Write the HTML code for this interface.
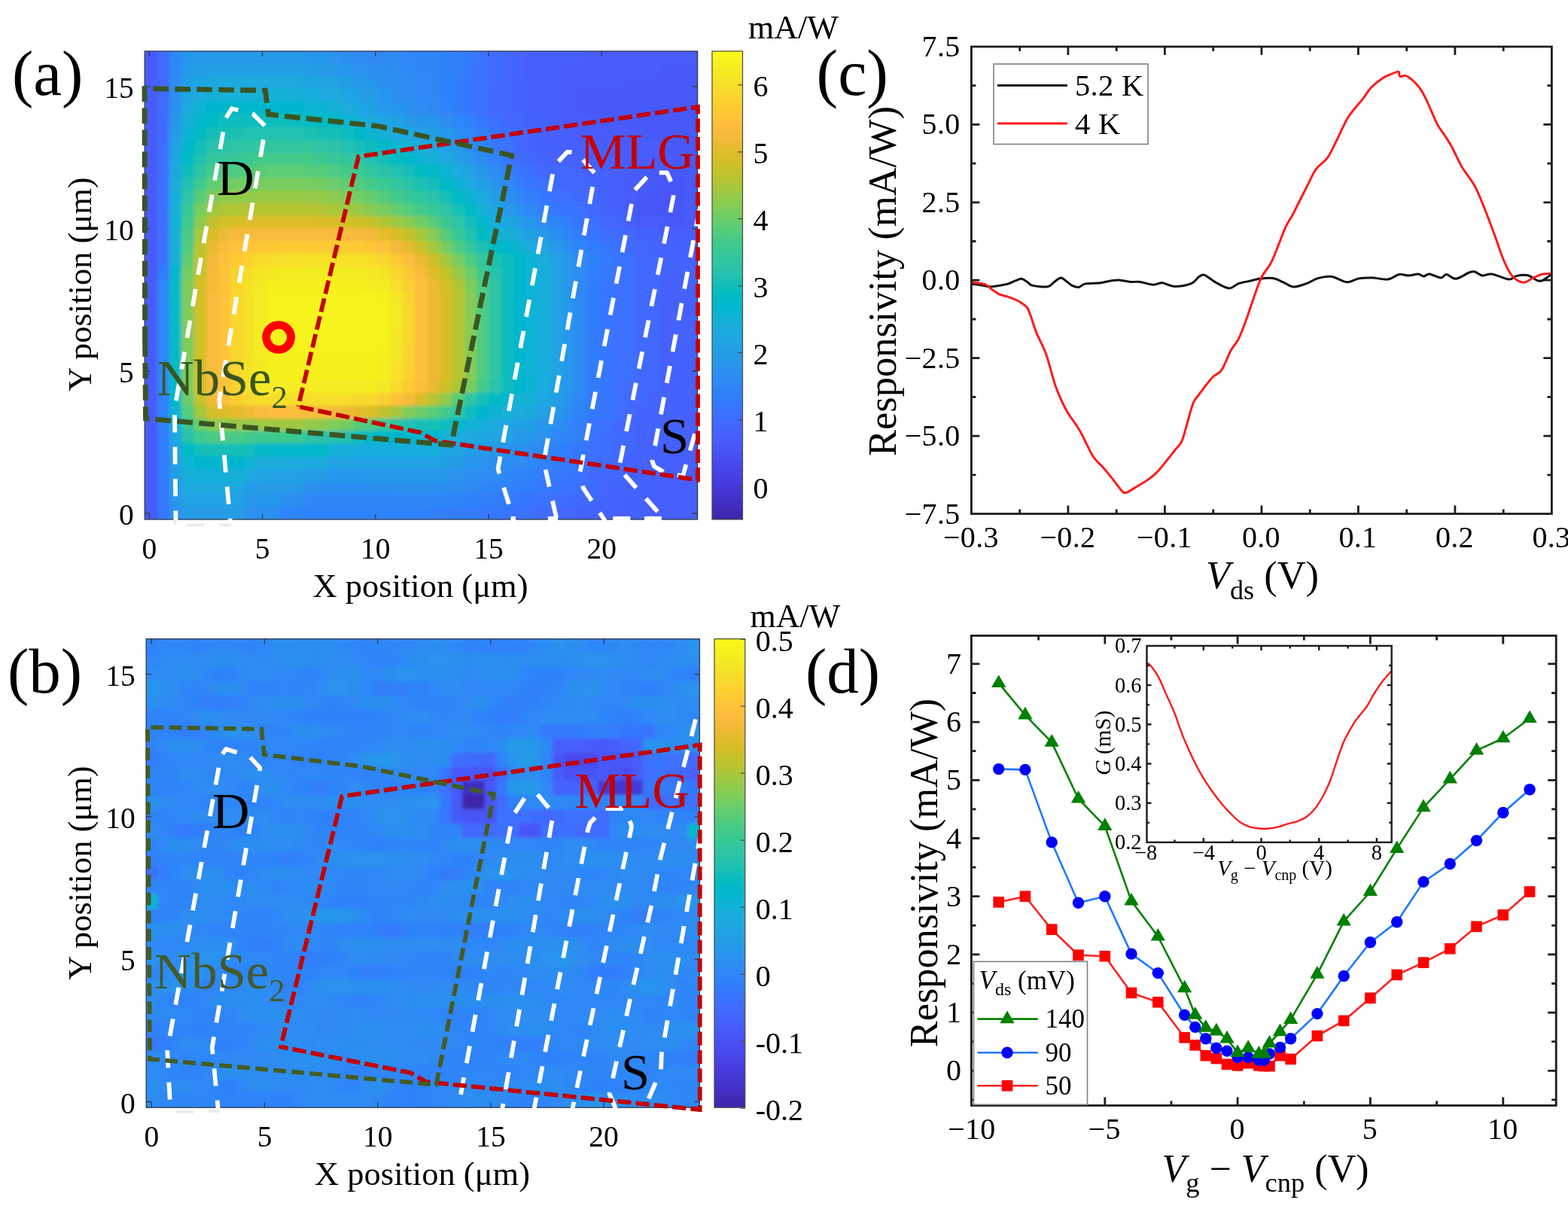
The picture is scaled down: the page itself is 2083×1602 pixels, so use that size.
<!DOCTYPE html>
<html lang="en"><head><meta charset="utf-8"><title>Responsivity maps and curves</title>
<style>html,body{margin:0;padding:0;background:#fff}body{width:2083px;height:1602px;overflow:hidden}svg{display:block}text{font-family:'Liberation Serif',serif}.i{font-style:italic}.t{letter-spacing:.3px}</style></head><body>
<svg width="2083" height="1602" viewBox="0 0 2083 1602">
<rect width="2083" height="1602" fill="#fff"/>
<g id="panel-a">
<clipPath id="hca"><rect x="192.2" y="68" width="734.4" height="622"/></clipPath>
<filter id="hba" x="-5%" y="-5%" width="110%" height="110%"><feGaussianBlur stdDeviation="2.2"/></filter>
<g clip-path="url(#hca)"><g filter="url(#hba)" shape-rendering="crispEdges">
<rect x="175.9" y="51.2" width="33" height="17.2" fill="#475cfa"/>
<rect x="208.5" y="51.2" width="16.7" height="17.2" fill="#406cfe"/>
<rect x="224.8" y="51.2" width="16.7" height="17.2" fill="#2e87f7"/>
<rect x="241.2" y="51.2" width="16.7" height="17.2" fill="#2895ec"/>
<rect x="257.5" y="51.2" width="147.3" height="17.2" fill="#2699e9"/>
<rect x="404.4" y="51.2" width="16.7" height="17.2" fill="#2797eb"/>
<rect x="420.7" y="51.2" width="16.7" height="17.2" fill="#2895ec"/>
<rect x="437" y="51.2" width="16.7" height="17.2" fill="#2a93ee"/>
<rect x="453.3" y="51.2" width="16.7" height="17.2" fill="#2c8ef1"/>
<rect x="469.6" y="51.2" width="16.7" height="17.2" fill="#2d8cf3"/>
<rect x="486" y="51.2" width="49.4" height="17.2" fill="#2d89f5"/>
<rect x="534.9" y="51.2" width="49.4" height="17.2" fill="#2e87f7"/>
<rect x="583.9" y="51.2" width="16.7" height="17.2" fill="#2f82fa"/>
<rect x="600.2" y="51.2" width="16.7" height="17.2" fill="#307ffb"/>
<rect x="616.5" y="51.2" width="16.7" height="17.2" fill="#347afd"/>
<rect x="632.8" y="51.2" width="16.7" height="17.2" fill="#3c72ff"/>
<rect x="649.2" y="51.2" width="16.7" height="17.2" fill="#406cfe"/>
<rect x="665.5" y="51.2" width="16.7" height="17.2" fill="#4367fd"/>
<rect x="681.8" y="51.2" width="16.7" height="17.2" fill="#4464fd"/>
<rect x="698.1" y="51.2" width="82" height="17.2" fill="#465ffb"/>
<rect x="779.7" y="51.2" width="163.6" height="17.2" fill="#475cfa"/>
<rect x="175.9" y="68" width="33" height="17.2" fill="#475cfa"/>
<rect x="208.5" y="68" width="16.7" height="17.2" fill="#406cfe"/>
<rect x="224.8" y="68" width="16.7" height="17.2" fill="#2e87f7"/>
<rect x="241.2" y="68" width="16.7" height="17.2" fill="#2895ec"/>
<rect x="257.5" y="68" width="147.3" height="17.2" fill="#2699e9"/>
<rect x="404.4" y="68" width="16.7" height="17.2" fill="#2797eb"/>
<rect x="420.7" y="68" width="16.7" height="17.2" fill="#2895ec"/>
<rect x="437" y="68" width="16.7" height="17.2" fill="#2a93ee"/>
<rect x="453.3" y="68" width="16.7" height="17.2" fill="#2c8ef1"/>
<rect x="469.6" y="68" width="16.7" height="17.2" fill="#2d8cf3"/>
<rect x="486" y="68" width="49.4" height="17.2" fill="#2d89f5"/>
<rect x="534.9" y="68" width="49.4" height="17.2" fill="#2e87f7"/>
<rect x="583.9" y="68" width="16.7" height="17.2" fill="#2f82fa"/>
<rect x="600.2" y="68" width="16.7" height="17.2" fill="#307ffb"/>
<rect x="616.5" y="68" width="16.7" height="17.2" fill="#347afd"/>
<rect x="632.8" y="68" width="16.7" height="17.2" fill="#3c72ff"/>
<rect x="649.2" y="68" width="16.7" height="17.2" fill="#406cfe"/>
<rect x="665.5" y="68" width="16.7" height="17.2" fill="#4367fd"/>
<rect x="681.8" y="68" width="16.7" height="17.2" fill="#4464fd"/>
<rect x="698.1" y="68" width="82" height="17.2" fill="#465ffb"/>
<rect x="779.7" y="68" width="163.6" height="17.2" fill="#475cfa"/>
<rect x="175.9" y="84.8" width="33" height="17.2" fill="#475cfa"/>
<rect x="208.5" y="84.8" width="16.7" height="17.2" fill="#406cfe"/>
<rect x="224.8" y="84.8" width="16.7" height="17.2" fill="#2d89f5"/>
<rect x="241.2" y="84.8" width="16.7" height="17.2" fill="#2699e9"/>
<rect x="257.5" y="84.8" width="16.7" height="17.2" fill="#23a0e5"/>
<rect x="273.8" y="84.8" width="131" height="17.2" fill="#22a2e4"/>
<rect x="404.4" y="84.8" width="16.7" height="17.2" fill="#249ee6"/>
<rect x="420.7" y="84.8" width="16.7" height="17.2" fill="#259ce7"/>
<rect x="437" y="84.8" width="16.7" height="17.2" fill="#2699e9"/>
<rect x="453.3" y="84.8" width="16.7" height="17.2" fill="#2797eb"/>
<rect x="469.6" y="84.8" width="16.7" height="17.2" fill="#2a93ee"/>
<rect x="486" y="84.8" width="16.7" height="17.2" fill="#2b90ef"/>
<rect x="502.3" y="84.8" width="16.7" height="17.2" fill="#2c8ef1"/>
<rect x="518.6" y="84.8" width="16.7" height="17.2" fill="#2d8cf3"/>
<rect x="534.9" y="84.8" width="16.7" height="17.2" fill="#2d89f5"/>
<rect x="551.2" y="84.8" width="33" height="17.2" fill="#2e87f7"/>
<rect x="583.9" y="84.8" width="16.7" height="17.2" fill="#2f82fa"/>
<rect x="600.2" y="84.8" width="16.7" height="17.2" fill="#307ffb"/>
<rect x="616.5" y="84.8" width="16.7" height="17.2" fill="#3677fe"/>
<rect x="632.8" y="84.8" width="16.7" height="17.2" fill="#3c72ff"/>
<rect x="649.2" y="84.8" width="16.7" height="17.2" fill="#406cfe"/>
<rect x="665.5" y="84.8" width="16.7" height="17.2" fill="#4367fd"/>
<rect x="681.8" y="84.8" width="16.7" height="17.2" fill="#4464fd"/>
<rect x="698.1" y="84.8" width="49.4" height="17.2" fill="#465ffb"/>
<rect x="747.1" y="84.8" width="131" height="17.2" fill="#475cfa"/>
<rect x="877.6" y="84.8" width="65.7" height="17.2" fill="#475af9"/>
<rect x="175.9" y="101.6" width="33" height="17.2" fill="#475cfa"/>
<rect x="208.5" y="101.6" width="16.7" height="17.2" fill="#406cfe"/>
<rect x="224.8" y="101.6" width="16.7" height="17.2" fill="#2d8cf3"/>
<rect x="241.2" y="101.6" width="16.7" height="17.2" fill="#23a0e5"/>
<rect x="257.5" y="101.6" width="16.7" height="17.2" fill="#1fa6e2"/>
<rect x="273.8" y="101.6" width="16.7" height="17.2" fill="#1da8e0"/>
<rect x="290.1" y="101.6" width="98.3" height="17.2" fill="#1caadf"/>
<rect x="388" y="101.6" width="16.7" height="17.2" fill="#1da8e0"/>
<rect x="404.4" y="101.6" width="16.7" height="17.2" fill="#1fa6e2"/>
<rect x="420.7" y="101.6" width="16.7" height="17.2" fill="#20a4e3"/>
<rect x="437" y="101.6" width="16.7" height="17.2" fill="#22a2e4"/>
<rect x="453.3" y="101.6" width="16.7" height="17.2" fill="#249ee6"/>
<rect x="469.6" y="101.6" width="16.7" height="17.2" fill="#2699e9"/>
<rect x="486" y="101.6" width="16.7" height="17.2" fill="#2895ec"/>
<rect x="502.3" y="101.6" width="16.7" height="17.2" fill="#2b90ef"/>
<rect x="518.6" y="101.6" width="16.7" height="17.2" fill="#2c8ef1"/>
<rect x="534.9" y="101.6" width="16.7" height="17.2" fill="#2d8cf3"/>
<rect x="551.2" y="101.6" width="16.7" height="17.2" fill="#2d89f5"/>
<rect x="567.6" y="101.6" width="16.7" height="17.2" fill="#2e87f7"/>
<rect x="583.9" y="101.6" width="16.7" height="17.2" fill="#2f82fa"/>
<rect x="600.2" y="101.6" width="16.7" height="17.2" fill="#317dfc"/>
<rect x="616.5" y="101.6" width="16.7" height="17.2" fill="#3677fe"/>
<rect x="632.8" y="101.6" width="16.7" height="17.2" fill="#3c72ff"/>
<rect x="649.2" y="101.6" width="16.7" height="17.2" fill="#406cfe"/>
<rect x="665.5" y="101.6" width="16.7" height="17.2" fill="#4367fd"/>
<rect x="681.8" y="101.6" width="16.7" height="17.2" fill="#4464fd"/>
<rect x="698.1" y="101.6" width="16.7" height="17.2" fill="#4562fc"/>
<rect x="714.4" y="101.6" width="33" height="17.2" fill="#465ffb"/>
<rect x="747.1" y="101.6" width="82" height="17.2" fill="#475cfa"/>
<rect x="828.7" y="101.6" width="114.6" height="17.2" fill="#475af9"/>
<rect x="175.9" y="118.4" width="33" height="17.2" fill="#475cfa"/>
<rect x="208.5" y="118.4" width="16.7" height="17.2" fill="#406cfe"/>
<rect x="224.8" y="118.4" width="16.7" height="17.2" fill="#2c8ef1"/>
<rect x="241.2" y="118.4" width="16.7" height="17.2" fill="#1fa6e2"/>
<rect x="257.5" y="118.4" width="16.7" height="17.2" fill="#1aacdd"/>
<rect x="273.8" y="118.4" width="16.7" height="17.2" fill="#15afd8"/>
<rect x="290.1" y="118.4" width="98.3" height="17.2" fill="#12b1d6"/>
<rect x="388" y="118.4" width="16.7" height="17.2" fill="#15afd8"/>
<rect x="404.4" y="118.4" width="16.7" height="17.2" fill="#18aedb"/>
<rect x="420.7" y="118.4" width="16.7" height="17.2" fill="#1aacdd"/>
<rect x="437" y="118.4" width="16.7" height="17.2" fill="#1caadf"/>
<rect x="453.3" y="118.4" width="16.7" height="17.2" fill="#1fa6e2"/>
<rect x="469.6" y="118.4" width="16.7" height="17.2" fill="#23a0e5"/>
<rect x="486" y="118.4" width="16.7" height="17.2" fill="#259ce7"/>
<rect x="502.3" y="118.4" width="16.7" height="17.2" fill="#2895ec"/>
<rect x="518.6" y="118.4" width="16.7" height="17.2" fill="#2b90ef"/>
<rect x="534.9" y="118.4" width="16.7" height="17.2" fill="#2d8cf3"/>
<rect x="551.2" y="118.4" width="16.7" height="17.2" fill="#2d89f5"/>
<rect x="567.6" y="118.4" width="16.7" height="17.2" fill="#2e87f7"/>
<rect x="583.9" y="118.4" width="16.7" height="17.2" fill="#2f82fa"/>
<rect x="600.2" y="118.4" width="16.7" height="17.2" fill="#317dfc"/>
<rect x="616.5" y="118.4" width="16.7" height="17.2" fill="#3677fe"/>
<rect x="632.8" y="118.4" width="16.7" height="17.2" fill="#3c72ff"/>
<rect x="649.2" y="118.4" width="16.7" height="17.2" fill="#4269fe"/>
<rect x="665.5" y="118.4" width="16.7" height="17.2" fill="#4367fd"/>
<rect x="681.8" y="118.4" width="16.7" height="17.2" fill="#4464fd"/>
<rect x="698.1" y="118.4" width="16.7" height="17.2" fill="#4562fc"/>
<rect x="714.4" y="118.4" width="33" height="17.2" fill="#465ffb"/>
<rect x="747.1" y="118.4" width="16.7" height="17.2" fill="#475cfa"/>
<rect x="763.4" y="118.4" width="179.9" height="17.2" fill="#475af9"/>
<rect x="175.9" y="135.2" width="33" height="17.2" fill="#475cfa"/>
<rect x="208.5" y="135.2" width="16.7" height="17.2" fill="#406cfe"/>
<rect x="224.8" y="135.2" width="16.7" height="17.2" fill="#2b90ef"/>
<rect x="241.2" y="135.2" width="16.7" height="17.2" fill="#1aacdd"/>
<rect x="257.5" y="135.2" width="16.7" height="17.2" fill="#0db3d3"/>
<rect x="273.8" y="135.2" width="16.7" height="17.2" fill="#05b6ce"/>
<rect x="290.1" y="135.2" width="82" height="17.2" fill="#02b7cb"/>
<rect x="371.7" y="135.2" width="33" height="17.2" fill="#05b6ce"/>
<rect x="404.4" y="135.2" width="16.7" height="17.2" fill="#09b4d1"/>
<rect x="420.7" y="135.2" width="16.7" height="17.2" fill="#0db3d3"/>
<rect x="437" y="135.2" width="16.7" height="17.2" fill="#12b1d6"/>
<rect x="453.3" y="135.2" width="16.7" height="17.2" fill="#1aacdd"/>
<rect x="469.6" y="135.2" width="16.7" height="17.2" fill="#1fa6e2"/>
<rect x="486" y="135.2" width="16.7" height="17.2" fill="#23a0e5"/>
<rect x="502.3" y="135.2" width="16.7" height="17.2" fill="#2699e9"/>
<rect x="518.6" y="135.2" width="16.7" height="17.2" fill="#2895ec"/>
<rect x="534.9" y="135.2" width="16.7" height="17.2" fill="#2b90ef"/>
<rect x="551.2" y="135.2" width="16.7" height="17.2" fill="#2d8cf3"/>
<rect x="567.6" y="135.2" width="16.7" height="17.2" fill="#2d89f5"/>
<rect x="583.9" y="135.2" width="16.7" height="17.2" fill="#2e84f8"/>
<rect x="600.2" y="135.2" width="16.7" height="17.2" fill="#317dfc"/>
<rect x="616.5" y="135.2" width="16.7" height="17.2" fill="#3677fe"/>
<rect x="632.8" y="135.2" width="16.7" height="17.2" fill="#3c72ff"/>
<rect x="649.2" y="135.2" width="16.7" height="17.2" fill="#4269fe"/>
<rect x="665.5" y="135.2" width="16.7" height="17.2" fill="#4367fd"/>
<rect x="681.8" y="135.2" width="16.7" height="17.2" fill="#4464fd"/>
<rect x="698.1" y="135.2" width="16.7" height="17.2" fill="#4562fc"/>
<rect x="714.4" y="135.2" width="33" height="17.2" fill="#465ffb"/>
<rect x="747.1" y="135.2" width="16.7" height="17.2" fill="#475cfa"/>
<rect x="763.4" y="135.2" width="147.3" height="17.2" fill="#475af9"/>
<rect x="910.3" y="135.2" width="33" height="17.2" fill="#4757f7"/>
<rect x="175.9" y="152.1" width="33" height="17.2" fill="#475cfa"/>
<rect x="208.5" y="152.1" width="16.7" height="17.2" fill="#406cfe"/>
<rect x="224.8" y="152.1" width="16.7" height="17.2" fill="#2797eb"/>
<rect x="241.2" y="152.1" width="16.7" height="17.2" fill="#15afd8"/>
<rect x="257.5" y="152.1" width="16.7" height="17.2" fill="#02b7cb"/>
<rect x="273.8" y="152.1" width="16.7" height="17.2" fill="#01bac5"/>
<rect x="290.1" y="152.1" width="49.4" height="17.2" fill="#07bcbf"/>
<rect x="339.1" y="152.1" width="33" height="17.2" fill="#0cbdbc"/>
<rect x="371.7" y="152.1" width="33" height="17.2" fill="#07bcbf"/>
<rect x="404.4" y="152.1" width="16.7" height="17.2" fill="#03bbc2"/>
<rect x="420.7" y="152.1" width="16.7" height="17.2" fill="#01bac5"/>
<rect x="437" y="152.1" width="16.7" height="17.2" fill="#01b8c8"/>
<rect x="453.3" y="152.1" width="16.7" height="17.2" fill="#09b4d1"/>
<rect x="469.6" y="152.1" width="16.7" height="17.2" fill="#15afd8"/>
<rect x="486" y="152.1" width="16.7" height="17.2" fill="#1caadf"/>
<rect x="502.3" y="152.1" width="16.7" height="17.2" fill="#1fa6e2"/>
<rect x="518.6" y="152.1" width="16.7" height="17.2" fill="#23a0e5"/>
<rect x="534.9" y="152.1" width="16.7" height="17.2" fill="#2699e9"/>
<rect x="551.2" y="152.1" width="16.7" height="17.2" fill="#2895ec"/>
<rect x="567.6" y="152.1" width="16.7" height="17.2" fill="#2a93ee"/>
<rect x="583.9" y="152.1" width="16.7" height="17.2" fill="#2d8cf3"/>
<rect x="600.2" y="152.1" width="16.7" height="17.2" fill="#2e87f7"/>
<rect x="616.5" y="152.1" width="16.7" height="17.2" fill="#307ffb"/>
<rect x="632.8" y="152.1" width="16.7" height="17.2" fill="#3677fe"/>
<rect x="649.2" y="152.1" width="16.7" height="17.2" fill="#3e6fff"/>
<rect x="665.5" y="152.1" width="16.7" height="17.2" fill="#4269fe"/>
<rect x="681.8" y="152.1" width="16.7" height="17.2" fill="#4367fd"/>
<rect x="698.1" y="152.1" width="33" height="17.2" fill="#4562fc"/>
<rect x="730.8" y="152.1" width="16.7" height="17.2" fill="#465ffb"/>
<rect x="747.1" y="152.1" width="49.4" height="17.2" fill="#475cfa"/>
<rect x="796" y="152.1" width="147.3" height="17.2" fill="#475af9"/>
<rect x="175.9" y="168.9" width="33" height="17.2" fill="#475cfa"/>
<rect x="208.5" y="168.9" width="16.7" height="17.2" fill="#406cfe"/>
<rect x="224.8" y="168.9" width="16.7" height="17.2" fill="#259ce7"/>
<rect x="241.2" y="168.9" width="16.7" height="17.2" fill="#0db3d3"/>
<rect x="257.5" y="168.9" width="16.7" height="17.2" fill="#03bbc2"/>
<rect x="273.8" y="168.9" width="16.7" height="17.2" fill="#12beb9"/>
<rect x="290.1" y="168.9" width="16.7" height="17.2" fill="#18bfb6"/>
<rect x="306.4" y="168.9" width="16.7" height="17.2" fill="#1dc0b3"/>
<rect x="322.8" y="168.9" width="82" height="17.2" fill="#22c1b0"/>
<rect x="404.4" y="168.9" width="16.7" height="17.2" fill="#1dc0b3"/>
<rect x="420.7" y="168.9" width="16.7" height="17.2" fill="#18bfb6"/>
<rect x="437" y="168.9" width="16.7" height="17.2" fill="#12beb9"/>
<rect x="453.3" y="168.9" width="16.7" height="17.2" fill="#07bcbf"/>
<rect x="469.6" y="168.9" width="16.7" height="17.2" fill="#01b8c8"/>
<rect x="486" y="168.9" width="16.7" height="17.2" fill="#09b4d1"/>
<rect x="502.3" y="168.9" width="16.7" height="17.2" fill="#15afd8"/>
<rect x="518.6" y="168.9" width="16.7" height="17.2" fill="#1caadf"/>
<rect x="534.9" y="168.9" width="16.7" height="17.2" fill="#1fa6e2"/>
<rect x="551.2" y="168.9" width="16.7" height="17.2" fill="#22a2e4"/>
<rect x="567.6" y="168.9" width="16.7" height="17.2" fill="#249ee6"/>
<rect x="583.9" y="168.9" width="16.7" height="17.2" fill="#2797eb"/>
<rect x="600.2" y="168.9" width="16.7" height="17.2" fill="#2b90ef"/>
<rect x="616.5" y="168.9" width="16.7" height="17.2" fill="#2e87f7"/>
<rect x="632.8" y="168.9" width="16.7" height="17.2" fill="#307ffb"/>
<rect x="649.2" y="168.9" width="16.7" height="17.2" fill="#3974fe"/>
<rect x="665.5" y="168.9" width="16.7" height="17.2" fill="#3e6fff"/>
<rect x="681.8" y="168.9" width="16.7" height="17.2" fill="#4269fe"/>
<rect x="698.1" y="168.9" width="16.7" height="17.2" fill="#4464fd"/>
<rect x="714.4" y="168.9" width="16.7" height="17.2" fill="#4562fc"/>
<rect x="730.8" y="168.9" width="33" height="17.2" fill="#465ffb"/>
<rect x="763.4" y="168.9" width="82" height="17.2" fill="#475cfa"/>
<rect x="845" y="168.9" width="98.3" height="17.2" fill="#475af9"/>
<rect x="175.9" y="185.7" width="33" height="17.2" fill="#475cfa"/>
<rect x="208.5" y="185.7" width="16.7" height="17.2" fill="#3e6fff"/>
<rect x="224.8" y="185.7" width="16.7" height="17.2" fill="#22a2e4"/>
<rect x="241.2" y="185.7" width="16.7" height="17.2" fill="#02b7cb"/>
<rect x="257.5" y="185.7" width="16.7" height="17.2" fill="#12beb9"/>
<rect x="273.8" y="185.7" width="16.7" height="17.2" fill="#26c2ac"/>
<rect x="290.1" y="185.7" width="16.7" height="17.2" fill="#2ac3a9"/>
<rect x="306.4" y="185.7" width="16.7" height="17.2" fill="#2dc4a6"/>
<rect x="322.8" y="185.7" width="16.7" height="17.2" fill="#2fc5a2"/>
<rect x="339.1" y="185.7" width="82" height="17.2" fill="#32c69f"/>
<rect x="420.7" y="185.7" width="16.7" height="17.2" fill="#2dc4a6"/>
<rect x="437" y="185.7" width="16.7" height="17.2" fill="#2ac3a9"/>
<rect x="453.3" y="185.7" width="16.7" height="17.2" fill="#22c1b0"/>
<rect x="469.6" y="185.7" width="16.7" height="17.2" fill="#12beb9"/>
<rect x="486" y="185.7" width="16.7" height="17.2" fill="#07bcbf"/>
<rect x="502.3" y="185.7" width="16.7" height="17.2" fill="#01b8c8"/>
<rect x="518.6" y="185.7" width="16.7" height="17.2" fill="#09b4d1"/>
<rect x="534.9" y="185.7" width="16.7" height="17.2" fill="#12b1d6"/>
<rect x="551.2" y="185.7" width="16.7" height="17.2" fill="#1aacdd"/>
<rect x="567.6" y="185.7" width="16.7" height="17.2" fill="#1da8e0"/>
<rect x="583.9" y="185.7" width="16.7" height="17.2" fill="#22a2e4"/>
<rect x="600.2" y="185.7" width="16.7" height="17.2" fill="#2699e9"/>
<rect x="616.5" y="185.7" width="16.7" height="17.2" fill="#2b90ef"/>
<rect x="632.8" y="185.7" width="16.7" height="17.2" fill="#2e84f8"/>
<rect x="649.2" y="185.7" width="16.7" height="17.2" fill="#347afd"/>
<rect x="665.5" y="185.7" width="16.7" height="17.2" fill="#3c72ff"/>
<rect x="681.8" y="185.7" width="16.7" height="17.2" fill="#4269fe"/>
<rect x="698.1" y="185.7" width="16.7" height="17.2" fill="#4464fd"/>
<rect x="714.4" y="185.7" width="33" height="17.2" fill="#4562fc"/>
<rect x="747.1" y="185.7" width="65.7" height="17.2" fill="#465ffb"/>
<rect x="812.4" y="185.7" width="65.7" height="17.2" fill="#475cfa"/>
<rect x="877.6" y="185.7" width="65.7" height="17.2" fill="#475af9"/>
<rect x="175.9" y="202.5" width="33" height="17.2" fill="#475cfa"/>
<rect x="208.5" y="202.5" width="16.7" height="17.2" fill="#3e6fff"/>
<rect x="224.8" y="202.5" width="16.7" height="17.2" fill="#1fa6e2"/>
<rect x="241.2" y="202.5" width="16.7" height="17.2" fill="#01bac5"/>
<rect x="257.5" y="202.5" width="16.7" height="17.2" fill="#22c1b0"/>
<rect x="273.8" y="202.5" width="16.7" height="17.2" fill="#32c69f"/>
<rect x="290.1" y="202.5" width="16.7" height="17.2" fill="#35c79b"/>
<rect x="306.4" y="202.5" width="16.7" height="17.2" fill="#37c897"/>
<rect x="322.8" y="202.5" width="16.7" height="17.2" fill="#3bc993"/>
<rect x="339.1" y="202.5" width="82" height="17.2" fill="#43ca8b"/>
<rect x="420.7" y="202.5" width="16.7" height="17.2" fill="#3bc993"/>
<rect x="437" y="202.5" width="16.7" height="17.2" fill="#37c897"/>
<rect x="453.3" y="202.5" width="16.7" height="17.2" fill="#32c69f"/>
<rect x="469.6" y="202.5" width="16.7" height="17.2" fill="#2dc4a6"/>
<rect x="486" y="202.5" width="16.7" height="17.2" fill="#22c1b0"/>
<rect x="502.3" y="202.5" width="16.7" height="17.2" fill="#12beb9"/>
<rect x="518.6" y="202.5" width="16.7" height="17.2" fill="#03bbc2"/>
<rect x="534.9" y="202.5" width="16.7" height="17.2" fill="#01b8c8"/>
<rect x="551.2" y="202.5" width="16.7" height="17.2" fill="#09b4d1"/>
<rect x="567.6" y="202.5" width="16.7" height="17.2" fill="#12b1d6"/>
<rect x="583.9" y="202.5" width="16.7" height="17.2" fill="#1caadf"/>
<rect x="600.2" y="202.5" width="16.7" height="17.2" fill="#22a2e4"/>
<rect x="616.5" y="202.5" width="16.7" height="17.2" fill="#2797eb"/>
<rect x="632.8" y="202.5" width="16.7" height="17.2" fill="#2d8cf3"/>
<rect x="649.2" y="202.5" width="16.7" height="17.2" fill="#2f82fa"/>
<rect x="665.5" y="202.5" width="16.7" height="17.2" fill="#3677fe"/>
<rect x="681.8" y="202.5" width="16.7" height="17.2" fill="#406cfe"/>
<rect x="698.1" y="202.5" width="16.7" height="17.2" fill="#4367fd"/>
<rect x="714.4" y="202.5" width="33" height="17.2" fill="#4464fd"/>
<rect x="747.1" y="202.5" width="33" height="17.2" fill="#4562fc"/>
<rect x="779.7" y="202.5" width="49.4" height="17.2" fill="#465ffb"/>
<rect x="828.7" y="202.5" width="65.7" height="17.2" fill="#475cfa"/>
<rect x="894" y="202.5" width="49.4" height="17.2" fill="#475af9"/>
<rect x="175.9" y="219.3" width="33" height="17.2" fill="#475cfa"/>
<rect x="208.5" y="219.3" width="16.7" height="17.2" fill="#3e6fff"/>
<rect x="224.8" y="219.3" width="16.7" height="17.2" fill="#1caadf"/>
<rect x="241.2" y="219.3" width="16.7" height="17.2" fill="#0cbdbc"/>
<rect x="257.5" y="219.3" width="16.7" height="17.2" fill="#2fc5a2"/>
<rect x="273.8" y="219.3" width="16.7" height="17.2" fill="#43ca8b"/>
<rect x="290.1" y="219.3" width="16.7" height="17.2" fill="#48cb86"/>
<rect x="306.4" y="219.3" width="16.7" height="17.2" fill="#4dcc82"/>
<rect x="322.8" y="219.3" width="16.7" height="17.2" fill="#53cc7d"/>
<rect x="339.1" y="219.3" width="16.7" height="17.2" fill="#59cc78"/>
<rect x="355.4" y="219.3" width="49.4" height="17.2" fill="#5fcd73"/>
<rect x="404.4" y="219.3" width="16.7" height="17.2" fill="#59cc78"/>
<rect x="420.7" y="219.3" width="16.7" height="17.2" fill="#53cc7d"/>
<rect x="437" y="219.3" width="16.7" height="17.2" fill="#4dcc82"/>
<rect x="453.3" y="219.3" width="16.7" height="17.2" fill="#43ca8b"/>
<rect x="469.6" y="219.3" width="16.7" height="17.2" fill="#3bc993"/>
<rect x="486" y="219.3" width="16.7" height="17.2" fill="#32c69f"/>
<rect x="502.3" y="219.3" width="16.7" height="17.2" fill="#2ac3a9"/>
<rect x="518.6" y="219.3" width="16.7" height="17.2" fill="#22c1b0"/>
<rect x="534.9" y="219.3" width="16.7" height="17.2" fill="#12beb9"/>
<rect x="551.2" y="219.3" width="16.7" height="17.2" fill="#03bbc2"/>
<rect x="567.6" y="219.3" width="16.7" height="17.2" fill="#01b8c8"/>
<rect x="583.9" y="219.3" width="16.7" height="17.2" fill="#0db3d3"/>
<rect x="600.2" y="219.3" width="16.7" height="17.2" fill="#1aacdd"/>
<rect x="616.5" y="219.3" width="16.7" height="17.2" fill="#22a2e4"/>
<rect x="632.8" y="219.3" width="16.7" height="17.2" fill="#2797eb"/>
<rect x="649.2" y="219.3" width="16.7" height="17.2" fill="#2d8cf3"/>
<rect x="665.5" y="219.3" width="16.7" height="17.2" fill="#307ffb"/>
<rect x="681.8" y="219.3" width="16.7" height="17.2" fill="#3677fe"/>
<rect x="698.1" y="219.3" width="16.7" height="17.2" fill="#3e6fff"/>
<rect x="714.4" y="219.3" width="16.7" height="17.2" fill="#4269fe"/>
<rect x="730.8" y="219.3" width="33" height="17.2" fill="#4367fd"/>
<rect x="763.4" y="219.3" width="16.7" height="17.2" fill="#4464fd"/>
<rect x="779.7" y="219.3" width="33" height="17.2" fill="#4562fc"/>
<rect x="812.4" y="219.3" width="16.7" height="17.2" fill="#465ffb"/>
<rect x="828.7" y="219.3" width="33" height="17.2" fill="#475cfa"/>
<rect x="861.3" y="219.3" width="82" height="17.2" fill="#475af9"/>
<rect x="175.9" y="236.1" width="33" height="17.2" fill="#475cfa"/>
<rect x="208.5" y="236.1" width="16.7" height="17.2" fill="#3c72ff"/>
<rect x="224.8" y="236.1" width="16.7" height="17.2" fill="#1aacdd"/>
<rect x="241.2" y="236.1" width="16.7" height="17.2" fill="#22c1b0"/>
<rect x="257.5" y="236.1" width="16.7" height="17.2" fill="#3eca8f"/>
<rect x="273.8" y="236.1" width="16.7" height="17.2" fill="#5fcd73"/>
<rect x="290.1" y="236.1" width="16.7" height="17.2" fill="#6bcd69"/>
<rect x="306.4" y="236.1" width="33" height="17.2" fill="#71cd64"/>
<rect x="339.1" y="236.1" width="82" height="17.2" fill="#78cc5f"/>
<rect x="420.7" y="236.1" width="16.7" height="17.2" fill="#71cd64"/>
<rect x="437" y="236.1" width="16.7" height="17.2" fill="#6bcd69"/>
<rect x="453.3" y="236.1" width="16.7" height="17.2" fill="#5fcd73"/>
<rect x="469.6" y="236.1" width="16.7" height="17.2" fill="#53cc7d"/>
<rect x="486" y="236.1" width="16.7" height="17.2" fill="#43ca8b"/>
<rect x="502.3" y="236.1" width="16.7" height="17.2" fill="#3bc993"/>
<rect x="518.6" y="236.1" width="16.7" height="17.2" fill="#32c69f"/>
<rect x="534.9" y="236.1" width="16.7" height="17.2" fill="#2ac3a9"/>
<rect x="551.2" y="236.1" width="16.7" height="17.2" fill="#1dc0b3"/>
<rect x="567.6" y="236.1" width="16.7" height="17.2" fill="#12beb9"/>
<rect x="583.9" y="236.1" width="16.7" height="17.2" fill="#01bac5"/>
<rect x="600.2" y="236.1" width="16.7" height="17.2" fill="#0db3d3"/>
<rect x="616.5" y="236.1" width="16.7" height="17.2" fill="#1caadf"/>
<rect x="632.8" y="236.1" width="16.7" height="17.2" fill="#23a0e5"/>
<rect x="649.2" y="236.1" width="16.7" height="17.2" fill="#2895ec"/>
<rect x="665.5" y="236.1" width="16.7" height="17.2" fill="#2d89f5"/>
<rect x="681.8" y="236.1" width="16.7" height="17.2" fill="#307ffb"/>
<rect x="698.1" y="236.1" width="16.7" height="17.2" fill="#3677fe"/>
<rect x="714.4" y="236.1" width="16.7" height="17.2" fill="#3c72ff"/>
<rect x="730.8" y="236.1" width="16.7" height="17.2" fill="#406cfe"/>
<rect x="747.1" y="236.1" width="16.7" height="17.2" fill="#4269fe"/>
<rect x="763.4" y="236.1" width="16.7" height="17.2" fill="#4367fd"/>
<rect x="779.7" y="236.1" width="16.7" height="17.2" fill="#4464fd"/>
<rect x="796" y="236.1" width="16.7" height="17.2" fill="#4562fc"/>
<rect x="812.4" y="236.1" width="16.7" height="17.2" fill="#465ffb"/>
<rect x="828.7" y="236.1" width="16.7" height="17.2" fill="#475cfa"/>
<rect x="845" y="236.1" width="33" height="17.2" fill="#475af9"/>
<rect x="877.6" y="236.1" width="33" height="17.2" fill="#4757f7"/>
<rect x="910.3" y="236.1" width="33" height="17.2" fill="#475af9"/>
<rect x="175.9" y="252.9" width="33" height="17.2" fill="#475cfa"/>
<rect x="208.5" y="252.9" width="16.7" height="17.2" fill="#3c72ff"/>
<rect x="224.8" y="252.9" width="16.7" height="17.2" fill="#18aedb"/>
<rect x="241.2" y="252.9" width="16.7" height="17.2" fill="#2dc4a6"/>
<rect x="257.5" y="252.9" width="16.7" height="17.2" fill="#59cc78"/>
<rect x="273.8" y="252.9" width="16.7" height="17.2" fill="#7ecc5a"/>
<rect x="290.1" y="252.9" width="16.7" height="17.2" fill="#8ccb50"/>
<rect x="306.4" y="252.9" width="33" height="17.2" fill="#92ca4b"/>
<rect x="339.1" y="252.9" width="82" height="17.2" fill="#98c946"/>
<rect x="420.7" y="252.9" width="16.7" height="17.2" fill="#92ca4b"/>
<rect x="437" y="252.9" width="16.7" height="17.2" fill="#8ccb50"/>
<rect x="453.3" y="252.9" width="16.7" height="17.2" fill="#7ecc5a"/>
<rect x="469.6" y="252.9" width="16.7" height="17.2" fill="#71cd64"/>
<rect x="486" y="252.9" width="16.7" height="17.2" fill="#64cd6e"/>
<rect x="502.3" y="252.9" width="16.7" height="17.2" fill="#53cc7d"/>
<rect x="518.6" y="252.9" width="16.7" height="17.2" fill="#43ca8b"/>
<rect x="534.9" y="252.9" width="16.7" height="17.2" fill="#37c897"/>
<rect x="551.2" y="252.9" width="16.7" height="17.2" fill="#2fc5a2"/>
<rect x="567.6" y="252.9" width="16.7" height="17.2" fill="#2ac3a9"/>
<rect x="583.9" y="252.9" width="16.7" height="17.2" fill="#18bfb6"/>
<rect x="600.2" y="252.9" width="16.7" height="17.2" fill="#01bac5"/>
<rect x="616.5" y="252.9" width="16.7" height="17.2" fill="#0db3d3"/>
<rect x="632.8" y="252.9" width="16.7" height="17.2" fill="#1caadf"/>
<rect x="649.2" y="252.9" width="16.7" height="17.2" fill="#249ee6"/>
<rect x="665.5" y="252.9" width="16.7" height="17.2" fill="#2b90ef"/>
<rect x="681.8" y="252.9" width="16.7" height="17.2" fill="#2e87f7"/>
<rect x="698.1" y="252.9" width="16.7" height="17.2" fill="#307ffb"/>
<rect x="714.4" y="252.9" width="16.7" height="17.2" fill="#3677fe"/>
<rect x="730.8" y="252.9" width="16.7" height="17.2" fill="#3c72ff"/>
<rect x="747.1" y="252.9" width="16.7" height="17.2" fill="#3e6fff"/>
<rect x="763.4" y="252.9" width="16.7" height="17.2" fill="#4269fe"/>
<rect x="779.7" y="252.9" width="16.7" height="17.2" fill="#4367fd"/>
<rect x="796" y="252.9" width="16.7" height="17.2" fill="#4464fd"/>
<rect x="812.4" y="252.9" width="16.7" height="17.2" fill="#465ffb"/>
<rect x="828.7" y="252.9" width="16.7" height="17.2" fill="#475cfa"/>
<rect x="845" y="252.9" width="16.7" height="17.2" fill="#475af9"/>
<rect x="861.3" y="252.9" width="49.4" height="17.2" fill="#4757f7"/>
<rect x="910.3" y="252.9" width="33" height="17.2" fill="#475af9"/>
<rect x="175.9" y="269.7" width="33" height="17.2" fill="#475cfa"/>
<rect x="208.5" y="269.7" width="16.7" height="17.2" fill="#3c72ff"/>
<rect x="224.8" y="269.7" width="16.7" height="17.2" fill="#12b1d6"/>
<rect x="241.2" y="269.7" width="16.7" height="17.2" fill="#37c897"/>
<rect x="257.5" y="269.7" width="16.7" height="17.2" fill="#78cc5f"/>
<rect x="273.8" y="269.7" width="16.7" height="17.2" fill="#9fc942"/>
<rect x="290.1" y="269.7" width="33" height="17.2" fill="#b1c635"/>
<rect x="322.8" y="269.7" width="98.3" height="17.2" fill="#b7c532"/>
<rect x="420.7" y="269.7" width="16.7" height="17.2" fill="#b1c635"/>
<rect x="437" y="269.7" width="16.7" height="17.2" fill="#abc739"/>
<rect x="453.3" y="269.7" width="16.7" height="17.2" fill="#9fc942"/>
<rect x="469.6" y="269.7" width="16.7" height="17.2" fill="#98c946"/>
<rect x="486" y="269.7" width="16.7" height="17.2" fill="#85cb55"/>
<rect x="502.3" y="269.7" width="16.7" height="17.2" fill="#78cc5f"/>
<rect x="518.6" y="269.7" width="16.7" height="17.2" fill="#64cd6e"/>
<rect x="534.9" y="269.7" width="16.7" height="17.2" fill="#53cc7d"/>
<rect x="551.2" y="269.7" width="16.7" height="17.2" fill="#43ca8b"/>
<rect x="567.6" y="269.7" width="16.7" height="17.2" fill="#37c897"/>
<rect x="583.9" y="269.7" width="16.7" height="17.2" fill="#2dc4a6"/>
<rect x="600.2" y="269.7" width="16.7" height="17.2" fill="#18bfb6"/>
<rect x="616.5" y="269.7" width="16.7" height="17.2" fill="#01bac5"/>
<rect x="632.8" y="269.7" width="16.7" height="17.2" fill="#12b1d6"/>
<rect x="649.2" y="269.7" width="16.7" height="17.2" fill="#1fa6e2"/>
<rect x="665.5" y="269.7" width="16.7" height="17.2" fill="#2699e9"/>
<rect x="681.8" y="269.7" width="16.7" height="17.2" fill="#2b90ef"/>
<rect x="698.1" y="269.7" width="16.7" height="17.2" fill="#2e87f7"/>
<rect x="714.4" y="269.7" width="16.7" height="17.2" fill="#307ffb"/>
<rect x="730.8" y="269.7" width="16.7" height="17.2" fill="#3677fe"/>
<rect x="747.1" y="269.7" width="16.7" height="17.2" fill="#3974fe"/>
<rect x="763.4" y="269.7" width="16.7" height="17.2" fill="#3e6fff"/>
<rect x="779.7" y="269.7" width="16.7" height="17.2" fill="#4269fe"/>
<rect x="796" y="269.7" width="16.7" height="17.2" fill="#4464fd"/>
<rect x="812.4" y="269.7" width="16.7" height="17.2" fill="#4562fc"/>
<rect x="828.7" y="269.7" width="16.7" height="17.2" fill="#475cfa"/>
<rect x="845" y="269.7" width="65.7" height="17.2" fill="#4757f7"/>
<rect x="910.3" y="269.7" width="33" height="17.2" fill="#475cfa"/>
<rect x="175.9" y="286.5" width="33" height="17.2" fill="#475cfa"/>
<rect x="208.5" y="286.5" width="16.7" height="17.2" fill="#3c72ff"/>
<rect x="224.8" y="286.5" width="16.7" height="17.2" fill="#12b1d6"/>
<rect x="241.2" y="286.5" width="16.7" height="17.2" fill="#3eca8f"/>
<rect x="257.5" y="286.5" width="16.7" height="17.2" fill="#8ccb50"/>
<rect x="273.8" y="286.5" width="16.7" height="17.2" fill="#bdc32e"/>
<rect x="290.1" y="286.5" width="16.7" height="17.2" fill="#d3bf27"/>
<rect x="306.4" y="286.5" width="16.7" height="17.2" fill="#d8be28"/>
<rect x="322.8" y="286.5" width="98.3" height="17.2" fill="#ddbd29"/>
<rect x="420.7" y="286.5" width="33" height="17.2" fill="#d8be28"/>
<rect x="453.3" y="286.5" width="16.7" height="17.2" fill="#d3bf27"/>
<rect x="469.6" y="286.5" width="16.7" height="17.2" fill="#cec028"/>
<rect x="486" y="286.5" width="16.7" height="17.2" fill="#c3c22b"/>
<rect x="502.3" y="286.5" width="16.7" height="17.2" fill="#b1c635"/>
<rect x="518.6" y="286.5" width="16.7" height="17.2" fill="#9fc942"/>
<rect x="534.9" y="286.5" width="16.7" height="17.2" fill="#8ccb50"/>
<rect x="551.2" y="286.5" width="16.7" height="17.2" fill="#71cd64"/>
<rect x="567.6" y="286.5" width="16.7" height="17.2" fill="#59cc78"/>
<rect x="583.9" y="286.5" width="16.7" height="17.2" fill="#3bc993"/>
<rect x="600.2" y="286.5" width="16.7" height="17.2" fill="#2dc4a6"/>
<rect x="616.5" y="286.5" width="16.7" height="17.2" fill="#12beb9"/>
<rect x="632.8" y="286.5" width="16.7" height="17.2" fill="#02b7cb"/>
<rect x="649.2" y="286.5" width="16.7" height="17.2" fill="#18aedb"/>
<rect x="665.5" y="286.5" width="16.7" height="17.2" fill="#1fa6e2"/>
<rect x="681.8" y="286.5" width="16.7" height="17.2" fill="#249ee6"/>
<rect x="698.1" y="286.5" width="16.7" height="17.2" fill="#2895ec"/>
<rect x="714.4" y="286.5" width="16.7" height="17.2" fill="#2d8cf3"/>
<rect x="730.8" y="286.5" width="16.7" height="17.2" fill="#2e84f8"/>
<rect x="747.1" y="286.5" width="16.7" height="17.2" fill="#317dfc"/>
<rect x="763.4" y="286.5" width="16.7" height="17.2" fill="#3974fe"/>
<rect x="779.7" y="286.5" width="16.7" height="17.2" fill="#3e6fff"/>
<rect x="796" y="286.5" width="16.7" height="17.2" fill="#4269fe"/>
<rect x="812.4" y="286.5" width="16.7" height="17.2" fill="#4367fd"/>
<rect x="828.7" y="286.5" width="16.7" height="17.2" fill="#4562fc"/>
<rect x="845" y="286.5" width="33" height="17.2" fill="#475cfa"/>
<rect x="877.6" y="286.5" width="33" height="17.2" fill="#475af9"/>
<rect x="910.3" y="286.5" width="33" height="17.2" fill="#475cfa"/>
<rect x="175.9" y="303.4" width="33" height="17.2" fill="#475cfa"/>
<rect x="208.5" y="303.4" width="16.7" height="17.2" fill="#3c72ff"/>
<rect x="224.8" y="303.4" width="16.7" height="17.2" fill="#12b1d6"/>
<rect x="241.2" y="303.4" width="16.7" height="17.2" fill="#48cb86"/>
<rect x="257.5" y="303.4" width="16.7" height="17.2" fill="#a5c83d"/>
<rect x="273.8" y="303.4" width="16.7" height="17.2" fill="#d8be28"/>
<rect x="290.1" y="303.4" width="16.7" height="17.2" fill="#eeba34"/>
<rect x="306.4" y="303.4" width="16.7" height="17.2" fill="#f6ba3b"/>
<rect x="322.8" y="303.4" width="147.3" height="17.2" fill="#f9bb3d"/>
<rect x="469.6" y="303.4" width="16.7" height="17.2" fill="#f6ba3b"/>
<rect x="486" y="303.4" width="16.7" height="17.2" fill="#f2ba38"/>
<rect x="502.3" y="303.4" width="16.7" height="17.2" fill="#e6bb2d"/>
<rect x="518.6" y="303.4" width="16.7" height="17.2" fill="#d8be28"/>
<rect x="534.9" y="303.4" width="16.7" height="17.2" fill="#c3c22b"/>
<rect x="551.2" y="303.4" width="16.7" height="17.2" fill="#a5c83d"/>
<rect x="567.6" y="303.4" width="16.7" height="17.2" fill="#85cb55"/>
<rect x="583.9" y="303.4" width="16.7" height="17.2" fill="#59cc78"/>
<rect x="600.2" y="303.4" width="16.7" height="17.2" fill="#37c897"/>
<rect x="616.5" y="303.4" width="16.7" height="17.2" fill="#22c1b0"/>
<rect x="632.8" y="303.4" width="16.7" height="17.2" fill="#03bbc2"/>
<rect x="649.2" y="303.4" width="16.7" height="17.2" fill="#09b4d1"/>
<rect x="665.5" y="303.4" width="16.7" height="17.2" fill="#15afd8"/>
<rect x="681.8" y="303.4" width="16.7" height="17.2" fill="#1caadf"/>
<rect x="698.1" y="303.4" width="16.7" height="17.2" fill="#23a0e5"/>
<rect x="714.4" y="303.4" width="16.7" height="17.2" fill="#2797eb"/>
<rect x="730.8" y="303.4" width="16.7" height="17.2" fill="#2c8ef1"/>
<rect x="747.1" y="303.4" width="16.7" height="17.2" fill="#2e84f8"/>
<rect x="763.4" y="303.4" width="16.7" height="17.2" fill="#317dfc"/>
<rect x="779.7" y="303.4" width="16.7" height="17.2" fill="#3974fe"/>
<rect x="796" y="303.4" width="16.7" height="17.2" fill="#3e6fff"/>
<rect x="812.4" y="303.4" width="16.7" height="17.2" fill="#406cfe"/>
<rect x="828.7" y="303.4" width="16.7" height="17.2" fill="#4367fd"/>
<rect x="845" y="303.4" width="33" height="17.2" fill="#4562fc"/>
<rect x="877.6" y="303.4" width="65.7" height="17.2" fill="#465ffb"/>
<rect x="175.9" y="320.2" width="33" height="17.2" fill="#475cfa"/>
<rect x="208.5" y="320.2" width="16.7" height="17.2" fill="#3c72ff"/>
<rect x="224.8" y="320.2" width="16.7" height="17.2" fill="#12b1d6"/>
<rect x="241.2" y="320.2" width="16.7" height="17.2" fill="#53cc7d"/>
<rect x="257.5" y="320.2" width="16.7" height="17.2" fill="#b7c532"/>
<rect x="273.8" y="320.2" width="16.7" height="17.2" fill="#eaba31"/>
<rect x="290.1" y="320.2" width="16.7" height="17.2" fill="#fcbc3d"/>
<rect x="306.4" y="320.2" width="16.7" height="17.2" fill="#fec338"/>
<rect x="322.8" y="320.2" width="16.7" height="17.2" fill="#fec636"/>
<rect x="339.1" y="320.2" width="33" height="17.2" fill="#fec934"/>
<rect x="371.7" y="320.2" width="114.6" height="17.2" fill="#fdcb32"/>
<rect x="486" y="320.2" width="16.7" height="17.2" fill="#fec636"/>
<rect x="502.3" y="320.2" width="16.7" height="17.2" fill="#fec13a"/>
<rect x="518.6" y="320.2" width="16.7" height="17.2" fill="#f6ba3b"/>
<rect x="534.9" y="320.2" width="16.7" height="17.2" fill="#e6bb2d"/>
<rect x="551.2" y="320.2" width="16.7" height="17.2" fill="#c8c129"/>
<rect x="567.6" y="320.2" width="16.7" height="17.2" fill="#a5c83d"/>
<rect x="583.9" y="320.2" width="16.7" height="17.2" fill="#78cc5f"/>
<rect x="600.2" y="320.2" width="16.7" height="17.2" fill="#4dcc82"/>
<rect x="616.5" y="320.2" width="16.7" height="17.2" fill="#32c69f"/>
<rect x="632.8" y="320.2" width="16.7" height="17.2" fill="#1dc0b3"/>
<rect x="649.2" y="320.2" width="16.7" height="17.2" fill="#03bbc2"/>
<rect x="665.5" y="320.2" width="16.7" height="17.2" fill="#02b7cb"/>
<rect x="681.8" y="320.2" width="16.7" height="17.2" fill="#0db3d3"/>
<rect x="698.1" y="320.2" width="16.7" height="17.2" fill="#1aacdd"/>
<rect x="714.4" y="320.2" width="16.7" height="17.2" fill="#20a4e3"/>
<rect x="730.8" y="320.2" width="16.7" height="17.2" fill="#2699e9"/>
<rect x="747.1" y="320.2" width="16.7" height="17.2" fill="#2c8ef1"/>
<rect x="763.4" y="320.2" width="16.7" height="17.2" fill="#2e84f8"/>
<rect x="779.7" y="320.2" width="16.7" height="17.2" fill="#317dfc"/>
<rect x="796" y="320.2" width="16.7" height="17.2" fill="#3677fe"/>
<rect x="812.4" y="320.2" width="16.7" height="17.2" fill="#3c72ff"/>
<rect x="828.7" y="320.2" width="16.7" height="17.2" fill="#406cfe"/>
<rect x="845" y="320.2" width="16.7" height="17.2" fill="#4367fd"/>
<rect x="861.3" y="320.2" width="33" height="17.2" fill="#4464fd"/>
<rect x="894" y="320.2" width="49.4" height="17.2" fill="#4562fc"/>
<rect x="175.9" y="337" width="33" height="17.2" fill="#475cfa"/>
<rect x="208.5" y="337" width="16.7" height="17.2" fill="#3c72ff"/>
<rect x="224.8" y="337" width="16.7" height="17.2" fill="#12b1d6"/>
<rect x="241.2" y="337" width="16.7" height="17.2" fill="#5fcd73"/>
<rect x="257.5" y="337" width="16.7" height="17.2" fill="#c3c22b"/>
<rect x="273.8" y="337" width="16.7" height="17.2" fill="#f2ba38"/>
<rect x="290.1" y="337" width="16.7" height="17.2" fill="#fec13a"/>
<rect x="306.4" y="337" width="16.7" height="17.2" fill="#fdcb32"/>
<rect x="322.8" y="337" width="16.7" height="17.2" fill="#fad42e"/>
<rect x="339.1" y="337" width="16.7" height="17.2" fill="#f7dd2a"/>
<rect x="355.4" y="337" width="33" height="17.2" fill="#f6df29"/>
<rect x="388" y="337" width="98.3" height="17.2" fill="#f5e227"/>
<rect x="486" y="337" width="16.7" height="17.2" fill="#f7dd2a"/>
<rect x="502.3" y="337" width="16.7" height="17.2" fill="#f9d72d"/>
<rect x="518.6" y="337" width="16.7" height="17.2" fill="#fdcb32"/>
<rect x="534.9" y="337" width="16.7" height="17.2" fill="#febe3c"/>
<rect x="551.2" y="337" width="16.7" height="17.2" fill="#eaba31"/>
<rect x="567.6" y="337" width="16.7" height="17.2" fill="#cec028"/>
<rect x="583.9" y="337" width="16.7" height="17.2" fill="#a5c83d"/>
<rect x="600.2" y="337" width="16.7" height="17.2" fill="#78cc5f"/>
<rect x="616.5" y="337" width="16.7" height="17.2" fill="#4dcc82"/>
<rect x="632.8" y="337" width="16.7" height="17.2" fill="#32c69f"/>
<rect x="649.2" y="337" width="16.7" height="17.2" fill="#1dc0b3"/>
<rect x="665.5" y="337" width="16.7" height="17.2" fill="#07bcbf"/>
<rect x="681.8" y="337" width="16.7" height="17.2" fill="#02b7cb"/>
<rect x="698.1" y="337" width="16.7" height="17.2" fill="#0db3d3"/>
<rect x="714.4" y="337" width="16.7" height="17.2" fill="#1aacdd"/>
<rect x="730.8" y="337" width="16.7" height="17.2" fill="#22a2e4"/>
<rect x="747.1" y="337" width="16.7" height="17.2" fill="#2797eb"/>
<rect x="763.4" y="337" width="16.7" height="17.2" fill="#2d8cf3"/>
<rect x="779.7" y="337" width="16.7" height="17.2" fill="#2f82fa"/>
<rect x="796" y="337" width="16.7" height="17.2" fill="#347afd"/>
<rect x="812.4" y="337" width="16.7" height="17.2" fill="#3974fe"/>
<rect x="828.7" y="337" width="16.7" height="17.2" fill="#3e6fff"/>
<rect x="845" y="337" width="16.7" height="17.2" fill="#4269fe"/>
<rect x="861.3" y="337" width="16.7" height="17.2" fill="#4367fd"/>
<rect x="877.6" y="337" width="33" height="17.2" fill="#4464fd"/>
<rect x="910.3" y="337" width="33" height="17.2" fill="#4562fc"/>
<rect x="175.9" y="353.8" width="33" height="17.2" fill="#475cfa"/>
<rect x="208.5" y="353.8" width="16.7" height="17.2" fill="#317dfc"/>
<rect x="224.8" y="353.8" width="16.7" height="17.2" fill="#05b6ce"/>
<rect x="241.2" y="353.8" width="16.7" height="17.2" fill="#71cd64"/>
<rect x="257.5" y="353.8" width="16.7" height="17.2" fill="#c8c129"/>
<rect x="273.8" y="353.8" width="16.7" height="17.2" fill="#f6ba3b"/>
<rect x="290.1" y="353.8" width="16.7" height="17.2" fill="#fec338"/>
<rect x="306.4" y="353.8" width="16.7" height="17.2" fill="#fcd12f"/>
<rect x="322.8" y="353.8" width="16.7" height="17.2" fill="#f7dd2a"/>
<rect x="339.1" y="353.8" width="16.7" height="17.2" fill="#f5e526"/>
<rect x="355.4" y="353.8" width="16.7" height="17.2" fill="#f5e825"/>
<rect x="371.7" y="353.8" width="114.6" height="17.2" fill="#f5eb23"/>
<rect x="486" y="353.8" width="16.7" height="17.2" fill="#f5e825"/>
<rect x="502.3" y="353.8" width="16.7" height="17.2" fill="#f5e227"/>
<rect x="518.6" y="353.8" width="16.7" height="17.2" fill="#f9d72d"/>
<rect x="534.9" y="353.8" width="16.7" height="17.2" fill="#fec934"/>
<rect x="551.2" y="353.8" width="16.7" height="17.2" fill="#f9bb3d"/>
<rect x="567.6" y="353.8" width="16.7" height="17.2" fill="#e1bc2b"/>
<rect x="583.9" y="353.8" width="16.7" height="17.2" fill="#c3c22b"/>
<rect x="600.2" y="353.8" width="16.7" height="17.2" fill="#98c946"/>
<rect x="616.5" y="353.8" width="16.7" height="17.2" fill="#6bcd69"/>
<rect x="632.8" y="353.8" width="16.7" height="17.2" fill="#3eca8f"/>
<rect x="649.2" y="353.8" width="16.7" height="17.2" fill="#26c2ac"/>
<rect x="665.5" y="353.8" width="16.7" height="17.2" fill="#07bcbf"/>
<rect x="681.8" y="353.8" width="16.7" height="17.2" fill="#02b7cb"/>
<rect x="698.1" y="353.8" width="16.7" height="17.2" fill="#0db3d3"/>
<rect x="714.4" y="353.8" width="16.7" height="17.2" fill="#18aedb"/>
<rect x="730.8" y="353.8" width="16.7" height="17.2" fill="#20a4e3"/>
<rect x="747.1" y="353.8" width="16.7" height="17.2" fill="#2797eb"/>
<rect x="763.4" y="353.8" width="16.7" height="17.2" fill="#2d8cf3"/>
<rect x="779.7" y="353.8" width="16.7" height="17.2" fill="#307ffb"/>
<rect x="796" y="353.8" width="16.7" height="17.2" fill="#347afd"/>
<rect x="812.4" y="353.8" width="16.7" height="17.2" fill="#3974fe"/>
<rect x="828.7" y="353.8" width="16.7" height="17.2" fill="#3e6fff"/>
<rect x="845" y="353.8" width="16.7" height="17.2" fill="#4269fe"/>
<rect x="861.3" y="353.8" width="16.7" height="17.2" fill="#4367fd"/>
<rect x="877.6" y="353.8" width="16.7" height="17.2" fill="#4464fd"/>
<rect x="894" y="353.8" width="49.4" height="17.2" fill="#4562fc"/>
<rect x="175.9" y="370.6" width="33" height="17.2" fill="#475cfa"/>
<rect x="208.5" y="370.6" width="16.7" height="17.2" fill="#2e87f7"/>
<rect x="224.8" y="370.6" width="16.7" height="17.2" fill="#01bac5"/>
<rect x="241.2" y="370.6" width="16.7" height="17.2" fill="#7ecc5a"/>
<rect x="257.5" y="370.6" width="16.7" height="17.2" fill="#d3bf27"/>
<rect x="273.8" y="370.6" width="16.7" height="17.2" fill="#f6ba3b"/>
<rect x="290.1" y="370.6" width="16.7" height="17.2" fill="#fec338"/>
<rect x="306.4" y="370.6" width="16.7" height="17.2" fill="#fad42e"/>
<rect x="322.8" y="370.6" width="16.7" height="17.2" fill="#f5e227"/>
<rect x="339.1" y="370.6" width="16.7" height="17.2" fill="#f5eb23"/>
<rect x="355.4" y="370.6" width="131" height="17.2" fill="#f6f01f"/>
<rect x="486" y="370.6" width="16.7" height="17.2" fill="#f5ed21"/>
<rect x="502.3" y="370.6" width="16.7" height="17.2" fill="#f5eb23"/>
<rect x="518.6" y="370.6" width="16.7" height="17.2" fill="#f6df29"/>
<rect x="534.9" y="370.6" width="16.7" height="17.2" fill="#fdce31"/>
<rect x="551.2" y="370.6" width="16.7" height="17.2" fill="#fec13a"/>
<rect x="567.6" y="370.6" width="16.7" height="17.2" fill="#eeba34"/>
<rect x="583.9" y="370.6" width="16.7" height="17.2" fill="#d3bf27"/>
<rect x="600.2" y="370.6" width="16.7" height="17.2" fill="#b1c635"/>
<rect x="616.5" y="370.6" width="16.7" height="17.2" fill="#7ecc5a"/>
<rect x="632.8" y="370.6" width="16.7" height="17.2" fill="#4dcc82"/>
<rect x="649.2" y="370.6" width="16.7" height="17.2" fill="#2dc4a6"/>
<rect x="665.5" y="370.6" width="16.7" height="17.2" fill="#07bcbf"/>
<rect x="681.8" y="370.6" width="16.7" height="17.2" fill="#05b6ce"/>
<rect x="698.1" y="370.6" width="16.7" height="17.2" fill="#0db3d3"/>
<rect x="714.4" y="370.6" width="16.7" height="17.2" fill="#18aedb"/>
<rect x="730.8" y="370.6" width="16.7" height="17.2" fill="#20a4e3"/>
<rect x="747.1" y="370.6" width="16.7" height="17.2" fill="#2797eb"/>
<rect x="763.4" y="370.6" width="16.7" height="17.2" fill="#2d89f5"/>
<rect x="779.7" y="370.6" width="16.7" height="17.2" fill="#317dfc"/>
<rect x="796" y="370.6" width="16.7" height="17.2" fill="#3677fe"/>
<rect x="812.4" y="370.6" width="16.7" height="17.2" fill="#3c72ff"/>
<rect x="828.7" y="370.6" width="16.7" height="17.2" fill="#3e6fff"/>
<rect x="845" y="370.6" width="16.7" height="17.2" fill="#4269fe"/>
<rect x="861.3" y="370.6" width="16.7" height="17.2" fill="#4367fd"/>
<rect x="877.6" y="370.6" width="65.7" height="17.2" fill="#4562fc"/>
<rect x="175.9" y="387.4" width="33" height="17.2" fill="#475cfa"/>
<rect x="208.5" y="387.4" width="16.7" height="17.2" fill="#2e87f7"/>
<rect x="224.8" y="387.4" width="16.7" height="17.2" fill="#01bac5"/>
<rect x="241.2" y="387.4" width="16.7" height="17.2" fill="#7ecc5a"/>
<rect x="257.5" y="387.4" width="16.7" height="17.2" fill="#d3bf27"/>
<rect x="273.8" y="387.4" width="16.7" height="17.2" fill="#f9bb3d"/>
<rect x="290.1" y="387.4" width="16.7" height="17.2" fill="#fec338"/>
<rect x="306.4" y="387.4" width="16.7" height="17.2" fill="#f9d72d"/>
<rect x="322.8" y="387.4" width="16.7" height="17.2" fill="#f5e227"/>
<rect x="339.1" y="387.4" width="16.7" height="17.2" fill="#f5ed21"/>
<rect x="355.4" y="387.4" width="147.3" height="17.2" fill="#f7f31d"/>
<rect x="502.3" y="387.4" width="16.7" height="17.2" fill="#f6f01f"/>
<rect x="518.6" y="387.4" width="16.7" height="17.2" fill="#f5e825"/>
<rect x="534.9" y="387.4" width="16.7" height="17.2" fill="#fad42e"/>
<rect x="551.2" y="387.4" width="16.7" height="17.2" fill="#fec13a"/>
<rect x="567.6" y="387.4" width="16.7" height="17.2" fill="#eeba34"/>
<rect x="583.9" y="387.4" width="16.7" height="17.2" fill="#d8be28"/>
<rect x="600.2" y="387.4" width="16.7" height="17.2" fill="#b7c532"/>
<rect x="616.5" y="387.4" width="16.7" height="17.2" fill="#85cb55"/>
<rect x="632.8" y="387.4" width="16.7" height="17.2" fill="#4dcc82"/>
<rect x="649.2" y="387.4" width="16.7" height="17.2" fill="#2dc4a6"/>
<rect x="665.5" y="387.4" width="16.7" height="17.2" fill="#07bcbf"/>
<rect x="681.8" y="387.4" width="16.7" height="17.2" fill="#05b6ce"/>
<rect x="698.1" y="387.4" width="16.7" height="17.2" fill="#0db3d3"/>
<rect x="714.4" y="387.4" width="16.7" height="17.2" fill="#18aedb"/>
<rect x="730.8" y="387.4" width="16.7" height="17.2" fill="#20a4e3"/>
<rect x="747.1" y="387.4" width="16.7" height="17.2" fill="#2797eb"/>
<rect x="763.4" y="387.4" width="16.7" height="17.2" fill="#2d89f5"/>
<rect x="779.7" y="387.4" width="16.7" height="17.2" fill="#317dfc"/>
<rect x="796" y="387.4" width="16.7" height="17.2" fill="#3677fe"/>
<rect x="812.4" y="387.4" width="16.7" height="17.2" fill="#3c72ff"/>
<rect x="828.7" y="387.4" width="16.7" height="17.2" fill="#3e6fff"/>
<rect x="845" y="387.4" width="16.7" height="17.2" fill="#4269fe"/>
<rect x="861.3" y="387.4" width="16.7" height="17.2" fill="#4367fd"/>
<rect x="877.6" y="387.4" width="65.7" height="17.2" fill="#4562fc"/>
<rect x="175.9" y="404.2" width="33" height="17.2" fill="#475cfa"/>
<rect x="208.5" y="404.2" width="16.7" height="17.2" fill="#2e87f7"/>
<rect x="224.8" y="404.2" width="16.7" height="17.2" fill="#01bac5"/>
<rect x="241.2" y="404.2" width="16.7" height="17.2" fill="#7ecc5a"/>
<rect x="257.5" y="404.2" width="16.7" height="17.2" fill="#d3bf27"/>
<rect x="273.8" y="404.2" width="16.7" height="17.2" fill="#f9bb3d"/>
<rect x="290.1" y="404.2" width="16.7" height="17.2" fill="#fec338"/>
<rect x="306.4" y="404.2" width="16.7" height="17.2" fill="#f9d72d"/>
<rect x="322.8" y="404.2" width="16.7" height="17.2" fill="#f5e227"/>
<rect x="339.1" y="404.2" width="16.7" height="17.2" fill="#f5ed21"/>
<rect x="355.4" y="404.2" width="163.6" height="17.2" fill="#f7f31d"/>
<rect x="518.6" y="404.2" width="16.7" height="17.2" fill="#f5eb23"/>
<rect x="534.9" y="404.2" width="16.7" height="17.2" fill="#f9d72d"/>
<rect x="551.2" y="404.2" width="16.7" height="17.2" fill="#fec13a"/>
<rect x="567.6" y="404.2" width="16.7" height="17.2" fill="#eeba34"/>
<rect x="583.9" y="404.2" width="16.7" height="17.2" fill="#d8be28"/>
<rect x="600.2" y="404.2" width="16.7" height="17.2" fill="#b7c532"/>
<rect x="616.5" y="404.2" width="16.7" height="17.2" fill="#85cb55"/>
<rect x="632.8" y="404.2" width="16.7" height="17.2" fill="#4dcc82"/>
<rect x="649.2" y="404.2" width="16.7" height="17.2" fill="#2dc4a6"/>
<rect x="665.5" y="404.2" width="16.7" height="17.2" fill="#07bcbf"/>
<rect x="681.8" y="404.2" width="16.7" height="17.2" fill="#05b6ce"/>
<rect x="698.1" y="404.2" width="16.7" height="17.2" fill="#0db3d3"/>
<rect x="714.4" y="404.2" width="16.7" height="17.2" fill="#18aedb"/>
<rect x="730.8" y="404.2" width="16.7" height="17.2" fill="#20a4e3"/>
<rect x="747.1" y="404.2" width="16.7" height="17.2" fill="#2797eb"/>
<rect x="763.4" y="404.2" width="16.7" height="17.2" fill="#2d89f5"/>
<rect x="779.7" y="404.2" width="16.7" height="17.2" fill="#317dfc"/>
<rect x="796" y="404.2" width="16.7" height="17.2" fill="#3677fe"/>
<rect x="812.4" y="404.2" width="16.7" height="17.2" fill="#3c72ff"/>
<rect x="828.7" y="404.2" width="16.7" height="17.2" fill="#3e6fff"/>
<rect x="845" y="404.2" width="16.7" height="17.2" fill="#4269fe"/>
<rect x="861.3" y="404.2" width="16.7" height="17.2" fill="#4367fd"/>
<rect x="877.6" y="404.2" width="65.7" height="17.2" fill="#4562fc"/>
<rect x="175.9" y="421" width="33" height="17.2" fill="#475cfa"/>
<rect x="208.5" y="421" width="16.7" height="17.2" fill="#2e87f7"/>
<rect x="224.8" y="421" width="16.7" height="17.2" fill="#01bac5"/>
<rect x="241.2" y="421" width="16.7" height="17.2" fill="#7ecc5a"/>
<rect x="257.5" y="421" width="16.7" height="17.2" fill="#d3bf27"/>
<rect x="273.8" y="421" width="16.7" height="17.2" fill="#f9bb3d"/>
<rect x="290.1" y="421" width="16.7" height="17.2" fill="#fec338"/>
<rect x="306.4" y="421" width="16.7" height="17.2" fill="#f9d72d"/>
<rect x="322.8" y="421" width="16.7" height="17.2" fill="#f5e227"/>
<rect x="339.1" y="421" width="16.7" height="17.2" fill="#f5ed21"/>
<rect x="355.4" y="421" width="163.6" height="17.2" fill="#f7f31d"/>
<rect x="518.6" y="421" width="16.7" height="17.2" fill="#f5eb23"/>
<rect x="534.9" y="421" width="16.7" height="17.2" fill="#f9d72d"/>
<rect x="551.2" y="421" width="16.7" height="17.2" fill="#fec13a"/>
<rect x="567.6" y="421" width="16.7" height="17.2" fill="#eeba34"/>
<rect x="583.9" y="421" width="16.7" height="17.2" fill="#d8be28"/>
<rect x="600.2" y="421" width="16.7" height="17.2" fill="#b7c532"/>
<rect x="616.5" y="421" width="16.7" height="17.2" fill="#85cb55"/>
<rect x="632.8" y="421" width="16.7" height="17.2" fill="#4dcc82"/>
<rect x="649.2" y="421" width="16.7" height="17.2" fill="#2dc4a6"/>
<rect x="665.5" y="421" width="16.7" height="17.2" fill="#07bcbf"/>
<rect x="681.8" y="421" width="16.7" height="17.2" fill="#05b6ce"/>
<rect x="698.1" y="421" width="16.7" height="17.2" fill="#0db3d3"/>
<rect x="714.4" y="421" width="16.7" height="17.2" fill="#18aedb"/>
<rect x="730.8" y="421" width="16.7" height="17.2" fill="#20a4e3"/>
<rect x="747.1" y="421" width="16.7" height="17.2" fill="#2797eb"/>
<rect x="763.4" y="421" width="16.7" height="17.2" fill="#2d89f5"/>
<rect x="779.7" y="421" width="16.7" height="17.2" fill="#317dfc"/>
<rect x="796" y="421" width="16.7" height="17.2" fill="#3677fe"/>
<rect x="812.4" y="421" width="16.7" height="17.2" fill="#3c72ff"/>
<rect x="828.7" y="421" width="16.7" height="17.2" fill="#3e6fff"/>
<rect x="845" y="421" width="16.7" height="17.2" fill="#4269fe"/>
<rect x="861.3" y="421" width="16.7" height="17.2" fill="#4367fd"/>
<rect x="877.6" y="421" width="65.7" height="17.2" fill="#4562fc"/>
<rect x="175.9" y="437.8" width="33" height="17.2" fill="#475cfa"/>
<rect x="208.5" y="437.8" width="16.7" height="17.2" fill="#2e87f7"/>
<rect x="224.8" y="437.8" width="16.7" height="17.2" fill="#01bac5"/>
<rect x="241.2" y="437.8" width="16.7" height="17.2" fill="#7ecc5a"/>
<rect x="257.5" y="437.8" width="16.7" height="17.2" fill="#d3bf27"/>
<rect x="273.8" y="437.8" width="16.7" height="17.2" fill="#f9bb3d"/>
<rect x="290.1" y="437.8" width="16.7" height="17.2" fill="#fec338"/>
<rect x="306.4" y="437.8" width="16.7" height="17.2" fill="#f9d72d"/>
<rect x="322.8" y="437.8" width="16.7" height="17.2" fill="#f5e227"/>
<rect x="339.1" y="437.8" width="16.7" height="17.2" fill="#f5ed21"/>
<rect x="355.4" y="437.8" width="163.6" height="17.2" fill="#f7f31d"/>
<rect x="518.6" y="437.8" width="16.7" height="17.2" fill="#f5e825"/>
<rect x="534.9" y="437.8" width="16.7" height="17.2" fill="#f9d72d"/>
<rect x="551.2" y="437.8" width="16.7" height="17.2" fill="#fec13a"/>
<rect x="567.6" y="437.8" width="16.7" height="17.2" fill="#eeba34"/>
<rect x="583.9" y="437.8" width="16.7" height="17.2" fill="#d8be28"/>
<rect x="600.2" y="437.8" width="16.7" height="17.2" fill="#b7c532"/>
<rect x="616.5" y="437.8" width="16.7" height="17.2" fill="#85cb55"/>
<rect x="632.8" y="437.8" width="16.7" height="17.2" fill="#4dcc82"/>
<rect x="649.2" y="437.8" width="16.7" height="17.2" fill="#2dc4a6"/>
<rect x="665.5" y="437.8" width="16.7" height="17.2" fill="#07bcbf"/>
<rect x="681.8" y="437.8" width="16.7" height="17.2" fill="#05b6ce"/>
<rect x="698.1" y="437.8" width="16.7" height="17.2" fill="#0db3d3"/>
<rect x="714.4" y="437.8" width="16.7" height="17.2" fill="#18aedb"/>
<rect x="730.8" y="437.8" width="16.7" height="17.2" fill="#20a4e3"/>
<rect x="747.1" y="437.8" width="16.7" height="17.2" fill="#2797eb"/>
<rect x="763.4" y="437.8" width="16.7" height="17.2" fill="#2d89f5"/>
<rect x="779.7" y="437.8" width="16.7" height="17.2" fill="#317dfc"/>
<rect x="796" y="437.8" width="16.7" height="17.2" fill="#3677fe"/>
<rect x="812.4" y="437.8" width="16.7" height="17.2" fill="#3c72ff"/>
<rect x="828.7" y="437.8" width="16.7" height="17.2" fill="#3e6fff"/>
<rect x="845" y="437.8" width="16.7" height="17.2" fill="#4269fe"/>
<rect x="861.3" y="437.8" width="16.7" height="17.2" fill="#4367fd"/>
<rect x="877.6" y="437.8" width="65.7" height="17.2" fill="#4562fc"/>
<rect x="175.9" y="454.6" width="33" height="17.2" fill="#475cfa"/>
<rect x="208.5" y="454.6" width="16.7" height="17.2" fill="#2e87f7"/>
<rect x="224.8" y="454.6" width="16.7" height="17.2" fill="#01bac5"/>
<rect x="241.2" y="454.6" width="16.7" height="17.2" fill="#7ecc5a"/>
<rect x="257.5" y="454.6" width="16.7" height="17.2" fill="#d3bf27"/>
<rect x="273.8" y="454.6" width="16.7" height="17.2" fill="#f9bb3d"/>
<rect x="290.1" y="454.6" width="16.7" height="17.2" fill="#fec338"/>
<rect x="306.4" y="454.6" width="16.7" height="17.2" fill="#f9d72d"/>
<rect x="322.8" y="454.6" width="16.7" height="17.2" fill="#f5e227"/>
<rect x="339.1" y="454.6" width="16.7" height="17.2" fill="#f5ed21"/>
<rect x="355.4" y="454.6" width="16.7" height="17.2" fill="#f6f01f"/>
<rect x="371.7" y="454.6" width="131" height="17.2" fill="#f7f31d"/>
<rect x="502.3" y="454.6" width="16.7" height="17.2" fill="#f6f01f"/>
<rect x="518.6" y="454.6" width="16.7" height="17.2" fill="#f5e825"/>
<rect x="534.9" y="454.6" width="16.7" height="17.2" fill="#fad42e"/>
<rect x="551.2" y="454.6" width="16.7" height="17.2" fill="#fec13a"/>
<rect x="567.6" y="454.6" width="16.7" height="17.2" fill="#eeba34"/>
<rect x="583.9" y="454.6" width="16.7" height="17.2" fill="#d8be28"/>
<rect x="600.2" y="454.6" width="16.7" height="17.2" fill="#b7c532"/>
<rect x="616.5" y="454.6" width="16.7" height="17.2" fill="#85cb55"/>
<rect x="632.8" y="454.6" width="16.7" height="17.2" fill="#4dcc82"/>
<rect x="649.2" y="454.6" width="16.7" height="17.2" fill="#2dc4a6"/>
<rect x="665.5" y="454.6" width="16.7" height="17.2" fill="#07bcbf"/>
<rect x="681.8" y="454.6" width="16.7" height="17.2" fill="#05b6ce"/>
<rect x="698.1" y="454.6" width="16.7" height="17.2" fill="#0db3d3"/>
<rect x="714.4" y="454.6" width="16.7" height="17.2" fill="#18aedb"/>
<rect x="730.8" y="454.6" width="16.7" height="17.2" fill="#20a4e3"/>
<rect x="747.1" y="454.6" width="16.7" height="17.2" fill="#2797eb"/>
<rect x="763.4" y="454.6" width="16.7" height="17.2" fill="#2d89f5"/>
<rect x="779.7" y="454.6" width="16.7" height="17.2" fill="#317dfc"/>
<rect x="796" y="454.6" width="16.7" height="17.2" fill="#3677fe"/>
<rect x="812.4" y="454.6" width="16.7" height="17.2" fill="#3c72ff"/>
<rect x="828.7" y="454.6" width="16.7" height="17.2" fill="#3e6fff"/>
<rect x="845" y="454.6" width="16.7" height="17.2" fill="#4269fe"/>
<rect x="861.3" y="454.6" width="16.7" height="17.2" fill="#4367fd"/>
<rect x="877.6" y="454.6" width="65.7" height="17.2" fill="#4562fc"/>
<rect x="175.9" y="471.5" width="33" height="17.2" fill="#475cfa"/>
<rect x="208.5" y="471.5" width="16.7" height="17.2" fill="#2e87f7"/>
<rect x="224.8" y="471.5" width="16.7" height="17.2" fill="#01bac5"/>
<rect x="241.2" y="471.5" width="16.7" height="17.2" fill="#7ecc5a"/>
<rect x="257.5" y="471.5" width="16.7" height="17.2" fill="#d3bf27"/>
<rect x="273.8" y="471.5" width="16.7" height="17.2" fill="#f9bb3d"/>
<rect x="290.1" y="471.5" width="16.7" height="17.2" fill="#fec338"/>
<rect x="306.4" y="471.5" width="16.7" height="17.2" fill="#f9d72d"/>
<rect x="322.8" y="471.5" width="16.7" height="17.2" fill="#f5e227"/>
<rect x="339.1" y="471.5" width="16.7" height="17.2" fill="#f5eb23"/>
<rect x="355.4" y="471.5" width="147.3" height="17.2" fill="#f6f01f"/>
<rect x="502.3" y="471.5" width="16.7" height="17.2" fill="#f5ed21"/>
<rect x="518.6" y="471.5" width="16.7" height="17.2" fill="#f5e526"/>
<rect x="534.9" y="471.5" width="16.7" height="17.2" fill="#fad42e"/>
<rect x="551.2" y="471.5" width="16.7" height="17.2" fill="#fec13a"/>
<rect x="567.6" y="471.5" width="16.7" height="17.2" fill="#eeba34"/>
<rect x="583.9" y="471.5" width="16.7" height="17.2" fill="#d8be28"/>
<rect x="600.2" y="471.5" width="16.7" height="17.2" fill="#b7c532"/>
<rect x="616.5" y="471.5" width="16.7" height="17.2" fill="#85cb55"/>
<rect x="632.8" y="471.5" width="16.7" height="17.2" fill="#4dcc82"/>
<rect x="649.2" y="471.5" width="16.7" height="17.2" fill="#2dc4a6"/>
<rect x="665.5" y="471.5" width="16.7" height="17.2" fill="#07bcbf"/>
<rect x="681.8" y="471.5" width="16.7" height="17.2" fill="#05b6ce"/>
<rect x="698.1" y="471.5" width="16.7" height="17.2" fill="#0db3d3"/>
<rect x="714.4" y="471.5" width="16.7" height="17.2" fill="#18aedb"/>
<rect x="730.8" y="471.5" width="16.7" height="17.2" fill="#20a4e3"/>
<rect x="747.1" y="471.5" width="16.7" height="17.2" fill="#2797eb"/>
<rect x="763.4" y="471.5" width="16.7" height="17.2" fill="#2d89f5"/>
<rect x="779.7" y="471.5" width="16.7" height="17.2" fill="#317dfc"/>
<rect x="796" y="471.5" width="16.7" height="17.2" fill="#3677fe"/>
<rect x="812.4" y="471.5" width="16.7" height="17.2" fill="#3c72ff"/>
<rect x="828.7" y="471.5" width="16.7" height="17.2" fill="#3e6fff"/>
<rect x="845" y="471.5" width="16.7" height="17.2" fill="#4269fe"/>
<rect x="861.3" y="471.5" width="16.7" height="17.2" fill="#4367fd"/>
<rect x="877.6" y="471.5" width="65.7" height="17.2" fill="#4562fc"/>
<rect x="175.9" y="488.3" width="33" height="17.2" fill="#475cfa"/>
<rect x="208.5" y="488.3" width="16.7" height="17.2" fill="#2e87f7"/>
<rect x="224.8" y="488.3" width="16.7" height="17.2" fill="#01bac5"/>
<rect x="241.2" y="488.3" width="16.7" height="17.2" fill="#7ecc5a"/>
<rect x="257.5" y="488.3" width="16.7" height="17.2" fill="#d3bf27"/>
<rect x="273.8" y="488.3" width="16.7" height="17.2" fill="#f9bb3d"/>
<rect x="290.1" y="488.3" width="16.7" height="17.2" fill="#fec338"/>
<rect x="306.4" y="488.3" width="16.7" height="17.2" fill="#f9d72d"/>
<rect x="322.8" y="488.3" width="16.7" height="17.2" fill="#f5e227"/>
<rect x="339.1" y="488.3" width="16.7" height="17.2" fill="#f5eb23"/>
<rect x="355.4" y="488.3" width="147.3" height="17.2" fill="#f6f01f"/>
<rect x="502.3" y="488.3" width="16.7" height="17.2" fill="#f5ed21"/>
<rect x="518.6" y="488.3" width="16.7" height="17.2" fill="#f5e227"/>
<rect x="534.9" y="488.3" width="16.7" height="17.2" fill="#fcd12f"/>
<rect x="551.2" y="488.3" width="16.7" height="17.2" fill="#fec13a"/>
<rect x="567.6" y="488.3" width="16.7" height="17.2" fill="#eeba34"/>
<rect x="583.9" y="488.3" width="16.7" height="17.2" fill="#d8be28"/>
<rect x="600.2" y="488.3" width="16.7" height="17.2" fill="#b7c532"/>
<rect x="616.5" y="488.3" width="16.7" height="17.2" fill="#85cb55"/>
<rect x="632.8" y="488.3" width="16.7" height="17.2" fill="#4dcc82"/>
<rect x="649.2" y="488.3" width="16.7" height="17.2" fill="#2dc4a6"/>
<rect x="665.5" y="488.3" width="16.7" height="17.2" fill="#07bcbf"/>
<rect x="681.8" y="488.3" width="16.7" height="17.2" fill="#05b6ce"/>
<rect x="698.1" y="488.3" width="16.7" height="17.2" fill="#0db3d3"/>
<rect x="714.4" y="488.3" width="16.7" height="17.2" fill="#18aedb"/>
<rect x="730.8" y="488.3" width="16.7" height="17.2" fill="#20a4e3"/>
<rect x="747.1" y="488.3" width="16.7" height="17.2" fill="#2797eb"/>
<rect x="763.4" y="488.3" width="16.7" height="17.2" fill="#2d89f5"/>
<rect x="779.7" y="488.3" width="16.7" height="17.2" fill="#317dfc"/>
<rect x="796" y="488.3" width="16.7" height="17.2" fill="#3677fe"/>
<rect x="812.4" y="488.3" width="16.7" height="17.2" fill="#3c72ff"/>
<rect x="828.7" y="488.3" width="16.7" height="17.2" fill="#3e6fff"/>
<rect x="845" y="488.3" width="16.7" height="17.2" fill="#4269fe"/>
<rect x="861.3" y="488.3" width="16.7" height="17.2" fill="#4367fd"/>
<rect x="877.6" y="488.3" width="65.7" height="17.2" fill="#4562fc"/>
<rect x="175.9" y="505.1" width="33" height="17.2" fill="#475cfa"/>
<rect x="208.5" y="505.1" width="16.7" height="17.2" fill="#2e87f7"/>
<rect x="224.8" y="505.1" width="16.7" height="17.2" fill="#01bac5"/>
<rect x="241.2" y="505.1" width="16.7" height="17.2" fill="#7ecc5a"/>
<rect x="257.5" y="505.1" width="16.7" height="17.2" fill="#d3bf27"/>
<rect x="273.8" y="505.1" width="16.7" height="17.2" fill="#f9bb3d"/>
<rect x="290.1" y="505.1" width="16.7" height="17.2" fill="#fec338"/>
<rect x="306.4" y="505.1" width="16.7" height="17.2" fill="#fad42e"/>
<rect x="322.8" y="505.1" width="16.7" height="17.2" fill="#f5e227"/>
<rect x="339.1" y="505.1" width="16.7" height="17.2" fill="#f5e825"/>
<rect x="355.4" y="505.1" width="147.3" height="17.2" fill="#f5ed21"/>
<rect x="502.3" y="505.1" width="16.7" height="17.2" fill="#f5e825"/>
<rect x="518.6" y="505.1" width="16.7" height="17.2" fill="#f7dd2a"/>
<rect x="534.9" y="505.1" width="16.7" height="17.2" fill="#fdcb32"/>
<rect x="551.2" y="505.1" width="16.7" height="17.2" fill="#febe3c"/>
<rect x="567.6" y="505.1" width="16.7" height="17.2" fill="#eaba31"/>
<rect x="583.9" y="505.1" width="16.7" height="17.2" fill="#cec028"/>
<rect x="600.2" y="505.1" width="16.7" height="17.2" fill="#abc739"/>
<rect x="616.5" y="505.1" width="16.7" height="17.2" fill="#78cc5f"/>
<rect x="632.8" y="505.1" width="16.7" height="17.2" fill="#43ca8b"/>
<rect x="649.2" y="505.1" width="16.7" height="17.2" fill="#2ac3a9"/>
<rect x="665.5" y="505.1" width="16.7" height="17.2" fill="#07bcbf"/>
<rect x="681.8" y="505.1" width="16.7" height="17.2" fill="#05b6ce"/>
<rect x="698.1" y="505.1" width="16.7" height="17.2" fill="#0db3d3"/>
<rect x="714.4" y="505.1" width="16.7" height="17.2" fill="#1aacdd"/>
<rect x="730.8" y="505.1" width="16.7" height="17.2" fill="#22a2e4"/>
<rect x="747.1" y="505.1" width="16.7" height="17.2" fill="#2797eb"/>
<rect x="763.4" y="505.1" width="16.7" height="17.2" fill="#2d89f5"/>
<rect x="779.7" y="505.1" width="16.7" height="17.2" fill="#317dfc"/>
<rect x="796" y="505.1" width="16.7" height="17.2" fill="#3677fe"/>
<rect x="812.4" y="505.1" width="16.7" height="17.2" fill="#3c72ff"/>
<rect x="828.7" y="505.1" width="16.7" height="17.2" fill="#406cfe"/>
<rect x="845" y="505.1" width="16.7" height="17.2" fill="#4269fe"/>
<rect x="861.3" y="505.1" width="16.7" height="17.2" fill="#4367fd"/>
<rect x="877.6" y="505.1" width="65.7" height="17.2" fill="#4562fc"/>
<rect x="175.9" y="521.9" width="33" height="17.2" fill="#475cfa"/>
<rect x="208.5" y="521.9" width="16.7" height="17.2" fill="#2f82fa"/>
<rect x="224.8" y="521.9" width="16.7" height="17.2" fill="#02b7cb"/>
<rect x="241.2" y="521.9" width="16.7" height="17.2" fill="#6bcd69"/>
<rect x="257.5" y="521.9" width="16.7" height="17.2" fill="#c3c22b"/>
<rect x="273.8" y="521.9" width="16.7" height="17.2" fill="#f2ba38"/>
<rect x="290.1" y="521.9" width="16.7" height="17.2" fill="#febe3c"/>
<rect x="306.4" y="521.9" width="16.7" height="17.2" fill="#fdce31"/>
<rect x="322.8" y="521.9" width="16.7" height="17.2" fill="#f9d72d"/>
<rect x="339.1" y="521.9" width="33" height="17.2" fill="#f7dd2a"/>
<rect x="371.7" y="521.9" width="82" height="17.2" fill="#f6df29"/>
<rect x="453.3" y="521.9" width="16.7" height="17.2" fill="#f7dd2a"/>
<rect x="469.6" y="521.9" width="16.7" height="17.2" fill="#f8da2b"/>
<rect x="486" y="521.9" width="16.7" height="17.2" fill="#f9d72d"/>
<rect x="502.3" y="521.9" width="16.7" height="17.2" fill="#fdce31"/>
<rect x="518.6" y="521.9" width="16.7" height="17.2" fill="#fec338"/>
<rect x="534.9" y="521.9" width="16.7" height="17.2" fill="#f6ba3b"/>
<rect x="551.2" y="521.9" width="16.7" height="17.2" fill="#d8be28"/>
<rect x="567.6" y="521.9" width="16.7" height="17.2" fill="#b7c532"/>
<rect x="583.9" y="521.9" width="16.7" height="17.2" fill="#92ca4b"/>
<rect x="600.2" y="521.9" width="16.7" height="17.2" fill="#59cc78"/>
<rect x="616.5" y="521.9" width="16.7" height="17.2" fill="#2fc5a2"/>
<rect x="632.8" y="521.9" width="16.7" height="17.2" fill="#12beb9"/>
<rect x="649.2" y="521.9" width="16.7" height="17.2" fill="#01bac5"/>
<rect x="665.5" y="521.9" width="16.7" height="17.2" fill="#05b6ce"/>
<rect x="681.8" y="521.9" width="16.7" height="17.2" fill="#12b1d6"/>
<rect x="698.1" y="521.9" width="16.7" height="17.2" fill="#15afd8"/>
<rect x="714.4" y="521.9" width="16.7" height="17.2" fill="#1da8e0"/>
<rect x="730.8" y="521.9" width="16.7" height="17.2" fill="#249ee6"/>
<rect x="747.1" y="521.9" width="16.7" height="17.2" fill="#2a93ee"/>
<rect x="763.4" y="521.9" width="16.7" height="17.2" fill="#2e87f7"/>
<rect x="779.7" y="521.9" width="16.7" height="17.2" fill="#347afd"/>
<rect x="796" y="521.9" width="16.7" height="17.2" fill="#3974fe"/>
<rect x="812.4" y="521.9" width="16.7" height="17.2" fill="#3c72ff"/>
<rect x="828.7" y="521.9" width="16.7" height="17.2" fill="#406cfe"/>
<rect x="845" y="521.9" width="16.7" height="17.2" fill="#4367fd"/>
<rect x="861.3" y="521.9" width="33" height="17.2" fill="#4464fd"/>
<rect x="894" y="521.9" width="49.4" height="17.2" fill="#4562fc"/>
<rect x="175.9" y="538.7" width="33" height="17.2" fill="#475cfa"/>
<rect x="208.5" y="538.7" width="16.7" height="17.2" fill="#2f82fa"/>
<rect x="224.8" y="538.7" width="16.7" height="17.2" fill="#0db3d3"/>
<rect x="241.2" y="538.7" width="16.7" height="17.2" fill="#53cc7d"/>
<rect x="257.5" y="538.7" width="16.7" height="17.2" fill="#a5c83d"/>
<rect x="273.8" y="538.7" width="16.7" height="17.2" fill="#d3bf27"/>
<rect x="290.1" y="538.7" width="16.7" height="17.2" fill="#ddbd29"/>
<rect x="306.4" y="538.7" width="16.7" height="17.2" fill="#e6bb2d"/>
<rect x="322.8" y="538.7" width="16.7" height="17.2" fill="#eeba34"/>
<rect x="339.1" y="538.7" width="16.7" height="17.2" fill="#f9bb3d"/>
<rect x="355.4" y="538.7" width="65.7" height="17.2" fill="#fcbc3d"/>
<rect x="420.7" y="538.7" width="16.7" height="17.2" fill="#f9bb3d"/>
<rect x="437" y="538.7" width="16.7" height="17.2" fill="#f6ba3b"/>
<rect x="453.3" y="538.7" width="16.7" height="17.2" fill="#eeba34"/>
<rect x="469.6" y="538.7" width="16.7" height="17.2" fill="#e6bb2d"/>
<rect x="486" y="538.7" width="16.7" height="17.2" fill="#ddbd29"/>
<rect x="502.3" y="538.7" width="16.7" height="17.2" fill="#c3c22b"/>
<rect x="518.6" y="538.7" width="16.7" height="17.2" fill="#a5c83d"/>
<rect x="534.9" y="538.7" width="16.7" height="17.2" fill="#7ecc5a"/>
<rect x="551.2" y="538.7" width="16.7" height="17.2" fill="#6bcd69"/>
<rect x="567.6" y="538.7" width="16.7" height="17.2" fill="#59cc78"/>
<rect x="583.9" y="538.7" width="16.7" height="17.2" fill="#43ca8b"/>
<rect x="600.2" y="538.7" width="16.7" height="17.2" fill="#2dc4a6"/>
<rect x="616.5" y="538.7" width="16.7" height="17.2" fill="#07bcbf"/>
<rect x="632.8" y="538.7" width="16.7" height="17.2" fill="#05b6ce"/>
<rect x="649.2" y="538.7" width="16.7" height="17.2" fill="#0db3d3"/>
<rect x="665.5" y="538.7" width="16.7" height="17.2" fill="#12b1d6"/>
<rect x="681.8" y="538.7" width="16.7" height="17.2" fill="#1aacdd"/>
<rect x="698.1" y="538.7" width="16.7" height="17.2" fill="#1da8e0"/>
<rect x="714.4" y="538.7" width="16.7" height="17.2" fill="#22a2e4"/>
<rect x="730.8" y="538.7" width="16.7" height="17.2" fill="#2699e9"/>
<rect x="747.1" y="538.7" width="16.7" height="17.2" fill="#2c8ef1"/>
<rect x="763.4" y="538.7" width="16.7" height="17.2" fill="#2e84f8"/>
<rect x="779.7" y="538.7" width="16.7" height="17.2" fill="#347afd"/>
<rect x="796" y="538.7" width="16.7" height="17.2" fill="#3677fe"/>
<rect x="812.4" y="538.7" width="16.7" height="17.2" fill="#3c72ff"/>
<rect x="828.7" y="538.7" width="16.7" height="17.2" fill="#4269fe"/>
<rect x="845" y="538.7" width="33" height="17.2" fill="#4464fd"/>
<rect x="877.6" y="538.7" width="33" height="17.2" fill="#4562fc"/>
<rect x="910.3" y="538.7" width="33" height="17.2" fill="#465ffb"/>
<rect x="175.9" y="555.5" width="33" height="17.2" fill="#475cfa"/>
<rect x="208.5" y="555.5" width="16.7" height="17.2" fill="#307ffb"/>
<rect x="224.8" y="555.5" width="16.7" height="17.2" fill="#18aedb"/>
<rect x="241.2" y="555.5" width="16.7" height="17.2" fill="#37c897"/>
<rect x="257.5" y="555.5" width="16.7" height="17.2" fill="#6bcd69"/>
<rect x="273.8" y="555.5" width="16.7" height="17.2" fill="#8ccb50"/>
<rect x="290.1" y="555.5" width="16.7" height="17.2" fill="#92ca4b"/>
<rect x="306.4" y="555.5" width="33" height="17.2" fill="#98c946"/>
<rect x="339.1" y="555.5" width="65.7" height="17.2" fill="#9fc942"/>
<rect x="404.4" y="555.5" width="16.7" height="17.2" fill="#92ca4b"/>
<rect x="420.7" y="555.5" width="16.7" height="17.2" fill="#8ccb50"/>
<rect x="437" y="555.5" width="16.7" height="17.2" fill="#7ecc5a"/>
<rect x="453.3" y="555.5" width="16.7" height="17.2" fill="#71cd64"/>
<rect x="469.6" y="555.5" width="16.7" height="17.2" fill="#59cc78"/>
<rect x="486" y="555.5" width="16.7" height="17.2" fill="#4dcc82"/>
<rect x="502.3" y="555.5" width="16.7" height="17.2" fill="#37c897"/>
<rect x="518.6" y="555.5" width="16.7" height="17.2" fill="#2fc5a2"/>
<rect x="534.9" y="555.5" width="16.7" height="17.2" fill="#22c1b0"/>
<rect x="551.2" y="555.5" width="33" height="17.2" fill="#18bfb6"/>
<rect x="583.9" y="555.5" width="16.7" height="17.2" fill="#07bcbf"/>
<rect x="600.2" y="555.5" width="16.7" height="17.2" fill="#02b7cb"/>
<rect x="616.5" y="555.5" width="16.7" height="17.2" fill="#12b1d6"/>
<rect x="632.8" y="555.5" width="16.7" height="17.2" fill="#18aedb"/>
<rect x="649.2" y="555.5" width="16.7" height="17.2" fill="#1caadf"/>
<rect x="665.5" y="555.5" width="16.7" height="17.2" fill="#1da8e0"/>
<rect x="681.8" y="555.5" width="16.7" height="17.2" fill="#22a2e4"/>
<rect x="698.1" y="555.5" width="16.7" height="17.2" fill="#249ee6"/>
<rect x="714.4" y="555.5" width="16.7" height="17.2" fill="#2797eb"/>
<rect x="730.8" y="555.5" width="16.7" height="17.2" fill="#2c8ef1"/>
<rect x="747.1" y="555.5" width="16.7" height="17.2" fill="#2e87f7"/>
<rect x="763.4" y="555.5" width="16.7" height="17.2" fill="#307ffb"/>
<rect x="779.7" y="555.5" width="16.7" height="17.2" fill="#3974fe"/>
<rect x="796" y="555.5" width="16.7" height="17.2" fill="#3c72ff"/>
<rect x="812.4" y="555.5" width="16.7" height="17.2" fill="#406cfe"/>
<rect x="828.7" y="555.5" width="16.7" height="17.2" fill="#4367fd"/>
<rect x="845" y="555.5" width="33" height="17.2" fill="#4464fd"/>
<rect x="877.6" y="555.5" width="33" height="17.2" fill="#4562fc"/>
<rect x="910.3" y="555.5" width="33" height="17.2" fill="#465ffb"/>
<rect x="175.9" y="572.3" width="33" height="17.2" fill="#475cfa"/>
<rect x="208.5" y="572.3" width="16.7" height="17.2" fill="#317dfc"/>
<rect x="224.8" y="572.3" width="16.7" height="17.2" fill="#1fa6e2"/>
<rect x="241.2" y="572.3" width="16.7" height="17.2" fill="#26c2ac"/>
<rect x="257.5" y="572.3" width="16.7" height="17.2" fill="#3eca8f"/>
<rect x="273.8" y="572.3" width="49.4" height="17.2" fill="#48cb86"/>
<rect x="322.8" y="572.3" width="16.7" height="17.2" fill="#43ca8b"/>
<rect x="339.1" y="572.3" width="49.4" height="17.2" fill="#3eca8f"/>
<rect x="388" y="572.3" width="16.7" height="17.2" fill="#3bc993"/>
<rect x="404.4" y="572.3" width="16.7" height="17.2" fill="#2fc5a2"/>
<rect x="420.7" y="572.3" width="16.7" height="17.2" fill="#2ac3a9"/>
<rect x="437" y="572.3" width="16.7" height="17.2" fill="#26c2ac"/>
<rect x="453.3" y="572.3" width="16.7" height="17.2" fill="#22c1b0"/>
<rect x="469.6" y="572.3" width="16.7" height="17.2" fill="#07bcbf"/>
<rect x="486" y="572.3" width="16.7" height="17.2" fill="#01bac5"/>
<rect x="502.3" y="572.3" width="33" height="17.2" fill="#02b7cb"/>
<rect x="534.9" y="572.3" width="49.4" height="17.2" fill="#05b6ce"/>
<rect x="583.9" y="572.3" width="16.7" height="17.2" fill="#12b1d6"/>
<rect x="600.2" y="572.3" width="16.7" height="17.2" fill="#1aacdd"/>
<rect x="616.5" y="572.3" width="16.7" height="17.2" fill="#1da8e0"/>
<rect x="632.8" y="572.3" width="16.7" height="17.2" fill="#1fa6e2"/>
<rect x="649.2" y="572.3" width="16.7" height="17.2" fill="#20a4e3"/>
<rect x="665.5" y="572.3" width="16.7" height="17.2" fill="#22a2e4"/>
<rect x="681.8" y="572.3" width="16.7" height="17.2" fill="#2699e9"/>
<rect x="698.1" y="572.3" width="16.7" height="17.2" fill="#2797eb"/>
<rect x="714.4" y="572.3" width="16.7" height="17.2" fill="#2a93ee"/>
<rect x="730.8" y="572.3" width="16.7" height="17.2" fill="#2e87f7"/>
<rect x="747.1" y="572.3" width="16.7" height="17.2" fill="#2e84f8"/>
<rect x="763.4" y="572.3" width="16.7" height="17.2" fill="#307ffb"/>
<rect x="779.7" y="572.3" width="16.7" height="17.2" fill="#3974fe"/>
<rect x="796" y="572.3" width="16.7" height="17.2" fill="#3e6fff"/>
<rect x="812.4" y="572.3" width="16.7" height="17.2" fill="#406cfe"/>
<rect x="828.7" y="572.3" width="16.7" height="17.2" fill="#4367fd"/>
<rect x="845" y="572.3" width="16.7" height="17.2" fill="#4464fd"/>
<rect x="861.3" y="572.3" width="49.4" height="17.2" fill="#4562fc"/>
<rect x="910.3" y="572.3" width="33" height="17.2" fill="#465ffb"/>
<rect x="175.9" y="589.1" width="33" height="17.2" fill="#475cfa"/>
<rect x="208.5" y="589.1" width="16.7" height="17.2" fill="#317dfc"/>
<rect x="224.8" y="589.1" width="16.7" height="17.2" fill="#22a2e4"/>
<rect x="241.2" y="589.1" width="16.7" height="17.2" fill="#01bac5"/>
<rect x="257.5" y="589.1" width="16.7" height="17.2" fill="#12beb9"/>
<rect x="273.8" y="589.1" width="49.4" height="17.2" fill="#18bfb6"/>
<rect x="322.8" y="589.1" width="16.7" height="17.2" fill="#12beb9"/>
<rect x="339.1" y="589.1" width="16.7" height="17.2" fill="#01bac5"/>
<rect x="355.4" y="589.1" width="49.4" height="17.2" fill="#01b8c8"/>
<rect x="404.4" y="589.1" width="33" height="17.2" fill="#02b7cb"/>
<rect x="437" y="589.1" width="16.7" height="17.2" fill="#12b1d6"/>
<rect x="453.3" y="589.1" width="16.7" height="17.2" fill="#15afd8"/>
<rect x="469.6" y="589.1" width="114.6" height="17.2" fill="#18aedb"/>
<rect x="583.9" y="589.1" width="16.7" height="17.2" fill="#1da8e0"/>
<rect x="600.2" y="589.1" width="16.7" height="17.2" fill="#20a4e3"/>
<rect x="616.5" y="589.1" width="16.7" height="17.2" fill="#249ee6"/>
<rect x="632.8" y="589.1" width="16.7" height="17.2" fill="#259ce7"/>
<rect x="649.2" y="589.1" width="16.7" height="17.2" fill="#2699e9"/>
<rect x="665.5" y="589.1" width="16.7" height="17.2" fill="#2895ec"/>
<rect x="681.8" y="589.1" width="16.7" height="17.2" fill="#2b90ef"/>
<rect x="698.1" y="589.1" width="16.7" height="17.2" fill="#2d8cf3"/>
<rect x="714.4" y="589.1" width="16.7" height="17.2" fill="#2d89f5"/>
<rect x="730.8" y="589.1" width="16.7" height="17.2" fill="#2f82fa"/>
<rect x="747.1" y="589.1" width="16.7" height="17.2" fill="#317dfc"/>
<rect x="763.4" y="589.1" width="16.7" height="17.2" fill="#3677fe"/>
<rect x="779.7" y="589.1" width="16.7" height="17.2" fill="#3c72ff"/>
<rect x="796" y="589.1" width="16.7" height="17.2" fill="#3e6fff"/>
<rect x="812.4" y="589.1" width="16.7" height="17.2" fill="#4269fe"/>
<rect x="828.7" y="589.1" width="16.7" height="17.2" fill="#4367fd"/>
<rect x="845" y="589.1" width="16.7" height="17.2" fill="#4464fd"/>
<rect x="861.3" y="589.1" width="33" height="17.2" fill="#4562fc"/>
<rect x="894" y="589.1" width="49.4" height="17.2" fill="#465ffb"/>
<rect x="175.9" y="605.9" width="33" height="17.2" fill="#475cfa"/>
<rect x="208.5" y="605.9" width="16.7" height="17.2" fill="#317dfc"/>
<rect x="224.8" y="605.9" width="16.7" height="17.2" fill="#249ee6"/>
<rect x="241.2" y="605.9" width="16.7" height="17.2" fill="#09b4d1"/>
<rect x="257.5" y="605.9" width="65.7" height="17.2" fill="#05b6ce"/>
<rect x="322.8" y="605.9" width="16.7" height="17.2" fill="#0db3d3"/>
<rect x="339.1" y="605.9" width="65.7" height="17.2" fill="#1aacdd"/>
<rect x="404.4" y="605.9" width="33" height="17.2" fill="#1caadf"/>
<rect x="437" y="605.9" width="16.7" height="17.2" fill="#20a4e3"/>
<rect x="453.3" y="605.9" width="131" height="17.2" fill="#22a2e4"/>
<rect x="583.9" y="605.9" width="16.7" height="17.2" fill="#249ee6"/>
<rect x="600.2" y="605.9" width="16.7" height="17.2" fill="#2699e9"/>
<rect x="616.5" y="605.9" width="16.7" height="17.2" fill="#2895ec"/>
<rect x="632.8" y="605.9" width="16.7" height="17.2" fill="#2a93ee"/>
<rect x="649.2" y="605.9" width="16.7" height="17.2" fill="#2b90ef"/>
<rect x="665.5" y="605.9" width="16.7" height="17.2" fill="#2c8ef1"/>
<rect x="681.8" y="605.9" width="16.7" height="17.2" fill="#2d8cf3"/>
<rect x="698.1" y="605.9" width="16.7" height="17.2" fill="#2e87f7"/>
<rect x="714.4" y="605.9" width="16.7" height="17.2" fill="#2e84f8"/>
<rect x="730.8" y="605.9" width="16.7" height="17.2" fill="#307ffb"/>
<rect x="747.1" y="605.9" width="16.7" height="17.2" fill="#347afd"/>
<rect x="763.4" y="605.9" width="16.7" height="17.2" fill="#3974fe"/>
<rect x="779.7" y="605.9" width="16.7" height="17.2" fill="#3e6fff"/>
<rect x="796" y="605.9" width="16.7" height="17.2" fill="#406cfe"/>
<rect x="812.4" y="605.9" width="16.7" height="17.2" fill="#4269fe"/>
<rect x="828.7" y="605.9" width="16.7" height="17.2" fill="#4464fd"/>
<rect x="845" y="605.9" width="49.4" height="17.2" fill="#4562fc"/>
<rect x="894" y="605.9" width="49.4" height="17.2" fill="#465ffb"/>
<rect x="175.9" y="622.8" width="33" height="17.2" fill="#475cfa"/>
<rect x="208.5" y="622.8" width="16.7" height="17.2" fill="#317dfc"/>
<rect x="224.8" y="622.8" width="16.7" height="17.2" fill="#249ee6"/>
<rect x="241.2" y="622.8" width="82" height="17.2" fill="#15afd8"/>
<rect x="322.8" y="622.8" width="16.7" height="17.2" fill="#1caadf"/>
<rect x="339.1" y="622.8" width="16.7" height="17.2" fill="#20a4e3"/>
<rect x="355.4" y="622.8" width="49.4" height="17.2" fill="#22a2e4"/>
<rect x="404.4" y="622.8" width="33" height="17.2" fill="#259ce7"/>
<rect x="437" y="622.8" width="49.4" height="17.2" fill="#2797eb"/>
<rect x="486" y="622.8" width="98.3" height="17.2" fill="#2699e9"/>
<rect x="583.9" y="622.8" width="16.7" height="17.2" fill="#2797eb"/>
<rect x="600.2" y="622.8" width="16.7" height="17.2" fill="#2a93ee"/>
<rect x="616.5" y="622.8" width="16.7" height="17.2" fill="#2b90ef"/>
<rect x="632.8" y="622.8" width="33" height="17.2" fill="#2d8cf3"/>
<rect x="665.5" y="622.8" width="16.7" height="17.2" fill="#2e87f7"/>
<rect x="681.8" y="622.8" width="16.7" height="17.2" fill="#2e84f8"/>
<rect x="698.1" y="622.8" width="16.7" height="17.2" fill="#2f82fa"/>
<rect x="714.4" y="622.8" width="16.7" height="17.2" fill="#307ffb"/>
<rect x="730.8" y="622.8" width="16.7" height="17.2" fill="#347afd"/>
<rect x="747.1" y="622.8" width="16.7" height="17.2" fill="#3677fe"/>
<rect x="763.4" y="622.8" width="16.7" height="17.2" fill="#3c72ff"/>
<rect x="779.7" y="622.8" width="16.7" height="17.2" fill="#406cfe"/>
<rect x="796" y="622.8" width="16.7" height="17.2" fill="#4269fe"/>
<rect x="812.4" y="622.8" width="16.7" height="17.2" fill="#4367fd"/>
<rect x="828.7" y="622.8" width="16.7" height="17.2" fill="#4464fd"/>
<rect x="845" y="622.8" width="33" height="17.2" fill="#4562fc"/>
<rect x="877.6" y="622.8" width="65.7" height="17.2" fill="#465ffb"/>
<rect x="175.9" y="639.6" width="33" height="17.2" fill="#475cfa"/>
<rect x="208.5" y="639.6" width="16.7" height="17.2" fill="#347afd"/>
<rect x="224.8" y="639.6" width="16.7" height="17.2" fill="#259ce7"/>
<rect x="241.2" y="639.6" width="65.7" height="17.2" fill="#1caadf"/>
<rect x="306.4" y="639.6" width="16.7" height="17.2" fill="#1da8e0"/>
<rect x="322.8" y="639.6" width="16.7" height="17.2" fill="#249ee6"/>
<rect x="339.1" y="639.6" width="49.4" height="17.2" fill="#259ce7"/>
<rect x="388" y="639.6" width="16.7" height="17.2" fill="#2699e9"/>
<rect x="404.4" y="639.6" width="16.7" height="17.2" fill="#2b90ef"/>
<rect x="420.7" y="639.6" width="98.3" height="17.2" fill="#2c8ef1"/>
<rect x="518.6" y="639.6" width="65.7" height="17.2" fill="#2b90ef"/>
<rect x="583.9" y="639.6" width="16.7" height="17.2" fill="#2c8ef1"/>
<rect x="600.2" y="639.6" width="16.7" height="17.2" fill="#2d8cf3"/>
<rect x="616.5" y="639.6" width="16.7" height="17.2" fill="#2d89f5"/>
<rect x="632.8" y="639.6" width="16.7" height="17.2" fill="#2e87f7"/>
<rect x="649.2" y="639.6" width="16.7" height="17.2" fill="#2e84f8"/>
<rect x="665.5" y="639.6" width="16.7" height="17.2" fill="#2f82fa"/>
<rect x="681.8" y="639.6" width="16.7" height="17.2" fill="#307ffb"/>
<rect x="698.1" y="639.6" width="16.7" height="17.2" fill="#317dfc"/>
<rect x="714.4" y="639.6" width="16.7" height="17.2" fill="#347afd"/>
<rect x="730.8" y="639.6" width="16.7" height="17.2" fill="#3974fe"/>
<rect x="747.1" y="639.6" width="16.7" height="17.2" fill="#3c72ff"/>
<rect x="763.4" y="639.6" width="16.7" height="17.2" fill="#3e6fff"/>
<rect x="779.7" y="639.6" width="16.7" height="17.2" fill="#406cfe"/>
<rect x="796" y="639.6" width="16.7" height="17.2" fill="#4367fd"/>
<rect x="812.4" y="639.6" width="16.7" height="17.2" fill="#4464fd"/>
<rect x="828.7" y="639.6" width="49.4" height="17.2" fill="#4562fc"/>
<rect x="877.6" y="639.6" width="65.7" height="17.2" fill="#465ffb"/>
<rect x="175.9" y="656.4" width="33" height="17.2" fill="#475cfa"/>
<rect x="208.5" y="656.4" width="16.7" height="17.2" fill="#3677fe"/>
<rect x="224.8" y="656.4" width="16.7" height="17.2" fill="#2797eb"/>
<rect x="241.2" y="656.4" width="82" height="17.2" fill="#22a2e4"/>
<rect x="322.8" y="656.4" width="16.7" height="17.2" fill="#2797eb"/>
<rect x="339.1" y="656.4" width="33" height="17.2" fill="#2895ec"/>
<rect x="371.7" y="656.4" width="16.7" height="17.2" fill="#2b90ef"/>
<rect x="388" y="656.4" width="16.7" height="17.2" fill="#2c8ef1"/>
<rect x="404.4" y="656.4" width="196.2" height="17.2" fill="#2e87f7"/>
<rect x="600.2" y="656.4" width="16.7" height="17.2" fill="#2e84f8"/>
<rect x="616.5" y="656.4" width="16.7" height="17.2" fill="#2f82fa"/>
<rect x="632.8" y="656.4" width="16.7" height="17.2" fill="#307ffb"/>
<rect x="649.2" y="656.4" width="33" height="17.2" fill="#317dfc"/>
<rect x="681.8" y="656.4" width="16.7" height="17.2" fill="#3677fe"/>
<rect x="698.1" y="656.4" width="16.7" height="17.2" fill="#3974fe"/>
<rect x="714.4" y="656.4" width="16.7" height="17.2" fill="#3c72ff"/>
<rect x="730.8" y="656.4" width="16.7" height="17.2" fill="#3e6fff"/>
<rect x="747.1" y="656.4" width="16.7" height="17.2" fill="#406cfe"/>
<rect x="763.4" y="656.4" width="16.7" height="17.2" fill="#4269fe"/>
<rect x="779.7" y="656.4" width="16.7" height="17.2" fill="#4367fd"/>
<rect x="796" y="656.4" width="33" height="17.2" fill="#4464fd"/>
<rect x="828.7" y="656.4" width="33" height="17.2" fill="#4562fc"/>
<rect x="861.3" y="656.4" width="82" height="17.2" fill="#465ffb"/>
<rect x="175.9" y="673.2" width="33" height="17.2" fill="#475cfa"/>
<rect x="208.5" y="673.2" width="16.7" height="17.2" fill="#3677fe"/>
<rect x="224.8" y="673.2" width="16.7" height="17.2" fill="#2a93ee"/>
<rect x="241.2" y="673.2" width="82" height="17.2" fill="#259ce7"/>
<rect x="322.8" y="673.2" width="16.7" height="17.2" fill="#2a93ee"/>
<rect x="339.1" y="673.2" width="33" height="17.2" fill="#2b90ef"/>
<rect x="371.7" y="673.2" width="33" height="17.2" fill="#2e84f8"/>
<rect x="404.4" y="673.2" width="163.6" height="17.2" fill="#2f82fa"/>
<rect x="567.6" y="673.2" width="33" height="17.2" fill="#307ffb"/>
<rect x="600.2" y="673.2" width="33" height="17.2" fill="#317dfc"/>
<rect x="632.8" y="673.2" width="16.7" height="17.2" fill="#347afd"/>
<rect x="649.2" y="673.2" width="16.7" height="17.2" fill="#3677fe"/>
<rect x="665.5" y="673.2" width="16.7" height="17.2" fill="#3974fe"/>
<rect x="681.8" y="673.2" width="16.7" height="17.2" fill="#3c72ff"/>
<rect x="698.1" y="673.2" width="16.7" height="17.2" fill="#3e6fff"/>
<rect x="714.4" y="673.2" width="16.7" height="17.2" fill="#406cfe"/>
<rect x="730.8" y="673.2" width="16.7" height="17.2" fill="#4269fe"/>
<rect x="747.1" y="673.2" width="16.7" height="17.2" fill="#4367fd"/>
<rect x="763.4" y="673.2" width="16.7" height="17.2" fill="#4464fd"/>
<rect x="779.7" y="673.2" width="82" height="17.2" fill="#4562fc"/>
<rect x="861.3" y="673.2" width="82" height="17.2" fill="#465ffb"/>
<rect x="175.9" y="690" width="33" height="17.2" fill="#475cfa"/>
<rect x="208.5" y="690" width="16.7" height="17.2" fill="#3677fe"/>
<rect x="224.8" y="690" width="16.7" height="17.2" fill="#2a93ee"/>
<rect x="241.2" y="690" width="82" height="17.2" fill="#259ce7"/>
<rect x="322.8" y="690" width="16.7" height="17.2" fill="#2a93ee"/>
<rect x="339.1" y="690" width="33" height="17.2" fill="#2b90ef"/>
<rect x="371.7" y="690" width="33" height="17.2" fill="#2e84f8"/>
<rect x="404.4" y="690" width="163.6" height="17.2" fill="#2f82fa"/>
<rect x="567.6" y="690" width="33" height="17.2" fill="#307ffb"/>
<rect x="600.2" y="690" width="33" height="17.2" fill="#317dfc"/>
<rect x="632.8" y="690" width="16.7" height="17.2" fill="#347afd"/>
<rect x="649.2" y="690" width="16.7" height="17.2" fill="#3677fe"/>
<rect x="665.5" y="690" width="16.7" height="17.2" fill="#3974fe"/>
<rect x="681.8" y="690" width="16.7" height="17.2" fill="#3c72ff"/>
<rect x="698.1" y="690" width="16.7" height="17.2" fill="#3e6fff"/>
<rect x="714.4" y="690" width="16.7" height="17.2" fill="#406cfe"/>
<rect x="730.8" y="690" width="16.7" height="17.2" fill="#4269fe"/>
<rect x="747.1" y="690" width="16.7" height="17.2" fill="#4367fd"/>
<rect x="763.4" y="690" width="16.7" height="17.2" fill="#4464fd"/>
<rect x="779.7" y="690" width="82" height="17.2" fill="#4562fc"/>
<rect x="861.3" y="690" width="82" height="17.2" fill="#465ffb"/>
</g></g>
<rect x="192.2" y="68" width="734.4" height="622" fill="none" stroke="#2f3b4c" stroke-width="1.3"/>
<text x="198.4" y="741.8" font-size="39.5" text-anchor="middle">0</text>
<text x="348.6" y="741.8" font-size="39.5" text-anchor="middle">5</text>
<text x="498.8" y="741.8" font-size="39.5" text-anchor="middle">10</text>
<text x="649" y="741.8" font-size="39.5" text-anchor="middle">15</text>
<text x="799.2" y="741.8" font-size="39.5" text-anchor="middle">20</text>
<text x="177.7" y="697" font-size="39.5" text-anchor="end">0</text>
<text x="177.7" y="508" font-size="39.5" text-anchor="end">5</text>
<text x="177.7" y="319" font-size="39.5" text-anchor="end">10</text>
<text x="177.7" y="130" font-size="39.5" text-anchor="end">15</text>
<path d="M198.4 68 v7 M198.4 690 v-7 M348.6 68 v7 M348.6 690 v-7 M498.8 68 v7 M498.8 690 v-7 M649 68 v7 M649 690 v-7 M799.2 68 v7 M799.2 690 v-7 M192.2 682 h7 M926.6 682 h-7 M192.2 493 h7 M926.6 493 h-7 M192.2 304 h7 M926.6 304 h-7 M192.2 115 h7 M926.6 115 h-7" stroke="#2f3b4c" stroke-width="1.3" fill="none"/>
<linearGradient id="cba" x1="0" y1="1" x2="0" y2="0">
<stop offset="0.0000" stop-color="#3e26a8"/>
<stop offset="0.0159" stop-color="#402ab4"/>
<stop offset="0.0317" stop-color="#422ec0"/>
<stop offset="0.0476" stop-color="#4332cb"/>
<stop offset="0.0635" stop-color="#4537d5"/>
<stop offset="0.0794" stop-color="#463cde"/>
<stop offset="0.0952" stop-color="#4741e5"/>
<stop offset="0.1111" stop-color="#4747eb"/>
<stop offset="0.1270" stop-color="#484df0"/>
<stop offset="0.1429" stop-color="#4852f4"/>
<stop offset="0.1587" stop-color="#4758f8"/>
<stop offset="0.1746" stop-color="#465efb"/>
<stop offset="0.1905" stop-color="#4563fd"/>
<stop offset="0.2063" stop-color="#4269fe"/>
<stop offset="0.2222" stop-color="#3e6fff"/>
<stop offset="0.2381" stop-color="#3875fe"/>
<stop offset="0.2540" stop-color="#327cfc"/>
<stop offset="0.2698" stop-color="#2f81fa"/>
<stop offset="0.2857" stop-color="#2e87f7"/>
<stop offset="0.3016" stop-color="#2d8cf3"/>
<stop offset="0.3175" stop-color="#2b91ef"/>
<stop offset="0.3333" stop-color="#2797eb"/>
<stop offset="0.3492" stop-color="#259be8"/>
<stop offset="0.3651" stop-color="#23a0e5"/>
<stop offset="0.3810" stop-color="#20a5e3"/>
<stop offset="0.3968" stop-color="#1ca9df"/>
<stop offset="0.4127" stop-color="#18addb"/>
<stop offset="0.4286" stop-color="#12b1d6"/>
<stop offset="0.4444" stop-color="#08b5d0"/>
<stop offset="0.4603" stop-color="#01b8ca"/>
<stop offset="0.4762" stop-color="#02bac3"/>
<stop offset="0.4921" stop-color="#0bbdbd"/>
<stop offset="0.5079" stop-color="#19bfb6"/>
<stop offset="0.5238" stop-color="#24c1ae"/>
<stop offset="0.5397" stop-color="#2cc4a7"/>
<stop offset="0.5556" stop-color="#31c69f"/>
<stop offset="0.5714" stop-color="#37c897"/>
<stop offset="0.5873" stop-color="#3fca8e"/>
<stop offset="0.6032" stop-color="#4acb84"/>
<stop offset="0.6190" stop-color="#57cc7a"/>
<stop offset="0.6349" stop-color="#64cd6f"/>
<stop offset="0.6508" stop-color="#72cd64"/>
<stop offset="0.6667" stop-color="#81cc59"/>
<stop offset="0.6825" stop-color="#8fcb4e"/>
<stop offset="0.6984" stop-color="#9dc943"/>
<stop offset="0.7143" stop-color="#abc739"/>
<stop offset="0.7302" stop-color="#b9c431"/>
<stop offset="0.7460" stop-color="#c5c22a"/>
<stop offset="0.7619" stop-color="#d1bf27"/>
<stop offset="0.7778" stop-color="#dcbd29"/>
<stop offset="0.7937" stop-color="#e6bb2d"/>
<stop offset="0.8095" stop-color="#f0ba36"/>
<stop offset="0.8254" stop-color="#f8ba3d"/>
<stop offset="0.8413" stop-color="#febe3c"/>
<stop offset="0.8571" stop-color="#fec338"/>
<stop offset="0.8730" stop-color="#fec934"/>
<stop offset="0.8889" stop-color="#fccf30"/>
<stop offset="0.9048" stop-color="#fad62d"/>
<stop offset="0.9206" stop-color="#f7dc2a"/>
<stop offset="0.9365" stop-color="#f5e327"/>
<stop offset="0.9524" stop-color="#f5e924"/>
<stop offset="0.9683" stop-color="#f6ef20"/>
<stop offset="0.9841" stop-color="#f7f51b"/>
<stop offset="1.0000" stop-color="#f9fb15"/>
</linearGradient>
<rect x="946" y="68" width="40.5" height="622" fill="url(#cba)" stroke="#4a4a3a" stroke-width="1.2"/>
<text x="1000.5" y="662.1" font-size="40">0</text>
<text x="1000.5" y="573.1" font-size="40">1</text>
<text x="1000.5" y="484.2" font-size="40">2</text>
<text x="1000.5" y="395.2" font-size="40">3</text>
<text x="1000.5" y="306.2" font-size="40">4</text>
<text x="1000.5" y="217.2" font-size="40">5</text>
<text x="1000.5" y="128.3" font-size="40">6</text>
<path d="M986.5 646.6 h-6 M986.5 557.6 h-6 M986.5 468.7 h-6 M986.5 379.7 h-6 M986.5 290.7 h-6 M986.5 201.8 h-6 M986.5 112.8 h-6" stroke="#4a4a3a" stroke-width="1.3" fill="none"/>
</g>
<g id="panel-b">
<clipPath id="hcb"><rect x="194.2" y="848.7" width="735.2" height="622.5"/></clipPath>
<filter id="hbb" x="-5%" y="-5%" width="110%" height="110%"><feGaussianBlur stdDeviation="2.2"/></filter>
<g clip-path="url(#hcb)"><g filter="url(#hbb)" shape-rendering="crispEdges">
<rect x="179.2" y="829.8" width="30.4" height="19.3" fill="#2f82fa"/>
<rect x="209.2" y="829.8" width="15.4" height="19.3" fill="#2e87f7"/>
<rect x="224.2" y="829.8" width="15.4" height="19.3" fill="#2d89f5"/>
<rect x="239.2" y="829.8" width="15.4" height="19.3" fill="#2e87f7"/>
<rect x="254.2" y="829.8" width="15.4" height="19.3" fill="#2e84f8"/>
<rect x="269.2" y="829.8" width="15.4" height="19.3" fill="#2e87f7"/>
<rect x="284.2" y="829.8" width="30.4" height="19.3" fill="#2d89f5"/>
<rect x="314.2" y="829.8" width="15.4" height="19.3" fill="#2e87f7"/>
<rect x="329.2" y="829.8" width="15.4" height="19.3" fill="#2e84f8"/>
<rect x="344.2" y="829.8" width="15.4" height="19.3" fill="#2d89f5"/>
<rect x="359.2" y="829.8" width="15.4" height="19.3" fill="#2c8ef1"/>
<rect x="374.2" y="829.8" width="15.4" height="19.3" fill="#2b90ef"/>
<rect x="389.3" y="829.8" width="60.4" height="19.3" fill="#2c8ef1"/>
<rect x="449.3" y="829.8" width="15.4" height="19.3" fill="#2d89f5"/>
<rect x="464.3" y="829.8" width="15.4" height="19.3" fill="#2e87f7"/>
<rect x="479.3" y="829.8" width="15.4" height="19.3" fill="#2e84f8"/>
<rect x="494.3" y="829.8" width="30.4" height="19.3" fill="#2e87f7"/>
<rect x="524.3" y="829.8" width="30.4" height="19.3" fill="#2d89f5"/>
<rect x="554.3" y="829.8" width="15.4" height="19.3" fill="#2d8cf3"/>
<rect x="569.3" y="829.8" width="15.4" height="19.3" fill="#2c8ef1"/>
<rect x="584.3" y="829.8" width="15.4" height="19.3" fill="#2d8cf3"/>
<rect x="599.3" y="829.8" width="15.4" height="19.3" fill="#2d89f5"/>
<rect x="614.3" y="829.8" width="30.4" height="19.3" fill="#2e84f8"/>
<rect x="644.3" y="829.8" width="45.4" height="19.3" fill="#2f82fa"/>
<rect x="689.3" y="829.8" width="15.4" height="19.3" fill="#2e84f8"/>
<rect x="704.3" y="829.8" width="15.4" height="19.3" fill="#2d89f5"/>
<rect x="719.3" y="829.8" width="15.4" height="19.3" fill="#2c8ef1"/>
<rect x="734.3" y="829.8" width="15.4" height="19.3" fill="#2a93ee"/>
<rect x="749.4" y="829.8" width="15.4" height="19.3" fill="#2b90ef"/>
<rect x="764.4" y="829.8" width="15.4" height="19.3" fill="#2d8cf3"/>
<rect x="779.4" y="829.8" width="30.4" height="19.3" fill="#2e87f7"/>
<rect x="809.4" y="829.8" width="15.4" height="19.3" fill="#2d89f5"/>
<rect x="824.4" y="829.8" width="15.4" height="19.3" fill="#2d8cf3"/>
<rect x="839.4" y="829.8" width="30.4" height="19.3" fill="#2d89f5"/>
<rect x="869.4" y="829.8" width="15.4" height="19.3" fill="#2e87f7"/>
<rect x="884.4" y="829.8" width="15.4" height="19.3" fill="#2d89f5"/>
<rect x="899.4" y="829.8" width="15.4" height="19.3" fill="#2d8cf3"/>
<rect x="914.4" y="829.8" width="30.4" height="19.3" fill="#2a93ee"/>
<rect x="179.2" y="848.7" width="30.4" height="19.3" fill="#2f82fa"/>
<rect x="209.2" y="848.7" width="15.4" height="19.3" fill="#2e87f7"/>
<rect x="224.2" y="848.7" width="15.4" height="19.3" fill="#2d89f5"/>
<rect x="239.2" y="848.7" width="15.4" height="19.3" fill="#2e87f7"/>
<rect x="254.2" y="848.7" width="15.4" height="19.3" fill="#2e84f8"/>
<rect x="269.2" y="848.7" width="15.4" height="19.3" fill="#2e87f7"/>
<rect x="284.2" y="848.7" width="30.4" height="19.3" fill="#2d89f5"/>
<rect x="314.2" y="848.7" width="15.4" height="19.3" fill="#2e87f7"/>
<rect x="329.2" y="848.7" width="15.4" height="19.3" fill="#2e84f8"/>
<rect x="344.2" y="848.7" width="15.4" height="19.3" fill="#2d89f5"/>
<rect x="359.2" y="848.7" width="15.4" height="19.3" fill="#2c8ef1"/>
<rect x="374.2" y="848.7" width="15.4" height="19.3" fill="#2b90ef"/>
<rect x="389.3" y="848.7" width="60.4" height="19.3" fill="#2c8ef1"/>
<rect x="449.3" y="848.7" width="15.4" height="19.3" fill="#2d89f5"/>
<rect x="464.3" y="848.7" width="15.4" height="19.3" fill="#2e87f7"/>
<rect x="479.3" y="848.7" width="15.4" height="19.3" fill="#2e84f8"/>
<rect x="494.3" y="848.7" width="30.4" height="19.3" fill="#2e87f7"/>
<rect x="524.3" y="848.7" width="30.4" height="19.3" fill="#2d89f5"/>
<rect x="554.3" y="848.7" width="15.4" height="19.3" fill="#2d8cf3"/>
<rect x="569.3" y="848.7" width="15.4" height="19.3" fill="#2c8ef1"/>
<rect x="584.3" y="848.7" width="15.4" height="19.3" fill="#2d8cf3"/>
<rect x="599.3" y="848.7" width="15.4" height="19.3" fill="#2d89f5"/>
<rect x="614.3" y="848.7" width="30.4" height="19.3" fill="#2e84f8"/>
<rect x="644.3" y="848.7" width="45.4" height="19.3" fill="#2f82fa"/>
<rect x="689.3" y="848.7" width="15.4" height="19.3" fill="#2e84f8"/>
<rect x="704.3" y="848.7" width="15.4" height="19.3" fill="#2d89f5"/>
<rect x="719.3" y="848.7" width="15.4" height="19.3" fill="#2c8ef1"/>
<rect x="734.3" y="848.7" width="15.4" height="19.3" fill="#2a93ee"/>
<rect x="749.4" y="848.7" width="15.4" height="19.3" fill="#2b90ef"/>
<rect x="764.4" y="848.7" width="15.4" height="19.3" fill="#2d8cf3"/>
<rect x="779.4" y="848.7" width="30.4" height="19.3" fill="#2e87f7"/>
<rect x="809.4" y="848.7" width="15.4" height="19.3" fill="#2d89f5"/>
<rect x="824.4" y="848.7" width="15.4" height="19.3" fill="#2d8cf3"/>
<rect x="839.4" y="848.7" width="30.4" height="19.3" fill="#2d89f5"/>
<rect x="869.4" y="848.7" width="15.4" height="19.3" fill="#2e87f7"/>
<rect x="884.4" y="848.7" width="15.4" height="19.3" fill="#2d89f5"/>
<rect x="899.4" y="848.7" width="15.4" height="19.3" fill="#2d8cf3"/>
<rect x="914.4" y="848.7" width="30.4" height="19.3" fill="#2a93ee"/>
<rect x="179.2" y="867.6" width="30.4" height="19.3" fill="#2e87f7"/>
<rect x="209.2" y="867.6" width="15.4" height="19.3" fill="#2d89f5"/>
<rect x="224.2" y="867.6" width="60.4" height="19.3" fill="#2d8cf3"/>
<rect x="284.2" y="867.6" width="30.4" height="19.3" fill="#2c8ef1"/>
<rect x="314.2" y="867.6" width="30.4" height="19.3" fill="#2d8cf3"/>
<rect x="344.2" y="867.6" width="15.4" height="19.3" fill="#2d89f5"/>
<rect x="359.2" y="867.6" width="15.4" height="19.3" fill="#2d8cf3"/>
<rect x="374.2" y="867.6" width="15.4" height="19.3" fill="#2c8ef1"/>
<rect x="389.3" y="867.6" width="15.4" height="19.3" fill="#2b90ef"/>
<rect x="404.3" y="867.6" width="30.4" height="19.3" fill="#2c8ef1"/>
<rect x="434.3" y="867.6" width="30.4" height="19.3" fill="#2d8cf3"/>
<rect x="464.3" y="867.6" width="15.4" height="19.3" fill="#2d89f5"/>
<rect x="479.3" y="867.6" width="15.4" height="19.3" fill="#2e87f7"/>
<rect x="494.3" y="867.6" width="30.4" height="19.3" fill="#2e84f8"/>
<rect x="524.3" y="867.6" width="15.4" height="19.3" fill="#2e87f7"/>
<rect x="539.3" y="867.6" width="15.4" height="19.3" fill="#2c8ef1"/>
<rect x="554.3" y="867.6" width="15.4" height="19.3" fill="#2b90ef"/>
<rect x="569.3" y="867.6" width="30.4" height="19.3" fill="#2a93ee"/>
<rect x="599.3" y="867.6" width="15.4" height="19.3" fill="#2b90ef"/>
<rect x="614.3" y="867.6" width="15.4" height="19.3" fill="#2c8ef1"/>
<rect x="629.3" y="867.6" width="30.4" height="19.3" fill="#2b90ef"/>
<rect x="659.3" y="867.6" width="30.4" height="19.3" fill="#2c8ef1"/>
<rect x="689.3" y="867.6" width="15.4" height="19.3" fill="#2d8cf3"/>
<rect x="704.3" y="867.6" width="15.4" height="19.3" fill="#2c8ef1"/>
<rect x="719.3" y="867.6" width="15.4" height="19.3" fill="#2b90ef"/>
<rect x="734.3" y="867.6" width="30.4" height="19.3" fill="#2c8ef1"/>
<rect x="764.4" y="867.6" width="15.4" height="19.3" fill="#2b90ef"/>
<rect x="779.4" y="867.6" width="30.4" height="19.3" fill="#2a93ee"/>
<rect x="809.4" y="867.6" width="15.4" height="19.3" fill="#2b90ef"/>
<rect x="824.4" y="867.6" width="15.4" height="19.3" fill="#2d8cf3"/>
<rect x="839.4" y="867.6" width="15.4" height="19.3" fill="#2d89f5"/>
<rect x="854.4" y="867.6" width="15.4" height="19.3" fill="#2e87f7"/>
<rect x="869.4" y="867.6" width="15.4" height="19.3" fill="#2d89f5"/>
<rect x="884.4" y="867.6" width="15.4" height="19.3" fill="#2d8cf3"/>
<rect x="899.4" y="867.6" width="45.4" height="19.3" fill="#2b90ef"/>
<rect x="179.2" y="886.4" width="60.4" height="19.3" fill="#2d8cf3"/>
<rect x="239.2" y="886.4" width="15.4" height="19.3" fill="#2c8ef1"/>
<rect x="254.2" y="886.4" width="15.4" height="19.3" fill="#2d8cf3"/>
<rect x="269.2" y="886.4" width="15.4" height="19.3" fill="#2e87f7"/>
<rect x="284.2" y="886.4" width="30.4" height="19.3" fill="#2f82fa"/>
<rect x="314.2" y="886.4" width="15.4" height="19.3" fill="#2d89f5"/>
<rect x="329.2" y="886.4" width="30.4" height="19.3" fill="#2d8cf3"/>
<rect x="359.2" y="886.4" width="30.4" height="19.3" fill="#2d89f5"/>
<rect x="389.3" y="886.4" width="15.4" height="19.3" fill="#2e87f7"/>
<rect x="404.3" y="886.4" width="15.4" height="19.3" fill="#2e84f8"/>
<rect x="419.3" y="886.4" width="15.4" height="19.3" fill="#2e87f7"/>
<rect x="434.3" y="886.4" width="15.4" height="19.3" fill="#2d8cf3"/>
<rect x="449.3" y="886.4" width="30.4" height="19.3" fill="#2b90ef"/>
<rect x="479.3" y="886.4" width="30.4" height="19.3" fill="#2d89f5"/>
<rect x="509.3" y="886.4" width="15.4" height="19.3" fill="#2c8ef1"/>
<rect x="524.3" y="886.4" width="30.4" height="19.3" fill="#2a93ee"/>
<rect x="554.3" y="886.4" width="45.4" height="19.3" fill="#2b90ef"/>
<rect x="599.3" y="886.4" width="15.4" height="19.3" fill="#2c8ef1"/>
<rect x="614.3" y="886.4" width="15.4" height="19.3" fill="#2d89f5"/>
<rect x="629.3" y="886.4" width="15.4" height="19.3" fill="#2d8cf3"/>
<rect x="644.3" y="886.4" width="15.4" height="19.3" fill="#2c8ef1"/>
<rect x="659.3" y="886.4" width="15.4" height="19.3" fill="#2b90ef"/>
<rect x="674.3" y="886.4" width="15.4" height="19.3" fill="#2c8ef1"/>
<rect x="689.3" y="886.4" width="15.4" height="19.3" fill="#2e87f7"/>
<rect x="704.3" y="886.4" width="45.4" height="19.3" fill="#2f82fa"/>
<rect x="749.4" y="886.4" width="15.4" height="19.3" fill="#2e87f7"/>
<rect x="764.4" y="886.4" width="30.4" height="19.3" fill="#2d89f5"/>
<rect x="794.4" y="886.4" width="15.4" height="19.3" fill="#2d8cf3"/>
<rect x="809.4" y="886.4" width="45.4" height="19.3" fill="#2d89f5"/>
<rect x="854.4" y="886.4" width="30.4" height="19.3" fill="#2d8cf3"/>
<rect x="884.4" y="886.4" width="15.4" height="19.3" fill="#2e87f7"/>
<rect x="899.4" y="886.4" width="15.4" height="19.3" fill="#2e84f8"/>
<rect x="914.4" y="886.4" width="30.4" height="19.3" fill="#307ffb"/>
<rect x="179.2" y="905.3" width="30.4" height="19.3" fill="#2895ec"/>
<rect x="209.2" y="905.3" width="15.4" height="19.3" fill="#2b90ef"/>
<rect x="224.2" y="905.3" width="15.4" height="19.3" fill="#2d8cf3"/>
<rect x="239.2" y="905.3" width="15.4" height="19.3" fill="#2e87f7"/>
<rect x="254.2" y="905.3" width="15.4" height="19.3" fill="#2e84f8"/>
<rect x="269.2" y="905.3" width="15.4" height="19.3" fill="#2d89f5"/>
<rect x="284.2" y="905.3" width="15.4" height="19.3" fill="#2c8ef1"/>
<rect x="299.2" y="905.3" width="15.4" height="19.3" fill="#2b90ef"/>
<rect x="314.2" y="905.3" width="15.4" height="19.3" fill="#2d89f5"/>
<rect x="329.2" y="905.3" width="15.4" height="19.3" fill="#2e84f8"/>
<rect x="344.2" y="905.3" width="15.4" height="19.3" fill="#2f82fa"/>
<rect x="359.2" y="905.3" width="15.4" height="19.3" fill="#2e84f8"/>
<rect x="374.2" y="905.3" width="15.4" height="19.3" fill="#2e87f7"/>
<rect x="389.3" y="905.3" width="15.4" height="19.3" fill="#2e84f8"/>
<rect x="404.3" y="905.3" width="15.4" height="19.3" fill="#2e87f7"/>
<rect x="419.3" y="905.3" width="15.4" height="19.3" fill="#2d8cf3"/>
<rect x="434.3" y="905.3" width="30.4" height="19.3" fill="#2a93ee"/>
<rect x="464.3" y="905.3" width="15.4" height="19.3" fill="#2c8ef1"/>
<rect x="479.3" y="905.3" width="15.4" height="19.3" fill="#2e87f7"/>
<rect x="494.3" y="905.3" width="45.4" height="19.3" fill="#307ffb"/>
<rect x="539.3" y="905.3" width="30.4" height="19.3" fill="#2f82fa"/>
<rect x="569.3" y="905.3" width="15.4" height="19.3" fill="#2e87f7"/>
<rect x="584.3" y="905.3" width="30.4" height="19.3" fill="#2d8cf3"/>
<rect x="614.3" y="905.3" width="45.4" height="19.3" fill="#2e87f7"/>
<rect x="659.3" y="905.3" width="15.4" height="19.3" fill="#2d89f5"/>
<rect x="674.3" y="905.3" width="15.4" height="19.3" fill="#2e87f7"/>
<rect x="689.3" y="905.3" width="15.4" height="19.3" fill="#2f82fa"/>
<rect x="704.3" y="905.3" width="15.4" height="19.3" fill="#307ffb"/>
<rect x="719.3" y="905.3" width="15.4" height="19.3" fill="#2f82fa"/>
<rect x="734.3" y="905.3" width="15.4" height="19.3" fill="#2e87f7"/>
<rect x="749.4" y="905.3" width="15.4" height="19.3" fill="#2c8ef1"/>
<rect x="764.4" y="905.3" width="15.4" height="19.3" fill="#2b90ef"/>
<rect x="779.4" y="905.3" width="15.4" height="19.3" fill="#2a93ee"/>
<rect x="794.4" y="905.3" width="15.4" height="19.3" fill="#2d8cf3"/>
<rect x="809.4" y="905.3" width="15.4" height="19.3" fill="#2d89f5"/>
<rect x="824.4" y="905.3" width="15.4" height="19.3" fill="#2e84f8"/>
<rect x="839.4" y="905.3" width="15.4" height="19.3" fill="#2f82fa"/>
<rect x="854.4" y="905.3" width="15.4" height="19.3" fill="#307ffb"/>
<rect x="869.4" y="905.3" width="15.4" height="19.3" fill="#2e84f8"/>
<rect x="884.4" y="905.3" width="15.4" height="19.3" fill="#2d89f5"/>
<rect x="899.4" y="905.3" width="15.4" height="19.3" fill="#2b90ef"/>
<rect x="914.4" y="905.3" width="30.4" height="19.3" fill="#2a93ee"/>
<rect x="179.2" y="924.2" width="30.4" height="19.3" fill="#2b90ef"/>
<rect x="209.2" y="924.2" width="15.4" height="19.3" fill="#2d8cf3"/>
<rect x="224.2" y="924.2" width="15.4" height="19.3" fill="#2d89f5"/>
<rect x="239.2" y="924.2" width="15.4" height="19.3" fill="#2e87f7"/>
<rect x="254.2" y="924.2" width="15.4" height="19.3" fill="#2f82fa"/>
<rect x="269.2" y="924.2" width="15.4" height="19.3" fill="#307ffb"/>
<rect x="284.2" y="924.2" width="15.4" height="19.3" fill="#317dfc"/>
<rect x="299.2" y="924.2" width="15.4" height="19.3" fill="#307ffb"/>
<rect x="314.2" y="924.2" width="15.4" height="19.3" fill="#2e84f8"/>
<rect x="329.2" y="924.2" width="15.4" height="19.3" fill="#2d89f5"/>
<rect x="344.2" y="924.2" width="15.4" height="19.3" fill="#2d8cf3"/>
<rect x="359.2" y="924.2" width="45.4" height="19.3" fill="#2c8ef1"/>
<rect x="404.3" y="924.2" width="15.4" height="19.3" fill="#2d89f5"/>
<rect x="419.3" y="924.2" width="15.4" height="19.3" fill="#2e87f7"/>
<rect x="434.3" y="924.2" width="15.4" height="19.3" fill="#2f82fa"/>
<rect x="449.3" y="924.2" width="15.4" height="19.3" fill="#2e87f7"/>
<rect x="464.3" y="924.2" width="15.4" height="19.3" fill="#2d89f5"/>
<rect x="479.3" y="924.2" width="45.4" height="19.3" fill="#2c8ef1"/>
<rect x="524.3" y="924.2" width="15.4" height="19.3" fill="#2d89f5"/>
<rect x="539.3" y="924.2" width="15.4" height="19.3" fill="#2e87f7"/>
<rect x="554.3" y="924.2" width="45.4" height="19.3" fill="#2e84f8"/>
<rect x="599.3" y="924.2" width="15.4" height="19.3" fill="#2e87f7"/>
<rect x="614.3" y="924.2" width="15.4" height="19.3" fill="#2d8cf3"/>
<rect x="629.3" y="924.2" width="15.4" height="19.3" fill="#2c8ef1"/>
<rect x="644.3" y="924.2" width="15.4" height="19.3" fill="#2d89f5"/>
<rect x="659.3" y="924.2" width="15.4" height="19.3" fill="#2f82fa"/>
<rect x="674.3" y="924.2" width="30.4" height="19.3" fill="#307ffb"/>
<rect x="704.3" y="924.2" width="15.4" height="19.3" fill="#2f82fa"/>
<rect x="719.3" y="924.2" width="15.4" height="19.3" fill="#2e87f7"/>
<rect x="734.3" y="924.2" width="30.4" height="19.3" fill="#2d89f5"/>
<rect x="764.4" y="924.2" width="15.4" height="19.3" fill="#2d8cf3"/>
<rect x="779.4" y="924.2" width="15.4" height="19.3" fill="#2d89f5"/>
<rect x="794.4" y="924.2" width="30.4" height="19.3" fill="#2e87f7"/>
<rect x="824.4" y="924.2" width="15.4" height="19.3" fill="#2d89f5"/>
<rect x="839.4" y="924.2" width="45.4" height="19.3" fill="#2c8ef1"/>
<rect x="884.4" y="924.2" width="15.4" height="19.3" fill="#2d8cf3"/>
<rect x="899.4" y="924.2" width="15.4" height="19.3" fill="#2d89f5"/>
<rect x="914.4" y="924.2" width="30.4" height="19.3" fill="#2d8cf3"/>
<rect x="179.2" y="943" width="60.4" height="19.3" fill="#2e84f8"/>
<rect x="239.2" y="943" width="15.4" height="19.3" fill="#2e87f7"/>
<rect x="254.2" y="943" width="15.4" height="19.3" fill="#2d8cf3"/>
<rect x="269.2" y="943" width="15.4" height="19.3" fill="#2c8ef1"/>
<rect x="284.2" y="943" width="15.4" height="19.3" fill="#2d8cf3"/>
<rect x="299.2" y="943" width="75.4" height="19.3" fill="#2d89f5"/>
<rect x="374.2" y="943" width="15.4" height="19.3" fill="#2e87f7"/>
<rect x="389.3" y="943" width="15.4" height="19.3" fill="#2e84f8"/>
<rect x="404.3" y="943" width="105.4" height="19.3" fill="#2f82fa"/>
<rect x="509.3" y="943" width="15.4" height="19.3" fill="#2e87f7"/>
<rect x="524.3" y="943" width="15.4" height="19.3" fill="#2d89f5"/>
<rect x="539.3" y="943" width="30.4" height="19.3" fill="#2d8cf3"/>
<rect x="569.3" y="943" width="15.4" height="19.3" fill="#2d89f5"/>
<rect x="584.3" y="943" width="15.4" height="19.3" fill="#2e87f7"/>
<rect x="599.3" y="943" width="30.4" height="19.3" fill="#2d89f5"/>
<rect x="629.3" y="943" width="15.4" height="19.3" fill="#2e84f8"/>
<rect x="644.3" y="943" width="15.4" height="19.3" fill="#2f82fa"/>
<rect x="659.3" y="943" width="15.4" height="19.3" fill="#317dfc"/>
<rect x="674.3" y="943" width="15.4" height="19.3" fill="#307ffb"/>
<rect x="689.3" y="943" width="15.4" height="19.3" fill="#2e84f8"/>
<rect x="704.3" y="943" width="15.4" height="19.3" fill="#2d89f5"/>
<rect x="719.3" y="943" width="75.4" height="19.3" fill="#2d8cf3"/>
<rect x="794.4" y="943" width="15.4" height="19.3" fill="#2e87f7"/>
<rect x="809.4" y="943" width="15.4" height="19.3" fill="#2f82fa"/>
<rect x="824.4" y="943" width="15.4" height="19.3" fill="#307ffb"/>
<rect x="839.4" y="943" width="15.4" height="19.3" fill="#2e84f8"/>
<rect x="854.4" y="943" width="15.4" height="19.3" fill="#2d89f5"/>
<rect x="869.4" y="943" width="30.4" height="19.3" fill="#2d8cf3"/>
<rect x="899.4" y="943" width="15.4" height="19.3" fill="#2d89f5"/>
<rect x="914.4" y="943" width="30.4" height="19.3" fill="#2e87f7"/>
<rect x="179.2" y="961.9" width="30.4" height="19.3" fill="#2e84f8"/>
<rect x="209.2" y="961.9" width="30.4" height="19.3" fill="#2f82fa"/>
<rect x="239.2" y="961.9" width="15.4" height="19.3" fill="#317dfc"/>
<rect x="254.2" y="961.9" width="15.4" height="19.3" fill="#307ffb"/>
<rect x="269.2" y="961.9" width="15.4" height="19.3" fill="#2e84f8"/>
<rect x="284.2" y="961.9" width="15.4" height="19.3" fill="#2c8ef1"/>
<rect x="299.2" y="961.9" width="15.4" height="19.3" fill="#2895ec"/>
<rect x="314.2" y="961.9" width="15.4" height="19.3" fill="#2a93ee"/>
<rect x="329.2" y="961.9" width="15.4" height="19.3" fill="#2d8cf3"/>
<rect x="344.2" y="961.9" width="30.4" height="19.3" fill="#2e84f8"/>
<rect x="374.2" y="961.9" width="15.4" height="19.3" fill="#2e87f7"/>
<rect x="389.3" y="961.9" width="30.4" height="19.3" fill="#2c8ef1"/>
<rect x="419.3" y="961.9" width="15.4" height="19.3" fill="#2d8cf3"/>
<rect x="434.3" y="961.9" width="15.4" height="19.3" fill="#2d89f5"/>
<rect x="449.3" y="961.9" width="15.4" height="19.3" fill="#2e87f7"/>
<rect x="464.3" y="961.9" width="45.4" height="19.3" fill="#2e84f8"/>
<rect x="509.3" y="961.9" width="15.4" height="19.3" fill="#2e87f7"/>
<rect x="524.3" y="961.9" width="15.4" height="19.3" fill="#2d89f5"/>
<rect x="539.3" y="961.9" width="45.4" height="19.3" fill="#2e87f7"/>
<rect x="584.3" y="961.9" width="15.4" height="19.3" fill="#2d89f5"/>
<rect x="599.3" y="961.9" width="30.4" height="19.3" fill="#2d8cf3"/>
<rect x="629.3" y="961.9" width="15.4" height="19.3" fill="#2d89f5"/>
<rect x="644.3" y="961.9" width="15.4" height="19.3" fill="#2e87f7"/>
<rect x="659.3" y="961.9" width="15.4" height="19.3" fill="#2e84f8"/>
<rect x="674.3" y="961.9" width="15.4" height="19.3" fill="#2e87f7"/>
<rect x="689.3" y="961.9" width="30.4" height="19.3" fill="#2d89f5"/>
<rect x="719.3" y="961.9" width="30.4" height="19.3" fill="#347afd"/>
<rect x="749.4" y="961.9" width="30.4" height="19.3" fill="#317dfc"/>
<rect x="779.4" y="961.9" width="30.4" height="19.3" fill="#307ffb"/>
<rect x="809.4" y="961.9" width="15.4" height="19.3" fill="#317dfc"/>
<rect x="824.4" y="961.9" width="30.4" height="19.3" fill="#3677fe"/>
<rect x="854.4" y="961.9" width="15.4" height="19.3" fill="#3974fe"/>
<rect x="869.4" y="961.9" width="15.4" height="19.3" fill="#2e87f7"/>
<rect x="884.4" y="961.9" width="15.4" height="19.3" fill="#2d89f5"/>
<rect x="899.4" y="961.9" width="15.4" height="19.3" fill="#2c8ef1"/>
<rect x="914.4" y="961.9" width="30.4" height="19.3" fill="#2a93ee"/>
<rect x="179.2" y="980.7" width="30.4" height="19.3" fill="#307ffb"/>
<rect x="209.2" y="980.7" width="15.4" height="19.3" fill="#2d89f5"/>
<rect x="224.2" y="980.7" width="30.4" height="19.3" fill="#2b90ef"/>
<rect x="254.2" y="980.7" width="15.4" height="19.3" fill="#2d8cf3"/>
<rect x="269.2" y="980.7" width="15.4" height="19.3" fill="#2e87f7"/>
<rect x="284.2" y="980.7" width="15.4" height="19.3" fill="#2e84f8"/>
<rect x="299.2" y="980.7" width="15.4" height="19.3" fill="#2f82fa"/>
<rect x="314.2" y="980.7" width="15.4" height="19.3" fill="#2e84f8"/>
<rect x="329.2" y="980.7" width="15.4" height="19.3" fill="#2e87f7"/>
<rect x="344.2" y="980.7" width="45.4" height="19.3" fill="#2d89f5"/>
<rect x="389.3" y="980.7" width="30.4" height="19.3" fill="#2e87f7"/>
<rect x="419.3" y="980.7" width="60.4" height="19.3" fill="#2e84f8"/>
<rect x="479.3" y="980.7" width="15.4" height="19.3" fill="#2e87f7"/>
<rect x="494.3" y="980.7" width="15.4" height="19.3" fill="#2d89f5"/>
<rect x="509.3" y="980.7" width="45.4" height="19.3" fill="#2d8cf3"/>
<rect x="554.3" y="980.7" width="15.4" height="19.3" fill="#2c8ef1"/>
<rect x="569.3" y="980.7" width="15.4" height="19.3" fill="#2b90ef"/>
<rect x="584.3" y="980.7" width="15.4" height="19.3" fill="#2c8ef1"/>
<rect x="599.3" y="980.7" width="15.4" height="19.3" fill="#2d89f5"/>
<rect x="614.3" y="980.7" width="30.4" height="19.3" fill="#2e84f8"/>
<rect x="644.3" y="980.7" width="15.4" height="19.3" fill="#2e87f7"/>
<rect x="659.3" y="980.7" width="15.4" height="19.3" fill="#2c8ef1"/>
<rect x="674.3" y="980.7" width="30.4" height="19.3" fill="#2699e9"/>
<rect x="704.3" y="980.7" width="15.4" height="19.3" fill="#2895ec"/>
<rect x="719.3" y="980.7" width="15.4" height="19.3" fill="#2d89f5"/>
<rect x="734.3" y="980.7" width="45.4" height="19.3" fill="#465ffb"/>
<rect x="779.4" y="980.7" width="15.4" height="19.3" fill="#475cfa"/>
<rect x="794.4" y="980.7" width="15.4" height="19.3" fill="#475af9"/>
<rect x="809.4" y="980.7" width="15.4" height="19.3" fill="#475cfa"/>
<rect x="824.4" y="980.7" width="15.4" height="19.3" fill="#4464fd"/>
<rect x="839.4" y="980.7" width="15.4" height="19.3" fill="#4367fd"/>
<rect x="854.4" y="980.7" width="15.4" height="19.3" fill="#2a93ee"/>
<rect x="869.4" y="980.7" width="15.4" height="19.3" fill="#2b90ef"/>
<rect x="884.4" y="980.7" width="60.4" height="19.3" fill="#2c8ef1"/>
<rect x="179.2" y="999.6" width="30.4" height="19.3" fill="#307ffb"/>
<rect x="209.2" y="999.6" width="15.4" height="19.3" fill="#2e84f8"/>
<rect x="224.2" y="999.6" width="45.4" height="19.3" fill="#2e87f7"/>
<rect x="269.2" y="999.6" width="15.4" height="19.3" fill="#2d89f5"/>
<rect x="284.2" y="999.6" width="30.4" height="19.3" fill="#2d8cf3"/>
<rect x="314.2" y="999.6" width="15.4" height="19.3" fill="#2d89f5"/>
<rect x="329.2" y="999.6" width="60.4" height="19.3" fill="#2e87f7"/>
<rect x="389.3" y="999.6" width="30.4" height="19.3" fill="#2e84f8"/>
<rect x="419.3" y="999.6" width="15.4" height="19.3" fill="#2f82fa"/>
<rect x="434.3" y="999.6" width="15.4" height="19.3" fill="#2e84f8"/>
<rect x="449.3" y="999.6" width="15.4" height="19.3" fill="#2e87f7"/>
<rect x="464.3" y="999.6" width="15.4" height="19.3" fill="#2d8cf3"/>
<rect x="479.3" y="999.6" width="15.4" height="19.3" fill="#2a93ee"/>
<rect x="494.3" y="999.6" width="30.4" height="19.3" fill="#2797eb"/>
<rect x="524.3" y="999.6" width="15.4" height="19.3" fill="#2a93ee"/>
<rect x="539.3" y="999.6" width="15.4" height="19.3" fill="#2c8ef1"/>
<rect x="554.3" y="999.6" width="15.4" height="19.3" fill="#2d8cf3"/>
<rect x="569.3" y="999.6" width="30.4" height="19.3" fill="#2c8ef1"/>
<rect x="599.3" y="999.6" width="15.4" height="19.3" fill="#3e6fff"/>
<rect x="614.3" y="999.6" width="15.4" height="19.3" fill="#406cfe"/>
<rect x="629.3" y="999.6" width="15.4" height="19.3" fill="#4269fe"/>
<rect x="644.3" y="999.6" width="15.4" height="19.3" fill="#4367fd"/>
<rect x="659.3" y="999.6" width="15.4" height="19.3" fill="#2e84f8"/>
<rect x="674.3" y="999.6" width="15.4" height="19.3" fill="#2a93ee"/>
<rect x="689.3" y="999.6" width="15.4" height="19.3" fill="#249ee6"/>
<rect x="704.3" y="999.6" width="15.4" height="19.3" fill="#2797eb"/>
<rect x="719.3" y="999.6" width="15.4" height="19.3" fill="#2e87f7"/>
<rect x="734.3" y="999.6" width="15.4" height="19.3" fill="#4757f7"/>
<rect x="749.4" y="999.6" width="30.4" height="19.3" fill="#4848ec"/>
<rect x="779.4" y="999.6" width="15.4" height="19.3" fill="#484bee"/>
<rect x="794.4" y="999.6" width="45.4" height="19.3" fill="#4757f7"/>
<rect x="839.4" y="999.6" width="15.4" height="19.3" fill="#475cfa"/>
<rect x="854.4" y="999.6" width="15.4" height="19.3" fill="#3c72ff"/>
<rect x="869.4" y="999.6" width="15.4" height="19.3" fill="#3974fe"/>
<rect x="884.4" y="999.6" width="15.4" height="19.3" fill="#3c72ff"/>
<rect x="899.4" y="999.6" width="15.4" height="19.3" fill="#3e6fff"/>
<rect x="914.4" y="999.6" width="30.4" height="19.3" fill="#4269fe"/>
<rect x="179.2" y="1018.5" width="30.4" height="19.3" fill="#2e84f8"/>
<rect x="209.2" y="1018.5" width="30.4" height="19.3" fill="#2e87f7"/>
<rect x="239.2" y="1018.5" width="30.4" height="19.3" fill="#2d8cf3"/>
<rect x="269.2" y="1018.5" width="15.4" height="19.3" fill="#2d89f5"/>
<rect x="284.2" y="1018.5" width="15.4" height="19.3" fill="#2e87f7"/>
<rect x="299.2" y="1018.5" width="15.4" height="19.3" fill="#2d89f5"/>
<rect x="314.2" y="1018.5" width="15.4" height="19.3" fill="#2d8cf3"/>
<rect x="329.2" y="1018.5" width="15.4" height="19.3" fill="#2b90ef"/>
<rect x="344.2" y="1018.5" width="15.4" height="19.3" fill="#2c8ef1"/>
<rect x="359.2" y="1018.5" width="15.4" height="19.3" fill="#2d89f5"/>
<rect x="374.2" y="1018.5" width="30.4" height="19.3" fill="#2e87f7"/>
<rect x="404.3" y="1018.5" width="15.4" height="19.3" fill="#2d89f5"/>
<rect x="419.3" y="1018.5" width="45.4" height="19.3" fill="#2e87f7"/>
<rect x="464.3" y="1018.5" width="15.4" height="19.3" fill="#2e84f8"/>
<rect x="479.3" y="1018.5" width="15.4" height="19.3" fill="#2f82fa"/>
<rect x="494.3" y="1018.5" width="15.4" height="19.3" fill="#2e84f8"/>
<rect x="509.3" y="1018.5" width="15.4" height="19.3" fill="#2e87f7"/>
<rect x="524.3" y="1018.5" width="30.4" height="19.3" fill="#2d89f5"/>
<rect x="554.3" y="1018.5" width="15.4" height="19.3" fill="#2e87f7"/>
<rect x="569.3" y="1018.5" width="15.4" height="19.3" fill="#2d89f5"/>
<rect x="584.3" y="1018.5" width="15.4" height="19.3" fill="#3974fe"/>
<rect x="599.3" y="1018.5" width="30.4" height="19.3" fill="#475af9"/>
<rect x="629.3" y="1018.5" width="15.4" height="19.3" fill="#4757f7"/>
<rect x="644.3" y="1018.5" width="15.4" height="19.3" fill="#4852f4"/>
<rect x="659.3" y="1018.5" width="15.4" height="19.3" fill="#406cfe"/>
<rect x="674.3" y="1018.5" width="15.4" height="19.3" fill="#2d89f5"/>
<rect x="689.3" y="1018.5" width="30.4" height="19.3" fill="#2d8cf3"/>
<rect x="719.3" y="1018.5" width="15.4" height="19.3" fill="#2e84f8"/>
<rect x="734.3" y="1018.5" width="15.4" height="19.3" fill="#475cfa"/>
<rect x="749.4" y="1018.5" width="15.4" height="19.3" fill="#4852f4"/>
<rect x="764.4" y="1018.5" width="30.4" height="19.3" fill="#4755f6"/>
<rect x="794.4" y="1018.5" width="15.4" height="19.3" fill="#475af9"/>
<rect x="809.4" y="1018.5" width="15.4" height="19.3" fill="#4755f6"/>
<rect x="824.4" y="1018.5" width="15.4" height="19.3" fill="#4850f2"/>
<rect x="839.4" y="1018.5" width="15.4" height="19.3" fill="#475cfa"/>
<rect x="854.4" y="1018.5" width="15.4" height="19.3" fill="#3e6fff"/>
<rect x="869.4" y="1018.5" width="15.4" height="19.3" fill="#3c72ff"/>
<rect x="884.4" y="1018.5" width="15.4" height="19.3" fill="#406cfe"/>
<rect x="899.4" y="1018.5" width="15.4" height="19.3" fill="#4367fd"/>
<rect x="914.4" y="1018.5" width="30.4" height="19.3" fill="#4562fc"/>
<rect x="179.2" y="1037.3" width="30.4" height="19.3" fill="#2e87f7"/>
<rect x="209.2" y="1037.3" width="30.4" height="19.3" fill="#2e84f8"/>
<rect x="239.2" y="1037.3" width="15.4" height="19.3" fill="#2e87f7"/>
<rect x="254.2" y="1037.3" width="15.4" height="19.3" fill="#2d89f5"/>
<rect x="269.2" y="1037.3" width="30.4" height="19.3" fill="#2d8cf3"/>
<rect x="299.2" y="1037.3" width="15.4" height="19.3" fill="#2d89f5"/>
<rect x="314.2" y="1037.3" width="15.4" height="19.3" fill="#2e84f8"/>
<rect x="329.2" y="1037.3" width="15.4" height="19.3" fill="#2e87f7"/>
<rect x="344.2" y="1037.3" width="15.4" height="19.3" fill="#2d8cf3"/>
<rect x="359.2" y="1037.3" width="15.4" height="19.3" fill="#2c8ef1"/>
<rect x="374.2" y="1037.3" width="15.4" height="19.3" fill="#2d89f5"/>
<rect x="389.3" y="1037.3" width="15.4" height="19.3" fill="#2e84f8"/>
<rect x="404.3" y="1037.3" width="15.4" height="19.3" fill="#2f82fa"/>
<rect x="419.3" y="1037.3" width="15.4" height="19.3" fill="#307ffb"/>
<rect x="434.3" y="1037.3" width="15.4" height="19.3" fill="#2e84f8"/>
<rect x="449.3" y="1037.3" width="15.4" height="19.3" fill="#2e87f7"/>
<rect x="464.3" y="1037.3" width="15.4" height="19.3" fill="#2d8cf3"/>
<rect x="479.3" y="1037.3" width="15.4" height="19.3" fill="#2d89f5"/>
<rect x="494.3" y="1037.3" width="15.4" height="19.3" fill="#2e84f8"/>
<rect x="509.3" y="1037.3" width="15.4" height="19.3" fill="#2f82fa"/>
<rect x="524.3" y="1037.3" width="30.4" height="19.3" fill="#2e84f8"/>
<rect x="554.3" y="1037.3" width="15.4" height="19.3" fill="#2f82fa"/>
<rect x="569.3" y="1037.3" width="15.4" height="19.3" fill="#2e84f8"/>
<rect x="584.3" y="1037.3" width="15.4" height="19.3" fill="#3c72ff"/>
<rect x="599.3" y="1037.3" width="15.4" height="19.3" fill="#475af9"/>
<rect x="614.3" y="1037.3" width="15.4" height="19.3" fill="#422fc2"/>
<rect x="629.3" y="1037.3" width="15.4" height="19.3" fill="#412ebd"/>
<rect x="644.3" y="1037.3" width="15.4" height="19.3" fill="#4757f7"/>
<rect x="659.3" y="1037.3" width="15.4" height="19.3" fill="#3677fe"/>
<rect x="674.3" y="1037.3" width="15.4" height="19.3" fill="#2797eb"/>
<rect x="689.3" y="1037.3" width="15.4" height="19.3" fill="#2699e9"/>
<rect x="704.3" y="1037.3" width="15.4" height="19.3" fill="#2797eb"/>
<rect x="719.3" y="1037.3" width="15.4" height="19.3" fill="#2d89f5"/>
<rect x="734.3" y="1037.3" width="15.4" height="19.3" fill="#4562fc"/>
<rect x="749.4" y="1037.3" width="30.4" height="19.3" fill="#4464fd"/>
<rect x="779.4" y="1037.3" width="15.4" height="19.3" fill="#4562fc"/>
<rect x="794.4" y="1037.3" width="15.4" height="19.3" fill="#4639da"/>
<rect x="809.4" y="1037.3" width="30.4" height="19.3" fill="#4435d1"/>
<rect x="839.4" y="1037.3" width="15.4" height="19.3" fill="#4537d6"/>
<rect x="854.4" y="1037.3" width="15.4" height="19.3" fill="#3677fe"/>
<rect x="869.4" y="1037.3" width="45.4" height="19.3" fill="#347afd"/>
<rect x="914.4" y="1037.3" width="30.4" height="19.3" fill="#3677fe"/>
<rect x="179.2" y="1056.2" width="30.4" height="19.3" fill="#2c8ef1"/>
<rect x="209.2" y="1056.2" width="15.4" height="19.3" fill="#2d8cf3"/>
<rect x="224.2" y="1056.2" width="30.4" height="19.3" fill="#2d89f5"/>
<rect x="254.2" y="1056.2" width="15.4" height="19.3" fill="#2e87f7"/>
<rect x="269.2" y="1056.2" width="30.4" height="19.3" fill="#2e84f8"/>
<rect x="299.2" y="1056.2" width="30.4" height="19.3" fill="#2e87f7"/>
<rect x="329.2" y="1056.2" width="30.4" height="19.3" fill="#2e84f8"/>
<rect x="359.2" y="1056.2" width="15.4" height="19.3" fill="#2e87f7"/>
<rect x="374.2" y="1056.2" width="60.4" height="19.3" fill="#2d8cf3"/>
<rect x="434.3" y="1056.2" width="45.4" height="19.3" fill="#2c8ef1"/>
<rect x="479.3" y="1056.2" width="45.4" height="19.3" fill="#2d8cf3"/>
<rect x="524.3" y="1056.2" width="15.4" height="19.3" fill="#2c8ef1"/>
<rect x="539.3" y="1056.2" width="15.4" height="19.3" fill="#2b90ef"/>
<rect x="554.3" y="1056.2" width="30.4" height="19.3" fill="#2a93ee"/>
<rect x="584.3" y="1056.2" width="15.4" height="19.3" fill="#347afd"/>
<rect x="599.3" y="1056.2" width="15.4" height="19.3" fill="#475af9"/>
<rect x="614.3" y="1056.2" width="30.4" height="19.3" fill="#3e26a8"/>
<rect x="644.3" y="1056.2" width="15.4" height="19.3" fill="#4852f4"/>
<rect x="659.3" y="1056.2" width="15.4" height="19.3" fill="#406cfe"/>
<rect x="674.3" y="1056.2" width="15.4" height="19.3" fill="#307ffb"/>
<rect x="689.3" y="1056.2" width="15.4" height="19.3" fill="#2e84f8"/>
<rect x="704.3" y="1056.2" width="15.4" height="19.3" fill="#2d89f5"/>
<rect x="719.3" y="1056.2" width="15.4" height="19.3" fill="#2d8cf3"/>
<rect x="734.3" y="1056.2" width="15.4" height="19.3" fill="#2d89f5"/>
<rect x="749.4" y="1056.2" width="15.4" height="19.3" fill="#2e87f7"/>
<rect x="764.4" y="1056.2" width="45.4" height="19.3" fill="#2e84f8"/>
<rect x="809.4" y="1056.2" width="45.4" height="19.3" fill="#2e87f7"/>
<rect x="854.4" y="1056.2" width="30.4" height="19.3" fill="#406cfe"/>
<rect x="884.4" y="1056.2" width="30.4" height="19.3" fill="#3e6fff"/>
<rect x="914.4" y="1056.2" width="30.4" height="19.3" fill="#3c72ff"/>
<rect x="179.2" y="1075.1" width="30.4" height="19.3" fill="#2f82fa"/>
<rect x="209.2" y="1075.1" width="15.4" height="19.3" fill="#2e84f8"/>
<rect x="224.2" y="1075.1" width="15.4" height="19.3" fill="#2e87f7"/>
<rect x="239.2" y="1075.1" width="15.4" height="19.3" fill="#2d89f5"/>
<rect x="254.2" y="1075.1" width="15.4" height="19.3" fill="#2c8ef1"/>
<rect x="269.2" y="1075.1" width="45.4" height="19.3" fill="#2d8cf3"/>
<rect x="314.2" y="1075.1" width="15.4" height="19.3" fill="#2b90ef"/>
<rect x="329.2" y="1075.1" width="15.4" height="19.3" fill="#2c8ef1"/>
<rect x="344.2" y="1075.1" width="15.4" height="19.3" fill="#2d8cf3"/>
<rect x="359.2" y="1075.1" width="15.4" height="19.3" fill="#2e87f7"/>
<rect x="374.2" y="1075.1" width="15.4" height="19.3" fill="#2e84f8"/>
<rect x="389.3" y="1075.1" width="15.4" height="19.3" fill="#2e87f7"/>
<rect x="404.3" y="1075.1" width="15.4" height="19.3" fill="#2e84f8"/>
<rect x="419.3" y="1075.1" width="15.4" height="19.3" fill="#2f82fa"/>
<rect x="434.3" y="1075.1" width="15.4" height="19.3" fill="#307ffb"/>
<rect x="449.3" y="1075.1" width="15.4" height="19.3" fill="#2f82fa"/>
<rect x="464.3" y="1075.1" width="15.4" height="19.3" fill="#2e84f8"/>
<rect x="479.3" y="1075.1" width="15.4" height="19.3" fill="#2d89f5"/>
<rect x="494.3" y="1075.1" width="15.4" height="19.3" fill="#2b90ef"/>
<rect x="509.3" y="1075.1" width="30.4" height="19.3" fill="#2a93ee"/>
<rect x="539.3" y="1075.1" width="15.4" height="19.3" fill="#2c8ef1"/>
<rect x="554.3" y="1075.1" width="30.4" height="19.3" fill="#2d89f5"/>
<rect x="584.3" y="1075.1" width="15.4" height="19.3" fill="#3677fe"/>
<rect x="599.3" y="1075.1" width="15.4" height="19.3" fill="#475af9"/>
<rect x="614.3" y="1075.1" width="15.4" height="19.3" fill="#4757f7"/>
<rect x="629.3" y="1075.1" width="30.4" height="19.3" fill="#4755f6"/>
<rect x="659.3" y="1075.1" width="45.4" height="19.3" fill="#3c72ff"/>
<rect x="704.3" y="1075.1" width="15.4" height="19.3" fill="#406cfe"/>
<rect x="719.3" y="1075.1" width="15.4" height="19.3" fill="#4269fe"/>
<rect x="734.3" y="1075.1" width="15.4" height="19.3" fill="#406cfe"/>
<rect x="749.4" y="1075.1" width="45.4" height="19.3" fill="#3c72ff"/>
<rect x="794.4" y="1075.1" width="15.4" height="19.3" fill="#406cfe"/>
<rect x="809.4" y="1075.1" width="15.4" height="19.3" fill="#2e84f8"/>
<rect x="824.4" y="1075.1" width="15.4" height="19.3" fill="#2e87f7"/>
<rect x="839.4" y="1075.1" width="30.4" height="19.3" fill="#2d89f5"/>
<rect x="869.4" y="1075.1" width="30.4" height="19.3" fill="#2e84f8"/>
<rect x="899.4" y="1075.1" width="45.4" height="19.3" fill="#2f82fa"/>
<rect x="179.2" y="1093.9" width="30.4" height="19.3" fill="#2d8cf3"/>
<rect x="209.2" y="1093.9" width="15.4" height="19.3" fill="#2e87f7"/>
<rect x="224.2" y="1093.9" width="15.4" height="19.3" fill="#307ffb"/>
<rect x="239.2" y="1093.9" width="15.4" height="19.3" fill="#347afd"/>
<rect x="254.2" y="1093.9" width="15.4" height="19.3" fill="#317dfc"/>
<rect x="269.2" y="1093.9" width="15.4" height="19.3" fill="#2f82fa"/>
<rect x="284.2" y="1093.9" width="15.4" height="19.3" fill="#2e87f7"/>
<rect x="299.2" y="1093.9" width="15.4" height="19.3" fill="#2e84f8"/>
<rect x="314.2" y="1093.9" width="15.4" height="19.3" fill="#2f82fa"/>
<rect x="329.2" y="1093.9" width="15.4" height="19.3" fill="#2e84f8"/>
<rect x="344.2" y="1093.9" width="15.4" height="19.3" fill="#2d8cf3"/>
<rect x="359.2" y="1093.9" width="30.4" height="19.3" fill="#2b90ef"/>
<rect x="389.3" y="1093.9" width="15.4" height="19.3" fill="#2c8ef1"/>
<rect x="404.3" y="1093.9" width="15.4" height="19.3" fill="#2d89f5"/>
<rect x="419.3" y="1093.9" width="60.4" height="19.3" fill="#2e84f8"/>
<rect x="479.3" y="1093.9" width="15.4" height="19.3" fill="#2e87f7"/>
<rect x="494.3" y="1093.9" width="15.4" height="19.3" fill="#2d89f5"/>
<rect x="509.3" y="1093.9" width="15.4" height="19.3" fill="#2c8ef1"/>
<rect x="524.3" y="1093.9" width="15.4" height="19.3" fill="#2b90ef"/>
<rect x="539.3" y="1093.9" width="15.4" height="19.3" fill="#2c8ef1"/>
<rect x="554.3" y="1093.9" width="15.4" height="19.3" fill="#2d8cf3"/>
<rect x="569.3" y="1093.9" width="15.4" height="19.3" fill="#2e87f7"/>
<rect x="584.3" y="1093.9" width="30.4" height="19.3" fill="#2e84f8"/>
<rect x="614.3" y="1093.9" width="15.4" height="19.3" fill="#4367fd"/>
<rect x="629.3" y="1093.9" width="15.4" height="19.3" fill="#4269fe"/>
<rect x="644.3" y="1093.9" width="15.4" height="19.3" fill="#406cfe"/>
<rect x="659.3" y="1093.9" width="30.4" height="19.3" fill="#3e6fff"/>
<rect x="689.3" y="1093.9" width="30.4" height="19.3" fill="#4757f7"/>
<rect x="719.3" y="1093.9" width="15.4" height="19.3" fill="#3c72ff"/>
<rect x="734.3" y="1093.9" width="30.4" height="19.3" fill="#3e6fff"/>
<rect x="764.4" y="1093.9" width="45.4" height="19.3" fill="#406cfe"/>
<rect x="809.4" y="1093.9" width="15.4" height="19.3" fill="#2d89f5"/>
<rect x="824.4" y="1093.9" width="30.4" height="19.3" fill="#2c8ef1"/>
<rect x="854.4" y="1093.9" width="30.4" height="19.3" fill="#2d8cf3"/>
<rect x="884.4" y="1093.9" width="15.4" height="19.3" fill="#2d89f5"/>
<rect x="899.4" y="1093.9" width="15.4" height="19.3" fill="#2d8cf3"/>
<rect x="914.4" y="1093.9" width="30.4" height="19.3" fill="#05b6ce"/>
<rect x="179.2" y="1112.8" width="30.4" height="19.3" fill="#2e84f8"/>
<rect x="209.2" y="1112.8" width="15.4" height="19.3" fill="#2d89f5"/>
<rect x="224.2" y="1112.8" width="30.4" height="19.3" fill="#2c8ef1"/>
<rect x="254.2" y="1112.8" width="15.4" height="19.3" fill="#2d8cf3"/>
<rect x="269.2" y="1112.8" width="30.4" height="19.3" fill="#2e87f7"/>
<rect x="299.2" y="1112.8" width="15.4" height="19.3" fill="#2d89f5"/>
<rect x="314.2" y="1112.8" width="45.4" height="19.3" fill="#2c8ef1"/>
<rect x="359.2" y="1112.8" width="30.4" height="19.3" fill="#2d8cf3"/>
<rect x="389.3" y="1112.8" width="15.4" height="19.3" fill="#2d89f5"/>
<rect x="404.3" y="1112.8" width="30.4" height="19.3" fill="#2e87f7"/>
<rect x="434.3" y="1112.8" width="15.4" height="19.3" fill="#2d8cf3"/>
<rect x="449.3" y="1112.8" width="15.4" height="19.3" fill="#2d89f5"/>
<rect x="464.3" y="1112.8" width="15.4" height="19.3" fill="#2e87f7"/>
<rect x="479.3" y="1112.8" width="15.4" height="19.3" fill="#2e84f8"/>
<rect x="494.3" y="1112.8" width="15.4" height="19.3" fill="#2f82fa"/>
<rect x="509.3" y="1112.8" width="15.4" height="19.3" fill="#2e84f8"/>
<rect x="524.3" y="1112.8" width="45.4" height="19.3" fill="#2e87f7"/>
<rect x="569.3" y="1112.8" width="15.4" height="19.3" fill="#2e84f8"/>
<rect x="584.3" y="1112.8" width="15.4" height="19.3" fill="#2d89f5"/>
<rect x="599.3" y="1112.8" width="15.4" height="19.3" fill="#2c8ef1"/>
<rect x="614.3" y="1112.8" width="15.4" height="19.3" fill="#2b90ef"/>
<rect x="629.3" y="1112.8" width="15.4" height="19.3" fill="#2c8ef1"/>
<rect x="644.3" y="1112.8" width="60.4" height="19.3" fill="#2d89f5"/>
<rect x="704.3" y="1112.8" width="15.4" height="19.3" fill="#2e87f7"/>
<rect x="719.3" y="1112.8" width="15.4" height="19.3" fill="#2e84f8"/>
<rect x="734.3" y="1112.8" width="15.4" height="19.3" fill="#2e87f7"/>
<rect x="749.4" y="1112.8" width="30.4" height="19.3" fill="#2d8cf3"/>
<rect x="779.4" y="1112.8" width="15.4" height="19.3" fill="#2d89f5"/>
<rect x="794.4" y="1112.8" width="60.4" height="19.3" fill="#2e84f8"/>
<rect x="854.4" y="1112.8" width="30.4" height="19.3" fill="#2e87f7"/>
<rect x="884.4" y="1112.8" width="30.4" height="19.3" fill="#2d89f5"/>
<rect x="914.4" y="1112.8" width="30.4" height="19.3" fill="#2c8ef1"/>
<rect x="179.2" y="1131.7" width="30.4" height="19.3" fill="#307ffb"/>
<rect x="209.2" y="1131.7" width="15.4" height="19.3" fill="#2e84f8"/>
<rect x="224.2" y="1131.7" width="30.4" height="19.3" fill="#2e87f7"/>
<rect x="254.2" y="1131.7" width="75.4" height="19.3" fill="#2e84f8"/>
<rect x="329.2" y="1131.7" width="15.4" height="19.3" fill="#2e87f7"/>
<rect x="344.2" y="1131.7" width="15.4" height="19.3" fill="#2e84f8"/>
<rect x="359.2" y="1131.7" width="15.4" height="19.3" fill="#2f82fa"/>
<rect x="374.2" y="1131.7" width="15.4" height="19.3" fill="#307ffb"/>
<rect x="389.3" y="1131.7" width="15.4" height="19.3" fill="#2f82fa"/>
<rect x="404.3" y="1131.7" width="15.4" height="19.3" fill="#2e87f7"/>
<rect x="419.3" y="1131.7" width="15.4" height="19.3" fill="#2d8cf3"/>
<rect x="434.3" y="1131.7" width="15.4" height="19.3" fill="#2c8ef1"/>
<rect x="449.3" y="1131.7" width="15.4" height="19.3" fill="#2b90ef"/>
<rect x="464.3" y="1131.7" width="45.4" height="19.3" fill="#2a93ee"/>
<rect x="509.3" y="1131.7" width="15.4" height="19.3" fill="#2b90ef"/>
<rect x="524.3" y="1131.7" width="15.4" height="19.3" fill="#2c8ef1"/>
<rect x="539.3" y="1131.7" width="30.4" height="19.3" fill="#2d8cf3"/>
<rect x="569.3" y="1131.7" width="15.4" height="19.3" fill="#2d89f5"/>
<rect x="584.3" y="1131.7" width="15.4" height="19.3" fill="#2e87f7"/>
<rect x="599.3" y="1131.7" width="30.4" height="19.3" fill="#2f82fa"/>
<rect x="629.3" y="1131.7" width="15.4" height="19.3" fill="#2e87f7"/>
<rect x="644.3" y="1131.7" width="15.4" height="19.3" fill="#2d89f5"/>
<rect x="659.3" y="1131.7" width="15.4" height="19.3" fill="#2d8cf3"/>
<rect x="674.3" y="1131.7" width="45.4" height="19.3" fill="#2c8ef1"/>
<rect x="719.3" y="1131.7" width="30.4" height="19.3" fill="#2d89f5"/>
<rect x="749.4" y="1131.7" width="15.4" height="19.3" fill="#2d8cf3"/>
<rect x="764.4" y="1131.7" width="15.4" height="19.3" fill="#2c8ef1"/>
<rect x="779.4" y="1131.7" width="30.4" height="19.3" fill="#2b90ef"/>
<rect x="809.4" y="1131.7" width="30.4" height="19.3" fill="#2c8ef1"/>
<rect x="839.4" y="1131.7" width="30.4" height="19.3" fill="#2d89f5"/>
<rect x="869.4" y="1131.7" width="15.4" height="19.3" fill="#2d8cf3"/>
<rect x="884.4" y="1131.7" width="30.4" height="19.3" fill="#2c8ef1"/>
<rect x="914.4" y="1131.7" width="30.4" height="19.3" fill="#2d89f5"/>
<rect x="179.2" y="1150.5" width="30.4" height="19.3" fill="#3974fe"/>
<rect x="209.2" y="1150.5" width="15.4" height="19.3" fill="#317dfc"/>
<rect x="224.2" y="1150.5" width="15.4" height="19.3" fill="#2e84f8"/>
<rect x="239.2" y="1150.5" width="15.4" height="19.3" fill="#2d8cf3"/>
<rect x="254.2" y="1150.5" width="30.4" height="19.3" fill="#2b90ef"/>
<rect x="284.2" y="1150.5" width="15.4" height="19.3" fill="#2d8cf3"/>
<rect x="299.2" y="1150.5" width="15.4" height="19.3" fill="#2e84f8"/>
<rect x="314.2" y="1150.5" width="15.4" height="19.3" fill="#2f82fa"/>
<rect x="329.2" y="1150.5" width="15.4" height="19.3" fill="#2e87f7"/>
<rect x="344.2" y="1150.5" width="15.4" height="19.3" fill="#2d8cf3"/>
<rect x="359.2" y="1150.5" width="15.4" height="19.3" fill="#2b90ef"/>
<rect x="374.2" y="1150.5" width="15.4" height="19.3" fill="#2c8ef1"/>
<rect x="389.3" y="1150.5" width="15.4" height="19.3" fill="#2d8cf3"/>
<rect x="404.3" y="1150.5" width="45.4" height="19.3" fill="#2d89f5"/>
<rect x="449.3" y="1150.5" width="60.4" height="19.3" fill="#2e87f7"/>
<rect x="509.3" y="1150.5" width="15.4" height="19.3" fill="#2d89f5"/>
<rect x="524.3" y="1150.5" width="30.4" height="19.3" fill="#2d8cf3"/>
<rect x="554.3" y="1150.5" width="15.4" height="19.3" fill="#2d89f5"/>
<rect x="569.3" y="1150.5" width="15.4" height="19.3" fill="#2f82fa"/>
<rect x="584.3" y="1150.5" width="15.4" height="19.3" fill="#347afd"/>
<rect x="599.3" y="1150.5" width="15.4" height="19.3" fill="#317dfc"/>
<rect x="614.3" y="1150.5" width="15.4" height="19.3" fill="#2e84f8"/>
<rect x="629.3" y="1150.5" width="15.4" height="19.3" fill="#2c8ef1"/>
<rect x="644.3" y="1150.5" width="15.4" height="19.3" fill="#2a93ee"/>
<rect x="659.3" y="1150.5" width="15.4" height="19.3" fill="#2895ec"/>
<rect x="674.3" y="1150.5" width="15.4" height="19.3" fill="#2a93ee"/>
<rect x="689.3" y="1150.5" width="15.4" height="19.3" fill="#2c8ef1"/>
<rect x="704.3" y="1150.5" width="15.4" height="19.3" fill="#2d8cf3"/>
<rect x="719.3" y="1150.5" width="45.4" height="19.3" fill="#2d89f5"/>
<rect x="764.4" y="1150.5" width="15.4" height="19.3" fill="#2e87f7"/>
<rect x="779.4" y="1150.5" width="15.4" height="19.3" fill="#2e84f8"/>
<rect x="794.4" y="1150.5" width="15.4" height="19.3" fill="#2e87f7"/>
<rect x="809.4" y="1150.5" width="15.4" height="19.3" fill="#2d89f5"/>
<rect x="824.4" y="1150.5" width="30.4" height="19.3" fill="#2d8cf3"/>
<rect x="854.4" y="1150.5" width="15.4" height="19.3" fill="#2d89f5"/>
<rect x="869.4" y="1150.5" width="45.4" height="19.3" fill="#2e87f7"/>
<rect x="914.4" y="1150.5" width="30.4" height="19.3" fill="#2d89f5"/>
<rect x="179.2" y="1169.4" width="45.4" height="19.3" fill="#2e87f7"/>
<rect x="224.2" y="1169.4" width="30.4" height="19.3" fill="#2e84f8"/>
<rect x="254.2" y="1169.4" width="15.4" height="19.3" fill="#2d89f5"/>
<rect x="269.2" y="1169.4" width="15.4" height="19.3" fill="#2c8ef1"/>
<rect x="284.2" y="1169.4" width="15.4" height="19.3" fill="#2b90ef"/>
<rect x="299.2" y="1169.4" width="30.4" height="19.3" fill="#2c8ef1"/>
<rect x="329.2" y="1169.4" width="15.4" height="19.3" fill="#2d8cf3"/>
<rect x="344.2" y="1169.4" width="15.4" height="19.3" fill="#2d89f5"/>
<rect x="359.2" y="1169.4" width="15.4" height="19.3" fill="#2e84f8"/>
<rect x="374.2" y="1169.4" width="15.4" height="19.3" fill="#2e87f7"/>
<rect x="389.3" y="1169.4" width="15.4" height="19.3" fill="#2d89f5"/>
<rect x="404.3" y="1169.4" width="15.4" height="19.3" fill="#2c8ef1"/>
<rect x="419.3" y="1169.4" width="15.4" height="19.3" fill="#2d8cf3"/>
<rect x="434.3" y="1169.4" width="15.4" height="19.3" fill="#2d89f5"/>
<rect x="449.3" y="1169.4" width="15.4" height="19.3" fill="#2e84f8"/>
<rect x="464.3" y="1169.4" width="30.4" height="19.3" fill="#2e87f7"/>
<rect x="494.3" y="1169.4" width="45.4" height="19.3" fill="#2d89f5"/>
<rect x="539.3" y="1169.4" width="15.4" height="19.3" fill="#2e87f7"/>
<rect x="554.3" y="1169.4" width="15.4" height="19.3" fill="#2e84f8"/>
<rect x="569.3" y="1169.4" width="15.4" height="19.3" fill="#2e87f7"/>
<rect x="584.3" y="1169.4" width="15.4" height="19.3" fill="#2d8cf3"/>
<rect x="599.3" y="1169.4" width="30.4" height="19.3" fill="#2b90ef"/>
<rect x="629.3" y="1169.4" width="15.4" height="19.3" fill="#2d8cf3"/>
<rect x="644.3" y="1169.4" width="45.4" height="19.3" fill="#2e84f8"/>
<rect x="689.3" y="1169.4" width="15.4" height="19.3" fill="#2e87f7"/>
<rect x="704.3" y="1169.4" width="60.4" height="19.3" fill="#2d89f5"/>
<rect x="764.4" y="1169.4" width="45.4" height="19.3" fill="#2d8cf3"/>
<rect x="809.4" y="1169.4" width="45.4" height="19.3" fill="#2d89f5"/>
<rect x="854.4" y="1169.4" width="30.4" height="19.3" fill="#2e87f7"/>
<rect x="884.4" y="1169.4" width="15.4" height="19.3" fill="#2e84f8"/>
<rect x="899.4" y="1169.4" width="45.4" height="19.3" fill="#2e87f7"/>
<rect x="179.2" y="1188.2" width="30.4" height="19.3" fill="#09b4d1"/>
<rect x="209.2" y="1188.2" width="15.4" height="19.3" fill="#2e87f7"/>
<rect x="224.2" y="1188.2" width="30.4" height="19.3" fill="#2e84f8"/>
<rect x="254.2" y="1188.2" width="15.4" height="19.3" fill="#2d89f5"/>
<rect x="269.2" y="1188.2" width="30.4" height="19.3" fill="#2d8cf3"/>
<rect x="299.2" y="1188.2" width="30.4" height="19.3" fill="#2d89f5"/>
<rect x="329.2" y="1188.2" width="75.4" height="19.3" fill="#2d8cf3"/>
<rect x="404.3" y="1188.2" width="15.4" height="19.3" fill="#2d89f5"/>
<rect x="419.3" y="1188.2" width="15.4" height="19.3" fill="#2e87f7"/>
<rect x="434.3" y="1188.2" width="15.4" height="19.3" fill="#2e84f8"/>
<rect x="449.3" y="1188.2" width="45.4" height="19.3" fill="#2f82fa"/>
<rect x="494.3" y="1188.2" width="15.4" height="19.3" fill="#2e84f8"/>
<rect x="509.3" y="1188.2" width="45.4" height="19.3" fill="#2e87f7"/>
<rect x="554.3" y="1188.2" width="15.4" height="19.3" fill="#2d89f5"/>
<rect x="569.3" y="1188.2" width="15.4" height="19.3" fill="#2d8cf3"/>
<rect x="584.3" y="1188.2" width="15.4" height="19.3" fill="#2c8ef1"/>
<rect x="599.3" y="1188.2" width="15.4" height="19.3" fill="#2d89f5"/>
<rect x="614.3" y="1188.2" width="15.4" height="19.3" fill="#2e87f7"/>
<rect x="629.3" y="1188.2" width="15.4" height="19.3" fill="#2e84f8"/>
<rect x="644.3" y="1188.2" width="15.4" height="19.3" fill="#2e87f7"/>
<rect x="659.3" y="1188.2" width="15.4" height="19.3" fill="#2d89f5"/>
<rect x="674.3" y="1188.2" width="15.4" height="19.3" fill="#2d8cf3"/>
<rect x="689.3" y="1188.2" width="15.4" height="19.3" fill="#2c8ef1"/>
<rect x="704.3" y="1188.2" width="15.4" height="19.3" fill="#2d8cf3"/>
<rect x="719.3" y="1188.2" width="15.4" height="19.3" fill="#2d89f5"/>
<rect x="734.3" y="1188.2" width="15.4" height="19.3" fill="#2e87f7"/>
<rect x="749.4" y="1188.2" width="15.4" height="19.3" fill="#2e84f8"/>
<rect x="764.4" y="1188.2" width="15.4" height="19.3" fill="#2e87f7"/>
<rect x="779.4" y="1188.2" width="15.4" height="19.3" fill="#2d89f5"/>
<rect x="794.4" y="1188.2" width="15.4" height="19.3" fill="#2c8ef1"/>
<rect x="809.4" y="1188.2" width="15.4" height="19.3" fill="#2b90ef"/>
<rect x="824.4" y="1188.2" width="15.4" height="19.3" fill="#2c8ef1"/>
<rect x="839.4" y="1188.2" width="30.4" height="19.3" fill="#2d89f5"/>
<rect x="869.4" y="1188.2" width="15.4" height="19.3" fill="#2c8ef1"/>
<rect x="884.4" y="1188.2" width="15.4" height="19.3" fill="#2b90ef"/>
<rect x="899.4" y="1188.2" width="15.4" height="19.3" fill="#2a93ee"/>
<rect x="914.4" y="1188.2" width="30.4" height="19.3" fill="#2895ec"/>
<rect x="179.2" y="1207.1" width="45.4" height="19.3" fill="#2e84f8"/>
<rect x="224.2" y="1207.1" width="15.4" height="19.3" fill="#2e87f7"/>
<rect x="239.2" y="1207.1" width="15.4" height="19.3" fill="#2d8cf3"/>
<rect x="254.2" y="1207.1" width="15.4" height="19.3" fill="#2c8ef1"/>
<rect x="269.2" y="1207.1" width="30.4" height="19.3" fill="#2d8cf3"/>
<rect x="299.2" y="1207.1" width="15.4" height="19.3" fill="#2d89f5"/>
<rect x="314.2" y="1207.1" width="15.4" height="19.3" fill="#2e87f7"/>
<rect x="329.2" y="1207.1" width="30.4" height="19.3" fill="#2e84f8"/>
<rect x="359.2" y="1207.1" width="15.4" height="19.3" fill="#2e87f7"/>
<rect x="374.2" y="1207.1" width="15.4" height="19.3" fill="#2d8cf3"/>
<rect x="389.3" y="1207.1" width="15.4" height="19.3" fill="#2c8ef1"/>
<rect x="404.3" y="1207.1" width="15.4" height="19.3" fill="#2a93ee"/>
<rect x="419.3" y="1207.1" width="15.4" height="19.3" fill="#2895ec"/>
<rect x="434.3" y="1207.1" width="15.4" height="19.3" fill="#2797eb"/>
<rect x="449.3" y="1207.1" width="15.4" height="19.3" fill="#2895ec"/>
<rect x="464.3" y="1207.1" width="15.4" height="19.3" fill="#2b90ef"/>
<rect x="479.3" y="1207.1" width="15.4" height="19.3" fill="#2d89f5"/>
<rect x="494.3" y="1207.1" width="15.4" height="19.3" fill="#2e84f8"/>
<rect x="509.3" y="1207.1" width="15.4" height="19.3" fill="#2e87f7"/>
<rect x="524.3" y="1207.1" width="15.4" height="19.3" fill="#2d89f5"/>
<rect x="539.3" y="1207.1" width="15.4" height="19.3" fill="#2d8cf3"/>
<rect x="554.3" y="1207.1" width="45.4" height="19.3" fill="#2d89f5"/>
<rect x="599.3" y="1207.1" width="15.4" height="19.3" fill="#2c8ef1"/>
<rect x="614.3" y="1207.1" width="75.4" height="19.3" fill="#2b90ef"/>
<rect x="689.3" y="1207.1" width="15.4" height="19.3" fill="#2d8cf3"/>
<rect x="704.3" y="1207.1" width="15.4" height="19.3" fill="#2d89f5"/>
<rect x="719.3" y="1207.1" width="15.4" height="19.3" fill="#2e87f7"/>
<rect x="734.3" y="1207.1" width="15.4" height="19.3" fill="#2d89f5"/>
<rect x="749.4" y="1207.1" width="15.4" height="19.3" fill="#2c8ef1"/>
<rect x="764.4" y="1207.1" width="30.4" height="19.3" fill="#2b90ef"/>
<rect x="794.4" y="1207.1" width="15.4" height="19.3" fill="#2d8cf3"/>
<rect x="809.4" y="1207.1" width="15.4" height="19.3" fill="#2e87f7"/>
<rect x="824.4" y="1207.1" width="15.4" height="19.3" fill="#2f82fa"/>
<rect x="839.4" y="1207.1" width="30.4" height="19.3" fill="#307ffb"/>
<rect x="869.4" y="1207.1" width="15.4" height="19.3" fill="#2e84f8"/>
<rect x="884.4" y="1207.1" width="15.4" height="19.3" fill="#2e87f7"/>
<rect x="899.4" y="1207.1" width="45.4" height="19.3" fill="#2d89f5"/>
<rect x="179.2" y="1226" width="30.4" height="19.3" fill="#2c8ef1"/>
<rect x="209.2" y="1226" width="15.4" height="19.3" fill="#2b90ef"/>
<rect x="224.2" y="1226" width="15.4" height="19.3" fill="#2c8ef1"/>
<rect x="239.2" y="1226" width="15.4" height="19.3" fill="#2d8cf3"/>
<rect x="254.2" y="1226" width="30.4" height="19.3" fill="#2e87f7"/>
<rect x="284.2" y="1226" width="60.4" height="19.3" fill="#2e84f8"/>
<rect x="344.2" y="1226" width="45.4" height="19.3" fill="#2e87f7"/>
<rect x="389.3" y="1226" width="30.4" height="19.3" fill="#2d89f5"/>
<rect x="419.3" y="1226" width="15.4" height="19.3" fill="#2e87f7"/>
<rect x="434.3" y="1226" width="15.4" height="19.3" fill="#2e84f8"/>
<rect x="449.3" y="1226" width="45.4" height="19.3" fill="#2f82fa"/>
<rect x="494.3" y="1226" width="15.4" height="19.3" fill="#317dfc"/>
<rect x="509.3" y="1226" width="15.4" height="19.3" fill="#347afd"/>
<rect x="524.3" y="1226" width="15.4" height="19.3" fill="#317dfc"/>
<rect x="539.3" y="1226" width="15.4" height="19.3" fill="#2f82fa"/>
<rect x="554.3" y="1226" width="30.4" height="19.3" fill="#2e84f8"/>
<rect x="584.3" y="1226" width="30.4" height="19.3" fill="#2f82fa"/>
<rect x="614.3" y="1226" width="30.4" height="19.3" fill="#307ffb"/>
<rect x="644.3" y="1226" width="15.4" height="19.3" fill="#317dfc"/>
<rect x="659.3" y="1226" width="30.4" height="19.3" fill="#2f82fa"/>
<rect x="689.3" y="1226" width="15.4" height="19.3" fill="#2e87f7"/>
<rect x="704.3" y="1226" width="15.4" height="19.3" fill="#2d89f5"/>
<rect x="719.3" y="1226" width="15.4" height="19.3" fill="#2e87f7"/>
<rect x="734.3" y="1226" width="15.4" height="19.3" fill="#2e84f8"/>
<rect x="749.4" y="1226" width="30.4" height="19.3" fill="#307ffb"/>
<rect x="779.4" y="1226" width="15.4" height="19.3" fill="#2f82fa"/>
<rect x="794.4" y="1226" width="30.4" height="19.3" fill="#2e84f8"/>
<rect x="824.4" y="1226" width="15.4" height="19.3" fill="#2e87f7"/>
<rect x="839.4" y="1226" width="15.4" height="19.3" fill="#2d89f5"/>
<rect x="854.4" y="1226" width="15.4" height="19.3" fill="#2d8cf3"/>
<rect x="869.4" y="1226" width="30.4" height="19.3" fill="#2d89f5"/>
<rect x="899.4" y="1226" width="15.4" height="19.3" fill="#2d8cf3"/>
<rect x="914.4" y="1226" width="30.4" height="19.3" fill="#2b90ef"/>
<rect x="179.2" y="1244.8" width="30.4" height="19.3" fill="#2d89f5"/>
<rect x="209.2" y="1244.8" width="30.4" height="19.3" fill="#2e87f7"/>
<rect x="239.2" y="1244.8" width="15.4" height="19.3" fill="#2d89f5"/>
<rect x="254.2" y="1244.8" width="15.4" height="19.3" fill="#2d8cf3"/>
<rect x="269.2" y="1244.8" width="30.4" height="19.3" fill="#2c8ef1"/>
<rect x="299.2" y="1244.8" width="15.4" height="19.3" fill="#2d8cf3"/>
<rect x="314.2" y="1244.8" width="15.4" height="19.3" fill="#2e84f8"/>
<rect x="329.2" y="1244.8" width="15.4" height="19.3" fill="#307ffb"/>
<rect x="344.2" y="1244.8" width="15.4" height="19.3" fill="#317dfc"/>
<rect x="359.2" y="1244.8" width="15.4" height="19.3" fill="#2f82fa"/>
<rect x="374.2" y="1244.8" width="15.4" height="19.3" fill="#2d89f5"/>
<rect x="389.3" y="1244.8" width="15.4" height="19.3" fill="#2d8cf3"/>
<rect x="404.3" y="1244.8" width="15.4" height="19.3" fill="#2d89f5"/>
<rect x="419.3" y="1244.8" width="30.4" height="19.3" fill="#2e87f7"/>
<rect x="449.3" y="1244.8" width="15.4" height="19.3" fill="#2d8cf3"/>
<rect x="464.3" y="1244.8" width="30.4" height="19.3" fill="#2b90ef"/>
<rect x="494.3" y="1244.8" width="15.4" height="19.3" fill="#2c8ef1"/>
<rect x="509.3" y="1244.8" width="105.4" height="19.3" fill="#2d8cf3"/>
<rect x="614.3" y="1244.8" width="45.4" height="19.3" fill="#2e87f7"/>
<rect x="659.3" y="1244.8" width="15.4" height="19.3" fill="#2d89f5"/>
<rect x="674.3" y="1244.8" width="45.4" height="19.3" fill="#2c8ef1"/>
<rect x="719.3" y="1244.8" width="45.4" height="19.3" fill="#2b90ef"/>
<rect x="764.4" y="1244.8" width="15.4" height="19.3" fill="#2d8cf3"/>
<rect x="779.4" y="1244.8" width="30.4" height="19.3" fill="#2e87f7"/>
<rect x="809.4" y="1244.8" width="15.4" height="19.3" fill="#2d8cf3"/>
<rect x="824.4" y="1244.8" width="30.4" height="19.3" fill="#2c8ef1"/>
<rect x="854.4" y="1244.8" width="15.4" height="19.3" fill="#2d8cf3"/>
<rect x="869.4" y="1244.8" width="75.4" height="19.3" fill="#2e87f7"/>
<rect x="179.2" y="1263.7" width="30.4" height="19.3" fill="#2a93ee"/>
<rect x="209.2" y="1263.7" width="30.4" height="19.3" fill="#2d8cf3"/>
<rect x="239.2" y="1263.7" width="15.4" height="19.3" fill="#2c8ef1"/>
<rect x="254.2" y="1263.7" width="30.4" height="19.3" fill="#2a93ee"/>
<rect x="284.2" y="1263.7" width="15.4" height="19.3" fill="#2b90ef"/>
<rect x="299.2" y="1263.7" width="15.4" height="19.3" fill="#2d8cf3"/>
<rect x="314.2" y="1263.7" width="45.4" height="19.3" fill="#2d89f5"/>
<rect x="359.2" y="1263.7" width="15.4" height="19.3" fill="#2e87f7"/>
<rect x="374.2" y="1263.7" width="15.4" height="19.3" fill="#2e84f8"/>
<rect x="389.3" y="1263.7" width="15.4" height="19.3" fill="#2f82fa"/>
<rect x="404.3" y="1263.7" width="30.4" height="19.3" fill="#307ffb"/>
<rect x="434.3" y="1263.7" width="15.4" height="19.3" fill="#2f82fa"/>
<rect x="449.3" y="1263.7" width="15.4" height="19.3" fill="#2e87f7"/>
<rect x="464.3" y="1263.7" width="30.4" height="19.3" fill="#2d8cf3"/>
<rect x="494.3" y="1263.7" width="45.4" height="19.3" fill="#2d89f5"/>
<rect x="539.3" y="1263.7" width="15.4" height="19.3" fill="#2e87f7"/>
<rect x="554.3" y="1263.7" width="15.4" height="19.3" fill="#2e84f8"/>
<rect x="569.3" y="1263.7" width="15.4" height="19.3" fill="#2f82fa"/>
<rect x="584.3" y="1263.7" width="15.4" height="19.3" fill="#2e84f8"/>
<rect x="599.3" y="1263.7" width="15.4" height="19.3" fill="#2d89f5"/>
<rect x="614.3" y="1263.7" width="60.4" height="19.3" fill="#2d8cf3"/>
<rect x="674.3" y="1263.7" width="15.4" height="19.3" fill="#2c8ef1"/>
<rect x="689.3" y="1263.7" width="15.4" height="19.3" fill="#2d8cf3"/>
<rect x="704.3" y="1263.7" width="15.4" height="19.3" fill="#2c8ef1"/>
<rect x="719.3" y="1263.7" width="15.4" height="19.3" fill="#2a93ee"/>
<rect x="734.3" y="1263.7" width="15.4" height="19.3" fill="#2895ec"/>
<rect x="749.4" y="1263.7" width="15.4" height="19.3" fill="#2a93ee"/>
<rect x="764.4" y="1263.7" width="15.4" height="19.3" fill="#2d8cf3"/>
<rect x="779.4" y="1263.7" width="15.4" height="19.3" fill="#2d89f5"/>
<rect x="794.4" y="1263.7" width="30.4" height="19.3" fill="#2e87f7"/>
<rect x="824.4" y="1263.7" width="15.4" height="19.3" fill="#2e84f8"/>
<rect x="839.4" y="1263.7" width="15.4" height="19.3" fill="#2e87f7"/>
<rect x="854.4" y="1263.7" width="15.4" height="19.3" fill="#2d8cf3"/>
<rect x="869.4" y="1263.7" width="30.4" height="19.3" fill="#2b90ef"/>
<rect x="899.4" y="1263.7" width="15.4" height="19.3" fill="#2c8ef1"/>
<rect x="914.4" y="1263.7" width="30.4" height="19.3" fill="#2d8cf3"/>
<rect x="179.2" y="1282.6" width="30.4" height="19.3" fill="#2e84f8"/>
<rect x="209.2" y="1282.6" width="15.4" height="19.3" fill="#2d89f5"/>
<rect x="224.2" y="1282.6" width="15.4" height="19.3" fill="#2b90ef"/>
<rect x="239.2" y="1282.6" width="30.4" height="19.3" fill="#2a93ee"/>
<rect x="269.2" y="1282.6" width="15.4" height="19.3" fill="#2c8ef1"/>
<rect x="284.2" y="1282.6" width="15.4" height="19.3" fill="#2d89f5"/>
<rect x="299.2" y="1282.6" width="15.4" height="19.3" fill="#2f82fa"/>
<rect x="314.2" y="1282.6" width="30.4" height="19.3" fill="#2e84f8"/>
<rect x="344.2" y="1282.6" width="15.4" height="19.3" fill="#2d89f5"/>
<rect x="359.2" y="1282.6" width="15.4" height="19.3" fill="#2e87f7"/>
<rect x="374.2" y="1282.6" width="15.4" height="19.3" fill="#2e84f8"/>
<rect x="389.3" y="1282.6" width="15.4" height="19.3" fill="#2f82fa"/>
<rect x="404.3" y="1282.6" width="15.4" height="19.3" fill="#2e84f8"/>
<rect x="419.3" y="1282.6" width="15.4" height="19.3" fill="#2e87f7"/>
<rect x="434.3" y="1282.6" width="15.4" height="19.3" fill="#2d89f5"/>
<rect x="449.3" y="1282.6" width="15.4" height="19.3" fill="#2e87f7"/>
<rect x="464.3" y="1282.6" width="15.4" height="19.3" fill="#2f82fa"/>
<rect x="479.3" y="1282.6" width="30.4" height="19.3" fill="#307ffb"/>
<rect x="509.3" y="1282.6" width="15.4" height="19.3" fill="#2f82fa"/>
<rect x="524.3" y="1282.6" width="15.4" height="19.3" fill="#2e84f8"/>
<rect x="539.3" y="1282.6" width="45.4" height="19.3" fill="#2e87f7"/>
<rect x="584.3" y="1282.6" width="15.4" height="19.3" fill="#2e84f8"/>
<rect x="599.3" y="1282.6" width="30.4" height="19.3" fill="#2f82fa"/>
<rect x="629.3" y="1282.6" width="15.4" height="19.3" fill="#2e84f8"/>
<rect x="644.3" y="1282.6" width="45.4" height="19.3" fill="#2e87f7"/>
<rect x="689.3" y="1282.6" width="15.4" height="19.3" fill="#2d89f5"/>
<rect x="704.3" y="1282.6" width="15.4" height="19.3" fill="#2d8cf3"/>
<rect x="719.3" y="1282.6" width="30.4" height="19.3" fill="#2c8ef1"/>
<rect x="749.4" y="1282.6" width="15.4" height="19.3" fill="#2d89f5"/>
<rect x="764.4" y="1282.6" width="15.4" height="19.3" fill="#2e87f7"/>
<rect x="779.4" y="1282.6" width="15.4" height="19.3" fill="#307ffb"/>
<rect x="794.4" y="1282.6" width="30.4" height="19.3" fill="#317dfc"/>
<rect x="824.4" y="1282.6" width="15.4" height="19.3" fill="#2f82fa"/>
<rect x="839.4" y="1282.6" width="15.4" height="19.3" fill="#2e87f7"/>
<rect x="854.4" y="1282.6" width="15.4" height="19.3" fill="#2d8cf3"/>
<rect x="869.4" y="1282.6" width="15.4" height="19.3" fill="#2c8ef1"/>
<rect x="884.4" y="1282.6" width="15.4" height="19.3" fill="#2d8cf3"/>
<rect x="899.4" y="1282.6" width="45.4" height="19.3" fill="#2d89f5"/>
<rect x="179.2" y="1301.4" width="30.4" height="19.3" fill="#2c8ef1"/>
<rect x="209.2" y="1301.4" width="30.4" height="19.3" fill="#2a93ee"/>
<rect x="239.2" y="1301.4" width="15.4" height="19.3" fill="#2c8ef1"/>
<rect x="254.2" y="1301.4" width="15.4" height="19.3" fill="#2d89f5"/>
<rect x="269.2" y="1301.4" width="15.4" height="19.3" fill="#2e84f8"/>
<rect x="284.2" y="1301.4" width="15.4" height="19.3" fill="#2e87f7"/>
<rect x="299.2" y="1301.4" width="15.4" height="19.3" fill="#2d89f5"/>
<rect x="314.2" y="1301.4" width="15.4" height="19.3" fill="#2d8cf3"/>
<rect x="329.2" y="1301.4" width="30.4" height="19.3" fill="#2c8ef1"/>
<rect x="359.2" y="1301.4" width="15.4" height="19.3" fill="#2d89f5"/>
<rect x="374.2" y="1301.4" width="30.4" height="19.3" fill="#2e84f8"/>
<rect x="404.3" y="1301.4" width="15.4" height="19.3" fill="#2d89f5"/>
<rect x="419.3" y="1301.4" width="15.4" height="19.3" fill="#2b90ef"/>
<rect x="434.3" y="1301.4" width="30.4" height="19.3" fill="#2a93ee"/>
<rect x="464.3" y="1301.4" width="60.4" height="19.3" fill="#2b90ef"/>
<rect x="524.3" y="1301.4" width="15.4" height="19.3" fill="#2d8cf3"/>
<rect x="539.3" y="1301.4" width="45.4" height="19.3" fill="#2d89f5"/>
<rect x="584.3" y="1301.4" width="15.4" height="19.3" fill="#2d8cf3"/>
<rect x="599.3" y="1301.4" width="30.4" height="19.3" fill="#2d89f5"/>
<rect x="629.3" y="1301.4" width="15.4" height="19.3" fill="#2e87f7"/>
<rect x="644.3" y="1301.4" width="15.4" height="19.3" fill="#2e84f8"/>
<rect x="659.3" y="1301.4" width="60.4" height="19.3" fill="#2e87f7"/>
<rect x="719.3" y="1301.4" width="15.4" height="19.3" fill="#2d89f5"/>
<rect x="734.3" y="1301.4" width="30.4" height="19.3" fill="#2d8cf3"/>
<rect x="764.4" y="1301.4" width="15.4" height="19.3" fill="#2d89f5"/>
<rect x="779.4" y="1301.4" width="45.4" height="19.3" fill="#2e87f7"/>
<rect x="824.4" y="1301.4" width="15.4" height="19.3" fill="#2d8cf3"/>
<rect x="839.4" y="1301.4" width="15.4" height="19.3" fill="#2b90ef"/>
<rect x="854.4" y="1301.4" width="15.4" height="19.3" fill="#2895ec"/>
<rect x="869.4" y="1301.4" width="15.4" height="19.3" fill="#2b90ef"/>
<rect x="884.4" y="1301.4" width="15.4" height="19.3" fill="#2d8cf3"/>
<rect x="899.4" y="1301.4" width="15.4" height="19.3" fill="#2e84f8"/>
<rect x="914.4" y="1301.4" width="30.4" height="19.3" fill="#2e87f7"/>
<rect x="179.2" y="1320.3" width="30.4" height="19.3" fill="#2d8cf3"/>
<rect x="209.2" y="1320.3" width="15.4" height="19.3" fill="#2e87f7"/>
<rect x="224.2" y="1320.3" width="30.4" height="19.3" fill="#2f82fa"/>
<rect x="254.2" y="1320.3" width="15.4" height="19.3" fill="#2e84f8"/>
<rect x="269.2" y="1320.3" width="15.4" height="19.3" fill="#2d89f5"/>
<rect x="284.2" y="1320.3" width="60.4" height="19.3" fill="#2c8ef1"/>
<rect x="344.2" y="1320.3" width="15.4" height="19.3" fill="#2d8cf3"/>
<rect x="359.2" y="1320.3" width="15.4" height="19.3" fill="#2d89f5"/>
<rect x="374.2" y="1320.3" width="15.4" height="19.3" fill="#2e87f7"/>
<rect x="389.3" y="1320.3" width="15.4" height="19.3" fill="#2d89f5"/>
<rect x="404.3" y="1320.3" width="30.4" height="19.3" fill="#2d8cf3"/>
<rect x="434.3" y="1320.3" width="15.4" height="19.3" fill="#2d89f5"/>
<rect x="449.3" y="1320.3" width="15.4" height="19.3" fill="#2e87f7"/>
<rect x="464.3" y="1320.3" width="30.4" height="19.3" fill="#2e84f8"/>
<rect x="494.3" y="1320.3" width="15.4" height="19.3" fill="#2e87f7"/>
<rect x="509.3" y="1320.3" width="15.4" height="19.3" fill="#2d89f5"/>
<rect x="524.3" y="1320.3" width="15.4" height="19.3" fill="#2d8cf3"/>
<rect x="539.3" y="1320.3" width="15.4" height="19.3" fill="#2c8ef1"/>
<rect x="554.3" y="1320.3" width="45.4" height="19.3" fill="#2b90ef"/>
<rect x="599.3" y="1320.3" width="75.4" height="19.3" fill="#2c8ef1"/>
<rect x="674.3" y="1320.3" width="30.4" height="19.3" fill="#2b90ef"/>
<rect x="704.3" y="1320.3" width="15.4" height="19.3" fill="#2c8ef1"/>
<rect x="719.3" y="1320.3" width="15.4" height="19.3" fill="#2d89f5"/>
<rect x="734.3" y="1320.3" width="90.4" height="19.3" fill="#2e87f7"/>
<rect x="824.4" y="1320.3" width="45.4" height="19.3" fill="#2d89f5"/>
<rect x="869.4" y="1320.3" width="15.4" height="19.3" fill="#2e87f7"/>
<rect x="884.4" y="1320.3" width="15.4" height="19.3" fill="#2d89f5"/>
<rect x="899.4" y="1320.3" width="15.4" height="19.3" fill="#2e87f7"/>
<rect x="914.4" y="1320.3" width="30.4" height="19.3" fill="#2e84f8"/>
<rect x="179.2" y="1339.2" width="45.4" height="19.3" fill="#2d89f5"/>
<rect x="224.2" y="1339.2" width="15.4" height="19.3" fill="#2d8cf3"/>
<rect x="239.2" y="1339.2" width="15.4" height="19.3" fill="#2d89f5"/>
<rect x="254.2" y="1339.2" width="15.4" height="19.3" fill="#2e87f7"/>
<rect x="269.2" y="1339.2" width="30.4" height="19.3" fill="#2e84f8"/>
<rect x="299.2" y="1339.2" width="15.4" height="19.3" fill="#2e87f7"/>
<rect x="314.2" y="1339.2" width="15.4" height="19.3" fill="#2d8cf3"/>
<rect x="329.2" y="1339.2" width="45.4" height="19.3" fill="#2b90ef"/>
<rect x="374.2" y="1339.2" width="15.4" height="19.3" fill="#2c8ef1"/>
<rect x="389.3" y="1339.2" width="15.4" height="19.3" fill="#2d8cf3"/>
<rect x="404.3" y="1339.2" width="60.4" height="19.3" fill="#2d89f5"/>
<rect x="464.3" y="1339.2" width="15.4" height="19.3" fill="#2d8cf3"/>
<rect x="479.3" y="1339.2" width="90.4" height="19.3" fill="#2d89f5"/>
<rect x="569.3" y="1339.2" width="15.4" height="19.3" fill="#2e87f7"/>
<rect x="584.3" y="1339.2" width="60.4" height="19.3" fill="#2e84f8"/>
<rect x="644.3" y="1339.2" width="15.4" height="19.3" fill="#2e87f7"/>
<rect x="659.3" y="1339.2" width="75.4" height="19.3" fill="#2d8cf3"/>
<rect x="734.3" y="1339.2" width="45.4" height="19.3" fill="#2d89f5"/>
<rect x="779.4" y="1339.2" width="30.4" height="19.3" fill="#2d8cf3"/>
<rect x="809.4" y="1339.2" width="15.4" height="19.3" fill="#2c8ef1"/>
<rect x="824.4" y="1339.2" width="15.4" height="19.3" fill="#2d8cf3"/>
<rect x="839.4" y="1339.2" width="15.4" height="19.3" fill="#2d89f5"/>
<rect x="854.4" y="1339.2" width="30.4" height="19.3" fill="#2e84f8"/>
<rect x="884.4" y="1339.2" width="30.4" height="19.3" fill="#2e87f7"/>
<rect x="914.4" y="1339.2" width="30.4" height="19.3" fill="#2f82fa"/>
<rect x="179.2" y="1358" width="30.4" height="19.3" fill="#307ffb"/>
<rect x="209.2" y="1358" width="15.4" height="19.3" fill="#2e84f8"/>
<rect x="224.2" y="1358" width="15.4" height="19.3" fill="#2e87f7"/>
<rect x="239.2" y="1358" width="15.4" height="19.3" fill="#2e84f8"/>
<rect x="254.2" y="1358" width="30.4" height="19.3" fill="#2f82fa"/>
<rect x="284.2" y="1358" width="45.4" height="19.3" fill="#2e84f8"/>
<rect x="329.2" y="1358" width="15.4" height="19.3" fill="#2e87f7"/>
<rect x="344.2" y="1358" width="15.4" height="19.3" fill="#2d89f5"/>
<rect x="359.2" y="1358" width="60.4" height="19.3" fill="#2d8cf3"/>
<rect x="419.3" y="1358" width="45.4" height="19.3" fill="#2d89f5"/>
<rect x="464.3" y="1358" width="15.4" height="19.3" fill="#2d8cf3"/>
<rect x="479.3" y="1358" width="15.4" height="19.3" fill="#2c8ef1"/>
<rect x="494.3" y="1358" width="15.4" height="19.3" fill="#2b90ef"/>
<rect x="509.3" y="1358" width="45.4" height="19.3" fill="#2d8cf3"/>
<rect x="554.3" y="1358" width="30.4" height="19.3" fill="#2c8ef1"/>
<rect x="584.3" y="1358" width="15.4" height="19.3" fill="#2d8cf3"/>
<rect x="599.3" y="1358" width="15.4" height="19.3" fill="#2e87f7"/>
<rect x="614.3" y="1358" width="30.4" height="19.3" fill="#2e84f8"/>
<rect x="644.3" y="1358" width="15.4" height="19.3" fill="#2e87f7"/>
<rect x="659.3" y="1358" width="15.4" height="19.3" fill="#2d89f5"/>
<rect x="674.3" y="1358" width="15.4" height="19.3" fill="#2d8cf3"/>
<rect x="689.3" y="1358" width="15.4" height="19.3" fill="#2c8ef1"/>
<rect x="704.3" y="1358" width="15.4" height="19.3" fill="#2b90ef"/>
<rect x="719.3" y="1358" width="15.4" height="19.3" fill="#2c8ef1"/>
<rect x="734.3" y="1358" width="15.4" height="19.3" fill="#2d89f5"/>
<rect x="749.4" y="1358" width="15.4" height="19.3" fill="#2e87f7"/>
<rect x="764.4" y="1358" width="15.4" height="19.3" fill="#2e84f8"/>
<rect x="779.4" y="1358" width="15.4" height="19.3" fill="#2e87f7"/>
<rect x="794.4" y="1358" width="15.4" height="19.3" fill="#2d8cf3"/>
<rect x="809.4" y="1358" width="30.4" height="19.3" fill="#2c8ef1"/>
<rect x="839.4" y="1358" width="15.4" height="19.3" fill="#2d8cf3"/>
<rect x="854.4" y="1358" width="15.4" height="19.3" fill="#2d89f5"/>
<rect x="869.4" y="1358" width="15.4" height="19.3" fill="#2d8cf3"/>
<rect x="884.4" y="1358" width="15.4" height="19.3" fill="#2c8ef1"/>
<rect x="899.4" y="1358" width="15.4" height="19.3" fill="#2b90ef"/>
<rect x="914.4" y="1358" width="30.4" height="19.3" fill="#2a93ee"/>
<rect x="179.2" y="1376.9" width="30.4" height="19.3" fill="#3677fe"/>
<rect x="209.2" y="1376.9" width="15.4" height="19.3" fill="#317dfc"/>
<rect x="224.2" y="1376.9" width="15.4" height="19.3" fill="#2e84f8"/>
<rect x="239.2" y="1376.9" width="30.4" height="19.3" fill="#2d8cf3"/>
<rect x="269.2" y="1376.9" width="15.4" height="19.3" fill="#2d89f5"/>
<rect x="284.2" y="1376.9" width="30.4" height="19.3" fill="#2f82fa"/>
<rect x="314.2" y="1376.9" width="15.4" height="19.3" fill="#2e84f8"/>
<rect x="329.2" y="1376.9" width="15.4" height="19.3" fill="#2d89f5"/>
<rect x="344.2" y="1376.9" width="15.4" height="19.3" fill="#2c8ef1"/>
<rect x="359.2" y="1376.9" width="15.4" height="19.3" fill="#2b90ef"/>
<rect x="374.2" y="1376.9" width="15.4" height="19.3" fill="#2c8ef1"/>
<rect x="389.3" y="1376.9" width="15.4" height="19.3" fill="#2d8cf3"/>
<rect x="404.3" y="1376.9" width="15.4" height="19.3" fill="#2d89f5"/>
<rect x="419.3" y="1376.9" width="30.4" height="19.3" fill="#2d8cf3"/>
<rect x="449.3" y="1376.9" width="45.4" height="19.3" fill="#2c8ef1"/>
<rect x="494.3" y="1376.9" width="45.4" height="19.3" fill="#2d8cf3"/>
<rect x="539.3" y="1376.9" width="75.4" height="19.3" fill="#2d89f5"/>
<rect x="614.3" y="1376.9" width="30.4" height="19.3" fill="#2e87f7"/>
<rect x="644.3" y="1376.9" width="15.4" height="19.3" fill="#2e84f8"/>
<rect x="659.3" y="1376.9" width="15.4" height="19.3" fill="#2f82fa"/>
<rect x="674.3" y="1376.9" width="45.4" height="19.3" fill="#307ffb"/>
<rect x="719.3" y="1376.9" width="15.4" height="19.3" fill="#2e84f8"/>
<rect x="734.3" y="1376.9" width="15.4" height="19.3" fill="#2e87f7"/>
<rect x="749.4" y="1376.9" width="30.4" height="19.3" fill="#2d89f5"/>
<rect x="779.4" y="1376.9" width="45.4" height="19.3" fill="#2d8cf3"/>
<rect x="824.4" y="1376.9" width="30.4" height="19.3" fill="#2d89f5"/>
<rect x="854.4" y="1376.9" width="30.4" height="19.3" fill="#2d8cf3"/>
<rect x="884.4" y="1376.9" width="15.4" height="19.3" fill="#2c8ef1"/>
<rect x="899.4" y="1376.9" width="15.4" height="19.3" fill="#2d89f5"/>
<rect x="914.4" y="1376.9" width="30.4" height="19.3" fill="#2e84f8"/>
<rect x="179.2" y="1395.7" width="60.4" height="19.3" fill="#2d89f5"/>
<rect x="239.2" y="1395.7" width="45.4" height="19.3" fill="#2e87f7"/>
<rect x="284.2" y="1395.7" width="75.4" height="19.3" fill="#2d89f5"/>
<rect x="359.2" y="1395.7" width="15.4" height="19.3" fill="#2d8cf3"/>
<rect x="374.2" y="1395.7" width="15.4" height="19.3" fill="#2c8ef1"/>
<rect x="389.3" y="1395.7" width="45.4" height="19.3" fill="#2b90ef"/>
<rect x="434.3" y="1395.7" width="15.4" height="19.3" fill="#2c8ef1"/>
<rect x="449.3" y="1395.7" width="15.4" height="19.3" fill="#2d89f5"/>
<rect x="464.3" y="1395.7" width="15.4" height="19.3" fill="#2d8cf3"/>
<rect x="479.3" y="1395.7" width="15.4" height="19.3" fill="#2c8ef1"/>
<rect x="494.3" y="1395.7" width="15.4" height="19.3" fill="#2b90ef"/>
<rect x="509.3" y="1395.7" width="15.4" height="19.3" fill="#2c8ef1"/>
<rect x="524.3" y="1395.7" width="45.4" height="19.3" fill="#2d8cf3"/>
<rect x="569.3" y="1395.7" width="15.4" height="19.3" fill="#2d89f5"/>
<rect x="584.3" y="1395.7" width="15.4" height="19.3" fill="#2e87f7"/>
<rect x="599.3" y="1395.7" width="60.4" height="19.3" fill="#2e84f8"/>
<rect x="659.3" y="1395.7" width="15.4" height="19.3" fill="#2d89f5"/>
<rect x="674.3" y="1395.7" width="15.4" height="19.3" fill="#2d8cf3"/>
<rect x="689.3" y="1395.7" width="15.4" height="19.3" fill="#2d89f5"/>
<rect x="704.3" y="1395.7" width="15.4" height="19.3" fill="#2e84f8"/>
<rect x="719.3" y="1395.7" width="30.4" height="19.3" fill="#2f82fa"/>
<rect x="749.4" y="1395.7" width="45.4" height="19.3" fill="#2e84f8"/>
<rect x="794.4" y="1395.7" width="15.4" height="19.3" fill="#2e87f7"/>
<rect x="809.4" y="1395.7" width="45.4" height="19.3" fill="#2d89f5"/>
<rect x="854.4" y="1395.7" width="15.4" height="19.3" fill="#2e87f7"/>
<rect x="869.4" y="1395.7" width="15.4" height="19.3" fill="#2e84f8"/>
<rect x="884.4" y="1395.7" width="15.4" height="19.3" fill="#2f82fa"/>
<rect x="899.4" y="1395.7" width="15.4" height="19.3" fill="#307ffb"/>
<rect x="914.4" y="1395.7" width="30.4" height="19.3" fill="#317dfc"/>
<rect x="179.2" y="1414.6" width="30.4" height="19.3" fill="#2d8cf3"/>
<rect x="209.2" y="1414.6" width="15.4" height="19.3" fill="#2d89f5"/>
<rect x="224.2" y="1414.6" width="15.4" height="19.3" fill="#2e84f8"/>
<rect x="239.2" y="1414.6" width="15.4" height="19.3" fill="#2f82fa"/>
<rect x="254.2" y="1414.6" width="15.4" height="19.3" fill="#2e84f8"/>
<rect x="269.2" y="1414.6" width="15.4" height="19.3" fill="#2d89f5"/>
<rect x="284.2" y="1414.6" width="60.4" height="19.3" fill="#2c8ef1"/>
<rect x="344.2" y="1414.6" width="45.4" height="19.3" fill="#2d8cf3"/>
<rect x="389.3" y="1414.6" width="30.4" height="19.3" fill="#2c8ef1"/>
<rect x="419.3" y="1414.6" width="15.4" height="19.3" fill="#2d8cf3"/>
<rect x="434.3" y="1414.6" width="15.4" height="19.3" fill="#2d89f5"/>
<rect x="449.3" y="1414.6" width="15.4" height="19.3" fill="#2e87f7"/>
<rect x="464.3" y="1414.6" width="30.4" height="19.3" fill="#2e84f8"/>
<rect x="494.3" y="1414.6" width="15.4" height="19.3" fill="#2e87f7"/>
<rect x="509.3" y="1414.6" width="15.4" height="19.3" fill="#2d89f5"/>
<rect x="524.3" y="1414.6" width="30.4" height="19.3" fill="#2e87f7"/>
<rect x="554.3" y="1414.6" width="60.4" height="19.3" fill="#2e84f8"/>
<rect x="614.3" y="1414.6" width="45.4" height="19.3" fill="#2e87f7"/>
<rect x="659.3" y="1414.6" width="30.4" height="19.3" fill="#2e84f8"/>
<rect x="689.3" y="1414.6" width="15.4" height="19.3" fill="#2e87f7"/>
<rect x="704.3" y="1414.6" width="15.4" height="19.3" fill="#2d89f5"/>
<rect x="719.3" y="1414.6" width="30.4" height="19.3" fill="#2d8cf3"/>
<rect x="749.4" y="1414.6" width="15.4" height="19.3" fill="#2d89f5"/>
<rect x="764.4" y="1414.6" width="75.4" height="19.3" fill="#2e87f7"/>
<rect x="839.4" y="1414.6" width="30.4" height="19.3" fill="#2e84f8"/>
<rect x="869.4" y="1414.6" width="15.4" height="19.3" fill="#2e87f7"/>
<rect x="884.4" y="1414.6" width="60.4" height="19.3" fill="#2d89f5"/>
<rect x="179.2" y="1433.5" width="30.4" height="19.3" fill="#2c8ef1"/>
<rect x="209.2" y="1433.5" width="45.4" height="19.3" fill="#2d8cf3"/>
<rect x="254.2" y="1433.5" width="15.4" height="19.3" fill="#2d89f5"/>
<rect x="269.2" y="1433.5" width="15.4" height="19.3" fill="#2e87f7"/>
<rect x="284.2" y="1433.5" width="15.4" height="19.3" fill="#2e84f8"/>
<rect x="299.2" y="1433.5" width="15.4" height="19.3" fill="#307ffb"/>
<rect x="314.2" y="1433.5" width="15.4" height="19.3" fill="#2e87f7"/>
<rect x="329.2" y="1433.5" width="15.4" height="19.3" fill="#2d8cf3"/>
<rect x="344.2" y="1433.5" width="15.4" height="19.3" fill="#2c8ef1"/>
<rect x="359.2" y="1433.5" width="15.4" height="19.3" fill="#2d8cf3"/>
<rect x="374.2" y="1433.5" width="45.4" height="19.3" fill="#2d89f5"/>
<rect x="419.3" y="1433.5" width="15.4" height="19.3" fill="#2d8cf3"/>
<rect x="434.3" y="1433.5" width="15.4" height="19.3" fill="#2d89f5"/>
<rect x="449.3" y="1433.5" width="15.4" height="19.3" fill="#2e87f7"/>
<rect x="464.3" y="1433.5" width="15.4" height="19.3" fill="#2e84f8"/>
<rect x="479.3" y="1433.5" width="15.4" height="19.3" fill="#2d8cf3"/>
<rect x="494.3" y="1433.5" width="15.4" height="19.3" fill="#2b90ef"/>
<rect x="509.3" y="1433.5" width="15.4" height="19.3" fill="#2d8cf3"/>
<rect x="524.3" y="1433.5" width="15.4" height="19.3" fill="#2e84f8"/>
<rect x="539.3" y="1433.5" width="15.4" height="19.3" fill="#2f82fa"/>
<rect x="554.3" y="1433.5" width="15.4" height="19.3" fill="#2e84f8"/>
<rect x="569.3" y="1433.5" width="15.4" height="19.3" fill="#2e87f7"/>
<rect x="584.3" y="1433.5" width="30.4" height="19.3" fill="#2d89f5"/>
<rect x="614.3" y="1433.5" width="15.4" height="19.3" fill="#2d8cf3"/>
<rect x="629.3" y="1433.5" width="45.4" height="19.3" fill="#2d89f5"/>
<rect x="674.3" y="1433.5" width="30.4" height="19.3" fill="#2d8cf3"/>
<rect x="704.3" y="1433.5" width="30.4" height="19.3" fill="#2c8ef1"/>
<rect x="734.3" y="1433.5" width="15.4" height="19.3" fill="#2d8cf3"/>
<rect x="749.4" y="1433.5" width="15.4" height="19.3" fill="#2e87f7"/>
<rect x="764.4" y="1433.5" width="15.4" height="19.3" fill="#2e84f8"/>
<rect x="779.4" y="1433.5" width="60.4" height="19.3" fill="#2f82fa"/>
<rect x="839.4" y="1433.5" width="15.4" height="19.3" fill="#2e84f8"/>
<rect x="854.4" y="1433.5" width="15.4" height="19.3" fill="#2e87f7"/>
<rect x="869.4" y="1433.5" width="15.4" height="19.3" fill="#2d89f5"/>
<rect x="884.4" y="1433.5" width="60.4" height="19.3" fill="#2e87f7"/>
<rect x="179.2" y="1452.3" width="30.4" height="19.3" fill="#2c8ef1"/>
<rect x="209.2" y="1452.3" width="15.4" height="19.3" fill="#2d89f5"/>
<rect x="224.2" y="1452.3" width="60.4" height="19.3" fill="#2e87f7"/>
<rect x="284.2" y="1452.3" width="60.4" height="19.3" fill="#2e84f8"/>
<rect x="344.2" y="1452.3" width="45.4" height="19.3" fill="#2f82fa"/>
<rect x="389.3" y="1452.3" width="15.4" height="19.3" fill="#2e87f7"/>
<rect x="404.3" y="1452.3" width="90.4" height="19.3" fill="#2d8cf3"/>
<rect x="494.3" y="1452.3" width="15.4" height="19.3" fill="#2d89f5"/>
<rect x="509.3" y="1452.3" width="30.4" height="19.3" fill="#2e84f8"/>
<rect x="539.3" y="1452.3" width="15.4" height="19.3" fill="#2f82fa"/>
<rect x="554.3" y="1452.3" width="15.4" height="19.3" fill="#2e84f8"/>
<rect x="569.3" y="1452.3" width="15.4" height="19.3" fill="#2e87f7"/>
<rect x="584.3" y="1452.3" width="30.4" height="19.3" fill="#2d89f5"/>
<rect x="614.3" y="1452.3" width="15.4" height="19.3" fill="#2d8cf3"/>
<rect x="629.3" y="1452.3" width="30.4" height="19.3" fill="#2c8ef1"/>
<rect x="659.3" y="1452.3" width="15.4" height="19.3" fill="#2d8cf3"/>
<rect x="674.3" y="1452.3" width="15.4" height="19.3" fill="#2e87f7"/>
<rect x="689.3" y="1452.3" width="30.4" height="19.3" fill="#2f82fa"/>
<rect x="719.3" y="1452.3" width="15.4" height="19.3" fill="#2e87f7"/>
<rect x="734.3" y="1452.3" width="15.4" height="19.3" fill="#2d89f5"/>
<rect x="749.4" y="1452.3" width="30.4" height="19.3" fill="#2b90ef"/>
<rect x="779.4" y="1452.3" width="15.4" height="19.3" fill="#2895ec"/>
<rect x="794.4" y="1452.3" width="15.4" height="19.3" fill="#2a93ee"/>
<rect x="809.4" y="1452.3" width="15.4" height="19.3" fill="#2b90ef"/>
<rect x="824.4" y="1452.3" width="60.4" height="19.3" fill="#2d8cf3"/>
<rect x="884.4" y="1452.3" width="15.4" height="19.3" fill="#2d89f5"/>
<rect x="899.4" y="1452.3" width="45.4" height="19.3" fill="#2e87f7"/>
<rect x="179.2" y="1471.2" width="30.4" height="19.3" fill="#2c8ef1"/>
<rect x="209.2" y="1471.2" width="15.4" height="19.3" fill="#2d89f5"/>
<rect x="224.2" y="1471.2" width="60.4" height="19.3" fill="#2e87f7"/>
<rect x="284.2" y="1471.2" width="60.4" height="19.3" fill="#2e84f8"/>
<rect x="344.2" y="1471.2" width="45.4" height="19.3" fill="#2f82fa"/>
<rect x="389.3" y="1471.2" width="15.4" height="19.3" fill="#2e87f7"/>
<rect x="404.3" y="1471.2" width="90.4" height="19.3" fill="#2d8cf3"/>
<rect x="494.3" y="1471.2" width="15.4" height="19.3" fill="#2d89f5"/>
<rect x="509.3" y="1471.2" width="30.4" height="19.3" fill="#2e84f8"/>
<rect x="539.3" y="1471.2" width="15.4" height="19.3" fill="#2f82fa"/>
<rect x="554.3" y="1471.2" width="15.4" height="19.3" fill="#2e84f8"/>
<rect x="569.3" y="1471.2" width="15.4" height="19.3" fill="#2e87f7"/>
<rect x="584.3" y="1471.2" width="30.4" height="19.3" fill="#2d89f5"/>
<rect x="614.3" y="1471.2" width="15.4" height="19.3" fill="#2d8cf3"/>
<rect x="629.3" y="1471.2" width="30.4" height="19.3" fill="#2c8ef1"/>
<rect x="659.3" y="1471.2" width="15.4" height="19.3" fill="#2d8cf3"/>
<rect x="674.3" y="1471.2" width="15.4" height="19.3" fill="#2e87f7"/>
<rect x="689.3" y="1471.2" width="30.4" height="19.3" fill="#2f82fa"/>
<rect x="719.3" y="1471.2" width="15.4" height="19.3" fill="#2e87f7"/>
<rect x="734.3" y="1471.2" width="15.4" height="19.3" fill="#2d89f5"/>
<rect x="749.4" y="1471.2" width="30.4" height="19.3" fill="#2b90ef"/>
<rect x="779.4" y="1471.2" width="15.4" height="19.3" fill="#2895ec"/>
<rect x="794.4" y="1471.2" width="15.4" height="19.3" fill="#2a93ee"/>
<rect x="809.4" y="1471.2" width="15.4" height="19.3" fill="#2b90ef"/>
<rect x="824.4" y="1471.2" width="60.4" height="19.3" fill="#2d8cf3"/>
<rect x="884.4" y="1471.2" width="15.4" height="19.3" fill="#2d89f5"/>
<rect x="899.4" y="1471.2" width="45.4" height="19.3" fill="#2e87f7"/>
</g></g>
<rect x="194.2" y="848.7" width="735.2" height="622.5" fill="none" stroke="#2f3b4c" stroke-width="1.3"/>
<text x="201.3" y="1523" font-size="39.5" text-anchor="middle">0</text>
<text x="351.5" y="1523" font-size="39.5" text-anchor="middle">5</text>
<text x="501.7" y="1523" font-size="39.5" text-anchor="middle">10</text>
<text x="651.9" y="1523" font-size="39.5" text-anchor="middle">15</text>
<text x="802.1" y="1523" font-size="39.5" text-anchor="middle">20</text>
<text x="179.7" y="1478.5" font-size="39.5" text-anchor="end">0</text>
<text x="179.7" y="1289.2" font-size="39.5" text-anchor="end">5</text>
<text x="179.7" y="1099.9" font-size="39.5" text-anchor="end">10</text>
<text x="179.7" y="910.6" font-size="39.5" text-anchor="end">15</text>
<path d="M201.3 848.7 v7 M201.3 1471.2 v-7 M351.5 848.7 v7 M351.5 1471.2 v-7 M501.7 848.7 v7 M501.7 1471.2 v-7 M651.9 848.7 v7 M651.9 1471.2 v-7 M802.1 848.7 v7 M802.1 1471.2 v-7 M194.2 1463.5 h7 M929.4 1463.5 h-7 M194.2 1274.2 h7 M929.4 1274.2 h-7 M194.2 1084.9 h7 M929.4 1084.9 h-7 M194.2 895.6 h7 M929.4 895.6 h-7" stroke="#2f3b4c" stroke-width="1.3" fill="none"/>
<linearGradient id="cbb" x1="0" y1="1" x2="0" y2="0">
<stop offset="0.0000" stop-color="#3e26a8"/>
<stop offset="0.0159" stop-color="#402ab4"/>
<stop offset="0.0317" stop-color="#422ec0"/>
<stop offset="0.0476" stop-color="#4332cb"/>
<stop offset="0.0635" stop-color="#4537d5"/>
<stop offset="0.0794" stop-color="#463cde"/>
<stop offset="0.0952" stop-color="#4741e5"/>
<stop offset="0.1111" stop-color="#4747eb"/>
<stop offset="0.1270" stop-color="#484df0"/>
<stop offset="0.1429" stop-color="#4852f4"/>
<stop offset="0.1587" stop-color="#4758f8"/>
<stop offset="0.1746" stop-color="#465efb"/>
<stop offset="0.1905" stop-color="#4563fd"/>
<stop offset="0.2063" stop-color="#4269fe"/>
<stop offset="0.2222" stop-color="#3e6fff"/>
<stop offset="0.2381" stop-color="#3875fe"/>
<stop offset="0.2540" stop-color="#327cfc"/>
<stop offset="0.2698" stop-color="#2f81fa"/>
<stop offset="0.2857" stop-color="#2e87f7"/>
<stop offset="0.3016" stop-color="#2d8cf3"/>
<stop offset="0.3175" stop-color="#2b91ef"/>
<stop offset="0.3333" stop-color="#2797eb"/>
<stop offset="0.3492" stop-color="#259be8"/>
<stop offset="0.3651" stop-color="#23a0e5"/>
<stop offset="0.3810" stop-color="#20a5e3"/>
<stop offset="0.3968" stop-color="#1ca9df"/>
<stop offset="0.4127" stop-color="#18addb"/>
<stop offset="0.4286" stop-color="#12b1d6"/>
<stop offset="0.4444" stop-color="#08b5d0"/>
<stop offset="0.4603" stop-color="#01b8ca"/>
<stop offset="0.4762" stop-color="#02bac3"/>
<stop offset="0.4921" stop-color="#0bbdbd"/>
<stop offset="0.5079" stop-color="#19bfb6"/>
<stop offset="0.5238" stop-color="#24c1ae"/>
<stop offset="0.5397" stop-color="#2cc4a7"/>
<stop offset="0.5556" stop-color="#31c69f"/>
<stop offset="0.5714" stop-color="#37c897"/>
<stop offset="0.5873" stop-color="#3fca8e"/>
<stop offset="0.6032" stop-color="#4acb84"/>
<stop offset="0.6190" stop-color="#57cc7a"/>
<stop offset="0.6349" stop-color="#64cd6f"/>
<stop offset="0.6508" stop-color="#72cd64"/>
<stop offset="0.6667" stop-color="#81cc59"/>
<stop offset="0.6825" stop-color="#8fcb4e"/>
<stop offset="0.6984" stop-color="#9dc943"/>
<stop offset="0.7143" stop-color="#abc739"/>
<stop offset="0.7302" stop-color="#b9c431"/>
<stop offset="0.7460" stop-color="#c5c22a"/>
<stop offset="0.7619" stop-color="#d1bf27"/>
<stop offset="0.7778" stop-color="#dcbd29"/>
<stop offset="0.7937" stop-color="#e6bb2d"/>
<stop offset="0.8095" stop-color="#f0ba36"/>
<stop offset="0.8254" stop-color="#f8ba3d"/>
<stop offset="0.8413" stop-color="#febe3c"/>
<stop offset="0.8571" stop-color="#fec338"/>
<stop offset="0.8730" stop-color="#fec934"/>
<stop offset="0.8889" stop-color="#fccf30"/>
<stop offset="0.9048" stop-color="#fad62d"/>
<stop offset="0.9206" stop-color="#f7dc2a"/>
<stop offset="0.9365" stop-color="#f5e327"/>
<stop offset="0.9524" stop-color="#f5e924"/>
<stop offset="0.9683" stop-color="#f6ef20"/>
<stop offset="0.9841" stop-color="#f7f51b"/>
<stop offset="1.0000" stop-color="#f9fb15"/>
</linearGradient>
<rect x="949" y="848.7" width="40.8" height="622.5" fill="url(#cbb)" stroke="#4a4a3a" stroke-width="1.2"/>
<text x="1003.8" y="1488.1" font-size="40">-0.2</text>
<text x="1003.8" y="1399.1" font-size="40">-0.1</text>
<text x="1003.8" y="1310.1" font-size="40">0</text>
<text x="1003.8" y="1221.1" font-size="40">0.1</text>
<text x="1003.8" y="1132.1" font-size="40">0.2</text>
<text x="1003.8" y="1043.1" font-size="40">0.3</text>
<text x="1003.8" y="954.1" font-size="40">0.4</text>
<text x="1003.8" y="865.1" font-size="40">0.5</text>
<path d="M989.8 1472.1 h-6 M989.8 1383.1 h-6 M989.8 1294.1 h-6 M989.8 1205.1 h-6 M989.8 1116.1 h-6 M989.8 1027.1 h-6 M989.8 938.1 h-6 M989.8 849.1 h-6" stroke="#4a4a3a" stroke-width="1.3" fill="none"/>
</g>
<clipPath id="cla"><rect x="186" y="60" width="746" height="634"/></clipPath>
<g id="overlay-a"><g clip-path="url(#cla)">
<path d="M233.5 692 L232 543 L299.5 158 L308 144.3 L336 151.4 L352.9 168 L291.2 531 L305.8 692" fill="none" stroke="#fff" stroke-width="5.8" stroke-dasharray="23.2 19.2" stroke-dashoffset="9.6" stroke-linejoin="round"/>
<path d="M683 692 L661.6 623 L736.2 220.6 L753.7 201.8 L766.3 202.7 L790.4 230.6 L722.4 613.6 L740 692" fill="none" stroke="#fff" stroke-width="5.8" stroke-dasharray="23.2 19.2" stroke-dashoffset="19" stroke-linejoin="round"/>
<path d="M804 692 L774.7 648.2 L770.3 628.7 L842.3 253.7 L864.8 229.3 L886 229.3 L896.3 252.4 L822.2 622.3 L871.9 677.7 L886 692" fill="none" stroke="#fff" stroke-width="5.8" stroke-dasharray="23.2 19.2" stroke-dashoffset="10" stroke-linejoin="round"/>
<path d="M929 278 L866.4 612.2 L869 619.4 L882 627.3 L907.2 632.3 L923 576.2 L930 551" fill="none" stroke="#fff" stroke-width="5.8" stroke-dasharray="23.2 19.2" stroke-dashoffset="0.4" stroke-linejoin="round"/>
<path d="M678.5 688.8 L685 688.8" fill="none" stroke="#fff" stroke-width="5.8" stroke-linejoin="miter"/>
<path d="M727.9 688.8 L741 688.8" fill="none" stroke="#fff" stroke-width="5.8" stroke-linejoin="miter"/>
<path d="M814.3 688.8 L837.3 688.8" fill="none" stroke="#fff" stroke-width="5.8" stroke-linejoin="miter"/>
<path d="M856 688.8 L879 688.8" fill="none" stroke="#fff" stroke-width="5.8" stroke-linejoin="miter"/>
<path d="M396.2 540 L476.2 208 L927 142 L927 637.5 L578 585.5 L558 574.5 Z" fill="none" stroke="#c40000" stroke-width="5.8" stroke-dasharray="18.3 6.1" stroke-dashoffset="17" stroke-linejoin="miter"/>
<path d="M192.6 454.3 L192 117.6 L352.5 120.2 L356.5 152 L502 167.5 L679.7 206.5 L599.5 591 L193.5 556 Z" fill="none" stroke="#3b5522" stroke-width="6.8" stroke-dasharray="20.7 8.3" stroke-dashoffset="0" stroke-linejoin="miter"/>
</g>
<circle cx="370.1" cy="448" r="16.4" fill="none" stroke="#ff0000" stroke-width="10.9"/>
<text x="288.2" y="258.6" font-size="68.5">D</text>
<text x="770.5" y="223.7" font-size="68.5" fill="#c40000">MLG</text>
<text x="208.3" y="524.8" font-size="68.5" fill="#375623">NbSe<tspan font-size="43" dy="17.5">2</tspan></text>
<text x="877" y="601.6" font-size="68.5">S</text>
</g>
<clipPath id="clb"><rect x="188" y="842" width="746" height="636"/></clipPath>
<g id="overlay-b"><g clip-path="url(#clb)">
<path d="M226.3 1473 L222.2 1395.3 L293.5 1004 L300.5 994.9 L331 1004.6 L345.4 1019.9 L281.8 1391.4 L289.7 1473" fill="none" stroke="#fff" stroke-width="5.8" stroke-dasharray="23.2 19.2" stroke-dashoffset="30.1" stroke-linejoin="round"/>
<path d="M608.5 1473 L680.5 1085 L697.8 1059 L713.1 1054.1 L735 1080.5 L667.3 1473" fill="none" stroke="#fff" stroke-width="5.8" stroke-dasharray="23.2 19.2" stroke-dashoffset="23" stroke-linejoin="round"/>
<path d="M709.6 1473 L781 1102 L784 1093 L802 1074 L829 1074 L838 1094 L839 1098.5 L760.5 1473" fill="none" stroke="#fff" stroke-width="5.8" stroke-dasharray="23.2 19.2" stroke-dashoffset="7.8" stroke-linejoin="round"/>
<path d="M927 944 L877.3 1140 L866 1200 L836.5 1330 L809.6 1452.9 L818 1473" fill="none" stroke="#fff" stroke-width="5.8" stroke-dasharray="23.2 19.2" stroke-dashoffset="30.6" stroke-linejoin="round"/>
<path d="M932 1100 L914 1200 L878.8 1400.8 L878 1422 L861 1461" fill="none" stroke="#fff" stroke-width="5.8" stroke-dasharray="23.2 19.2" stroke-dashoffset="37.4" stroke-linejoin="round"/>
<path d="M373 1390.5 L454.3 1057.8 L929.7 989.5 L929.7 1474 L566 1437 L545 1425 Z" fill="none" stroke="#c40000" stroke-width="5.8" stroke-dasharray="18.3 6.1" stroke-dashoffset="16.2" stroke-linejoin="miter"/>
<path d="M199 1406.8 L196 966 L347.3 968.5 L351 1002.4 L480 1018 L656 1055 L579.5 1441 Z" fill="none" stroke="#445c22" stroke-width="5.8" stroke-dasharray="16.7 7.4" stroke-dashoffset="12.5" stroke-linejoin="miter"/>
</g>
<text x="282" y="1100.4" font-size="68.5">D</text>
<text x="763.4" y="1073.1" font-size="68.5" fill="#c40000">MLG</text>
<text x="205" y="1312.9" font-size="68.5" fill="#44592a">NbSe<tspan font-size="43" dy="17.5">2</tspan></text>
<text x="825" y="1446.6" font-size="68.5">S</text>
</g>
<path d="M232.5 691 v6 M248 697.5 h23 M291 697.5 h16 M234 1477 h23 M277 1476 h14.5" stroke="#ebebeb" stroke-width="4" fill="none"/>
<text x="16" y="126" font-size="85">(a)</text>
<text x="10" y="920" font-size="85">(b)</text>
<text x="558.5" y="792.5" font-size="44.5" text-anchor="middle">X position (μm)</text>
<text x="561" y="1573.5" font-size="44.5" text-anchor="middle">X position (μm)</text>
<text x="121" y="377.5" font-size="44.5" text-anchor="middle" transform="rotate(-90 121 377.5)">Y position (μm)</text>
<text x="120.5" y="1159.5" font-size="44.5" text-anchor="middle" transform="rotate(-90 120.5 1159.5)">Y position (μm)</text>
<text x="994" y="51" font-size="44">mA/W</text>
<text x="996.5" y="833" font-size="44">mA/W</text>
<g id="panel-c">
<clipPath id="clipc"><rect x="1290.4" y="62" width="771" height="620.5"/></clipPath>
<g clip-path="url(#clipc)">
<path d="M1290.4 376.9 C1292.7 377.3 1300.6 378.3 1304.6 378.9 C1308.6 379.6 1310.8 380.6 1314.6 380.7 C1318.3 380.8 1322.9 380.1 1327.1 379.4 C1331.2 378.8 1336 378 1339.6 376.9 C1343.1 375.9 1345.4 374.3 1348.3 373.2 C1351.2 372.1 1354.3 370 1357 370.2 C1359.7 370.4 1362 372.9 1364.5 374.4 C1367 376 1367.4 378.4 1372 379.4 C1376.6 380.5 1387.2 381.5 1392 380.7 C1396.8 379.8 1397.8 376.4 1400.7 374.4 C1403.6 372.5 1406.7 369 1409.4 368.9 C1412.2 368.9 1414.4 372.2 1416.9 373.9 C1419.4 375.7 1421.7 378.2 1424.4 379.4 C1427.1 380.7 1430.2 381.8 1433.2 381.4 C1436.1 381 1437.1 377.9 1441.9 376.9 C1446.7 376 1456.5 376.3 1461.9 375.7 C1467.3 375.1 1470.2 373.8 1474.3 373.2 C1478.5 372.6 1482.3 371.7 1486.8 371.9 C1491.4 372.2 1497.2 374 1501.8 374.4 C1506.4 374.9 1509.3 373.8 1514.3 374.4 C1519.3 375.1 1526.8 378 1531.8 378.2 C1536.8 378.4 1539.5 375.3 1544.2 375.7 C1548.9 376.1 1553.6 380.2 1560 380.4 C1566.4 380.5 1577.2 378.7 1582.6 376.6 C1588 374.5 1589.7 369.7 1592.6 367.8 C1595.6 365.9 1596.4 364 1600.2 365.3 C1603.9 366.6 1609.8 372.4 1615.2 375.3 C1620.7 378.3 1627.8 382.7 1632.8 382.9 C1637.8 383.1 1640.8 378.2 1645.4 376.6 C1650 375 1655.8 374.4 1660.4 373.3 C1665 372.3 1668 371 1673 370.3 C1678 369.7 1685.1 368.7 1690.6 369.6 C1696 370.4 1701 373.4 1705.6 375.3 C1710.2 377.3 1713.2 380.9 1718.2 381.1 C1723.2 381.3 1730.3 378.5 1735.7 376.6 C1741.2 374.7 1745.4 371.1 1750.8 369.6 C1756.3 368 1762.5 366.6 1768.4 367.3 C1774.2 368.1 1781.8 373 1786 374.1 C1790.1 375.2 1790.1 374.8 1793.5 374.1 C1796.8 373.4 1801 370.7 1806 369.8 C1811.1 369 1817.3 368.9 1823.6 369.1 C1829.9 369.3 1837.8 371.8 1843.7 371.1 C1849.6 370.3 1854.2 365.4 1858.8 364.5 C1863.4 363.7 1867.1 366.1 1871.3 366.1 C1875.5 366 1880.5 363.9 1883.9 364 C1887.2 364.2 1888.9 367.1 1891.4 367.1 C1893.9 367.1 1895.2 363.7 1898.9 364 C1902.7 364.4 1910.2 369 1914 369.1 C1917.8 369.2 1918.2 364.3 1921.5 364.5 C1924.9 364.8 1929.1 370.7 1934.1 370.3 C1939.1 369.9 1947.5 363.6 1951.7 362 C1955.8 360.5 1956.3 360.4 1959.2 361 C1962.1 361.7 1965.5 365.6 1969.2 366.1 C1973 366.6 1975.9 363.2 1981.8 364 C1987.7 364.9 1998.9 370.7 2004.4 371.1 C2009.8 371.5 2010.2 367.4 2014.4 366.6 C2018.6 365.7 2024.5 364.7 2029.5 365.8 C2034.5 366.9 2040.4 372.8 2044.6 373.3 C2048.7 373.9 2051.9 370.6 2054.6 369.1 C2057.3 367.5 2059.8 364.9 2060.9 364" fill="none" stroke="#111" stroke-width="3" stroke-linejoin="round"/>
<path d="M1290 374.4 C1291.7 374.7 1296.7 375.4 1300 376 C1303.3 376.6 1306.8 376.7 1309.6 378 C1312.4 379.3 1314.1 381.9 1317 384 C1319.9 386.1 1323.2 388.9 1327 390.6 C1330.8 392.3 1335.7 393.1 1339.5 394.4 C1343.3 395.7 1347.1 397.1 1350 398.5 C1352.9 399.9 1354.6 400.8 1357 402.5 C1359.4 404.2 1362.3 405.4 1364.5 408.7 C1366.7 411.9 1367.9 416.4 1370 422 C1372.1 427.6 1373.8 434.4 1377 442.4 C1380.2 450.4 1385.3 458.4 1389.5 470 C1393.7 481.6 1398.2 501.3 1402 512.3 C1405.8 523.3 1409.1 529.8 1412 536 C1414.9 542.2 1415.7 543.8 1419.4 549.8 C1423.1 555.8 1429 562.6 1434.4 572 C1439.8 581.4 1446.9 598 1451.9 606 C1456.9 614 1460.2 614.9 1464.4 619.7 C1468.6 624.5 1472.7 629.4 1476.8 634.6 C1480.9 639.8 1486.2 647.6 1489.3 650.9 C1492.4 654.2 1492.7 655 1495.6 654.6 C1498.5 654.2 1501.6 651.5 1506.8 648.4 C1512 645.3 1521.4 639.8 1526.8 635.9 C1532.2 632 1533.8 630.9 1539.3 624.7 C1544.8 618.6 1554.9 605.5 1560 599 C1565.1 592.5 1567.1 592.2 1570 585.8 C1572.9 579.4 1575.1 569.1 1577.6 560.7 C1580.1 552.3 1582.5 541.7 1585 535.6 C1587.5 529.5 1588.4 529.9 1592.6 524.3 C1596.8 518.6 1605.2 507.1 1610.2 501.7 C1615.2 496.2 1618.6 497.7 1622.8 491.6 C1627 485.5 1631.5 472.2 1635.3 465.3 C1639.1 458.4 1642.1 456.9 1645.4 450.2 C1648.8 443.5 1652.3 433.5 1655.4 425.1 C1658.5 416.7 1660.7 409.4 1664 400 C1667.3 390.6 1671.5 377.3 1675.5 369 C1679.5 360.7 1684.2 357.1 1688 350 C1691.8 342.9 1694.7 334.5 1698 326.4 C1701.3 318.3 1704.7 308.4 1708 301.3 C1711.3 294.2 1713.4 292.5 1718 283.7 C1722.6 274.9 1730.7 258.4 1735.7 248.6 C1740.8 238.8 1743.7 231.2 1748.3 224.7 C1752.9 218.2 1758.8 216.1 1763.4 209.6 C1768 203.1 1771.4 194.8 1776 185.8 C1780.6 176.8 1785.2 164.9 1791 155.7 C1796.8 146.5 1806 137.1 1811 130.6 C1816 124.1 1816.8 121.1 1821 116.7 C1825.2 112.3 1831.7 107.2 1836.2 104.2 C1840.7 101.2 1844.7 100 1848 98.5 C1851.3 97 1854.5 95.8 1856.3 95.4 C1858 95 1857.9 95 1858.5 96 C1859.1 97 1858.3 100.9 1860 101.7 C1861.7 102.5 1864.8 98.9 1868.8 101 C1872.8 103.1 1879.7 109.3 1883.9 114.2 C1888.1 119.1 1889.7 122.2 1893.9 130.6 C1898.1 139 1904.8 156.2 1909 164.4 C1913.2 172.6 1915.7 174.3 1919 179.5 C1922.3 184.7 1925.2 188.9 1929 195.8 C1932.8 202.7 1936.6 212.3 1941.6 220.9 C1946.6 229.5 1954.2 238.1 1959.2 247.3 C1964.2 256.5 1967.6 265.9 1971.8 276.2 C1976 286.4 1980.1 297.5 1984.3 308.8 C1988.5 320.1 1993.1 334.8 1996.9 344 C2000.7 353.2 2004 359.4 2006.9 364 C2009.8 368.6 2011.5 369.7 2014.4 371.6 C2017.3 373.5 2020.7 375.7 2024.5 375.3 C2028.3 374.9 2032.8 370.9 2037 369 C2041.2 367.1 2045.6 364.9 2049.6 364 C2053.6 363.1 2059.1 363.6 2061 363.5" fill="none" stroke="#ff1a1a" stroke-width="3" stroke-linejoin="round"/>
</g>
<path d="M1354.7 682.5 v-6 M1354.7 62 v6 M1418.9 682.5 v-11 M1418.9 62 v11 M1483.2 682.5 v-6 M1483.2 62 v6 M1547.4 682.5 v-11 M1547.4 62 v11 M1611.7 682.5 v-6 M1611.7 62 v6 M1675.9 682.5 v-11 M1675.9 62 v11 M1740.2 682.5 v-6 M1740.2 62 v6 M1804.4 682.5 v-11 M1804.4 62 v11 M1868.7 682.5 v-6 M1868.7 62 v6 M1932.9 682.5 v-11 M1932.9 62 v11 M1997.2 682.5 v-6 M1997.2 62 v6 M1290.4 630.8 h6 M2061.4 630.8 h-6 M1290.4 579.1 h11 M2061.4 579.1 h-11 M1290.4 527.4 h6 M2061.4 527.4 h-6 M1290.4 475.7 h11 M2061.4 475.7 h-11 M1290.4 424 h6 M2061.4 424 h-6 M1290.4 372.2 h11 M2061.4 372.2 h-11 M1290.4 320.5 h6 M2061.4 320.5 h-6 M1290.4 268.8 h11 M2061.4 268.8 h-11 M1290.4 217.1 h6 M2061.4 217.1 h-6 M1290.4 165.4 h11 M2061.4 165.4 h-11 M1290.4 113.7 h6 M2061.4 113.7 h-6" stroke="#1c1c1c" stroke-width="2.8" fill="none"/>
<rect x="1290.4" y="62" width="771" height="620.5" fill="none" stroke="#1c1c1c" stroke-width="2.8"/>
<text x="1289.9" y="727" font-size="40" text-anchor="middle" class="t">−0.3</text>
<text x="1418.4" y="727" font-size="40" text-anchor="middle" class="t">−0.2</text>
<text x="1546.9" y="727" font-size="40" text-anchor="middle" class="t">−0.1</text>
<text x="1675.4" y="727" font-size="40" text-anchor="middle" class="t">0.0</text>
<text x="1803.9" y="727" font-size="40" text-anchor="middle" class="t">0.1</text>
<text x="1932.4" y="727" font-size="40" text-anchor="middle" class="t">0.2</text>
<text x="2060.9" y="727" font-size="40" text-anchor="middle" class="t">0.3</text>
<text x="1275.5" y="695.5" font-size="40" text-anchor="end" class="t">−7.5</text>
<text x="1275.5" y="592.1" font-size="40" text-anchor="end" class="t">−5.0</text>
<text x="1275.5" y="488.7" font-size="40" text-anchor="end" class="t">−2.5</text>
<text x="1275.5" y="385.2" font-size="40" text-anchor="end" class="t">0.0</text>
<text x="1275.5" y="281.8" font-size="40" text-anchor="end" class="t">2.5</text>
<text x="1275.5" y="178.4" font-size="40" text-anchor="end" class="t">5.0</text>
<text x="1275.5" y="75" font-size="40" text-anchor="end" class="t">7.5</text>
<rect x="1320" y="85" width="205" height="106.5" fill="#fff" stroke="#808080" stroke-width="1.6"/>
<path d="M1325 113.6 L1418 113.6" fill="none" stroke="#111" stroke-width="3" stroke-linejoin="miter"/>
<path d="M1325 164 L1418 164" fill="none" stroke="#ff1a1a" stroke-width="3" stroke-linejoin="miter"/>
<text x="1428" y="127" font-size="40.5" class="t">5.2 K</text>
<text x="1428" y="178" font-size="40.5" class="t">4 K</text>
<text x="1084.5" y="125.5" font-size="86">(c)</text>
<text x="1190" y="373.5" font-size="52.5" text-anchor="middle" transform="rotate(-90 1190 373.5)">Responsivity (mA/W)</text>
<text x="1677" y="781.5" font-size="52.5" text-anchor="middle"><tspan class="i">V</tspan><tspan font-size="36" dy="14">ds</tspan><tspan dy="-14"> (V)</tspan></text>
</g>
<g id="panel-d">
<path d="M1326.7 1198.4 L1361.9 1190.7 L1397.2 1234.7 L1432.5 1268.7 L1467.8 1270.2 L1503 1318.9 L1538.3 1331.2 L1573.6 1378.3 L1587.7 1388.3 L1601.8 1402.2 L1615.9 1406.1 L1630 1413.8 L1644.1 1415.4 L1658.2 1412.3 L1672.3 1415.4 L1679.4 1416.1 L1686.4 1416.1 L1700.5 1402.2 L1714.6 1406.9 L1749.9 1376 L1785.2 1355.9 L1820.4 1325.8 L1855.7 1294.9 L1891 1278.7 L1926.3 1260.2 L1961.5 1230.8 L1996.8 1215.4 L2032.1 1184.5" fill="none" stroke="#ff2020" stroke-width="2.6" stroke-linejoin="round"/>
<rect x="1319.4" y="1191.1" width="14.6" height="14.6" fill="#ff0000"/>
<rect x="1354.6" y="1183.4" width="14.6" height="14.6" fill="#ff0000"/>
<rect x="1389.9" y="1227.4" width="14.6" height="14.6" fill="#ff0000"/>
<rect x="1425.2" y="1261.4" width="14.6" height="14.6" fill="#ff0000"/>
<rect x="1460.5" y="1262.9" width="14.6" height="14.6" fill="#ff0000"/>
<rect x="1495.7" y="1311.6" width="14.6" height="14.6" fill="#ff0000"/>
<rect x="1531" y="1323.9" width="14.6" height="14.6" fill="#ff0000"/>
<rect x="1566.3" y="1371" width="14.6" height="14.6" fill="#ff0000"/>
<rect x="1580.4" y="1381" width="14.6" height="14.6" fill="#ff0000"/>
<rect x="1594.5" y="1394.9" width="14.6" height="14.6" fill="#ff0000"/>
<rect x="1608.6" y="1398.8" width="14.6" height="14.6" fill="#ff0000"/>
<rect x="1622.7" y="1406.5" width="14.6" height="14.6" fill="#ff0000"/>
<rect x="1636.8" y="1408.1" width="14.6" height="14.6" fill="#ff0000"/>
<rect x="1650.9" y="1405" width="14.6" height="14.6" fill="#ff0000"/>
<rect x="1665" y="1408.1" width="14.6" height="14.6" fill="#ff0000"/>
<rect x="1672.1" y="1408.8" width="14.6" height="14.6" fill="#ff0000"/>
<rect x="1679.1" y="1408.8" width="14.6" height="14.6" fill="#ff0000"/>
<rect x="1693.2" y="1394.9" width="14.6" height="14.6" fill="#ff0000"/>
<rect x="1707.3" y="1399.6" width="14.6" height="14.6" fill="#ff0000"/>
<rect x="1742.6" y="1368.7" width="14.6" height="14.6" fill="#ff0000"/>
<rect x="1777.9" y="1348.6" width="14.6" height="14.6" fill="#ff0000"/>
<rect x="1813.1" y="1318.5" width="14.6" height="14.6" fill="#ff0000"/>
<rect x="1848.4" y="1287.6" width="14.6" height="14.6" fill="#ff0000"/>
<rect x="1883.7" y="1271.4" width="14.6" height="14.6" fill="#ff0000"/>
<rect x="1919" y="1252.9" width="14.6" height="14.6" fill="#ff0000"/>
<rect x="1954.2" y="1223.5" width="14.6" height="14.6" fill="#ff0000"/>
<rect x="1989.5" y="1208.1" width="14.6" height="14.6" fill="#ff0000"/>
<rect x="2024.8" y="1177.2" width="14.6" height="14.6" fill="#ff0000"/>
<path d="M1326.7 1021.6 L1361.9 1022.4 L1397.2 1118.9 L1432.5 1199.2 L1467.8 1190.7 L1503 1267.1 L1538.3 1292.6 L1573.6 1348.2 L1587.7 1364.4 L1601.8 1379.8 L1615.9 1392.2 L1630 1396.1 L1644.1 1404.5 L1658.2 1404.5 L1672.3 1408.4 L1679.4 1408.4 L1686.4 1399.9 L1700.5 1391.4 L1714.6 1379.8 L1749.9 1346.6 L1785.2 1296.5 L1820.4 1251.7 L1855.7 1224.7 L1891 1171.4 L1926.3 1147.5 L1961.5 1116.6 L1996.8 1079.5 L2032.1 1048.7" fill="none" stroke="#1e78ff" stroke-width="2.6" stroke-linejoin="round"/>
<circle cx="1326.7" cy="1021.6" r="7.7" fill="#0000ff"/>
<circle cx="1361.9" cy="1022.4" r="7.7" fill="#0000ff"/>
<circle cx="1397.2" cy="1118.9" r="7.7" fill="#0000ff"/>
<circle cx="1432.5" cy="1199.2" r="7.7" fill="#0000ff"/>
<circle cx="1467.8" cy="1190.7" r="7.7" fill="#0000ff"/>
<circle cx="1503" cy="1267.1" r="7.7" fill="#0000ff"/>
<circle cx="1538.3" cy="1292.6" r="7.7" fill="#0000ff"/>
<circle cx="1573.6" cy="1348.2" r="7.7" fill="#0000ff"/>
<circle cx="1587.7" cy="1364.4" r="7.7" fill="#0000ff"/>
<circle cx="1601.8" cy="1379.8" r="7.7" fill="#0000ff"/>
<circle cx="1615.9" cy="1392.2" r="7.7" fill="#0000ff"/>
<circle cx="1630" cy="1396.1" r="7.7" fill="#0000ff"/>
<circle cx="1644.1" cy="1404.5" r="7.7" fill="#0000ff"/>
<circle cx="1658.2" cy="1404.5" r="7.7" fill="#0000ff"/>
<circle cx="1672.3" cy="1408.4" r="7.7" fill="#0000ff"/>
<circle cx="1679.4" cy="1408.4" r="7.7" fill="#0000ff"/>
<circle cx="1686.4" cy="1399.9" r="7.7" fill="#0000ff"/>
<circle cx="1700.5" cy="1391.4" r="7.7" fill="#0000ff"/>
<circle cx="1714.6" cy="1379.8" r="7.7" fill="#0000ff"/>
<circle cx="1749.9" cy="1346.6" r="7.7" fill="#0000ff"/>
<circle cx="1785.2" cy="1296.5" r="7.7" fill="#0000ff"/>
<circle cx="1820.4" cy="1251.7" r="7.7" fill="#0000ff"/>
<circle cx="1855.7" cy="1224.7" r="7.7" fill="#0000ff"/>
<circle cx="1891" cy="1171.4" r="7.7" fill="#0000ff"/>
<circle cx="1926.3" cy="1147.5" r="7.7" fill="#0000ff"/>
<circle cx="1961.5" cy="1116.6" r="7.7" fill="#0000ff"/>
<circle cx="1996.8" cy="1079.5" r="7.7" fill="#0000ff"/>
<circle cx="2032.1" cy="1048.7" r="7.7" fill="#0000ff"/>
<path d="M1326.7 907.4 L1361.9 949.8 L1397.2 986.1 L1432.5 1061 L1467.8 1097.3 L1503 1196.9 L1538.3 1244 L1573.6 1312.7 L1587.7 1348.2 L1601.8 1365.2 L1615.9 1369.8 L1630 1379.8 L1644.1 1398.4 L1658.2 1392.2 L1672.3 1399.9 L1679.4 1399.9 L1686.4 1386 L1700.5 1370.6 L1714.6 1354.4 L1749.9 1294.1 L1785.2 1223.9 L1820.4 1184.5 L1855.7 1127.4 L1891 1072.6 L1926.3 1034.8 L1961.5 996.9 L1996.8 980.7 L2032.1 954.5" fill="none" stroke="#008000" stroke-width="2.6" stroke-linejoin="round"/>
<path d="M1326.7 896.4 l9.7 16.6 h-19.4 z" fill="#008000"/>
<path d="M1361.9 938.8 l9.7 16.6 h-19.4 z" fill="#008000"/>
<path d="M1397.2 975.1 l9.7 16.6 h-19.4 z" fill="#008000"/>
<path d="M1432.5 1050 l9.7 16.6 h-19.4 z" fill="#008000"/>
<path d="M1467.8 1086.3 l9.7 16.6 h-19.4 z" fill="#008000"/>
<path d="M1503 1185.9 l9.7 16.6 h-19.4 z" fill="#008000"/>
<path d="M1538.3 1233 l9.7 16.6 h-19.4 z" fill="#008000"/>
<path d="M1573.6 1301.7 l9.7 16.6 h-19.4 z" fill="#008000"/>
<path d="M1587.7 1337.2 l9.7 16.6 h-19.4 z" fill="#008000"/>
<path d="M1601.8 1354.2 l9.7 16.6 h-19.4 z" fill="#008000"/>
<path d="M1615.9 1358.8 l9.7 16.6 h-19.4 z" fill="#008000"/>
<path d="M1630 1368.8 l9.7 16.6 h-19.4 z" fill="#008000"/>
<path d="M1644.1 1387.4 l9.7 16.6 h-19.4 z" fill="#008000"/>
<path d="M1658.2 1381.2 l9.7 16.6 h-19.4 z" fill="#008000"/>
<path d="M1672.3 1388.9 l9.7 16.6 h-19.4 z" fill="#008000"/>
<path d="M1679.4 1388.9 l9.7 16.6 h-19.4 z" fill="#008000"/>
<path d="M1686.4 1375 l9.7 16.6 h-19.4 z" fill="#008000"/>
<path d="M1700.5 1359.6 l9.7 16.6 h-19.4 z" fill="#008000"/>
<path d="M1714.6 1343.4 l9.7 16.6 h-19.4 z" fill="#008000"/>
<path d="M1749.9 1283.1 l9.7 16.6 h-19.4 z" fill="#008000"/>
<path d="M1785.2 1212.9 l9.7 16.6 h-19.4 z" fill="#008000"/>
<path d="M1820.4 1173.5 l9.7 16.6 h-19.4 z" fill="#008000"/>
<path d="M1855.7 1116.4 l9.7 16.6 h-19.4 z" fill="#008000"/>
<path d="M1891 1061.6 l9.7 16.6 h-19.4 z" fill="#008000"/>
<path d="M1926.3 1023.8 l9.7 16.6 h-19.4 z" fill="#008000"/>
<path d="M1961.5 985.9 l9.7 16.6 h-19.4 z" fill="#008000"/>
<path d="M1996.8 969.7 l9.7 16.6 h-19.4 z" fill="#008000"/>
<path d="M2032.1 943.5 l9.7 16.6 h-19.4 z" fill="#008000"/>
<path d="M1379.6 1468.5 v-6 M1379.6 844.4 v6 M1467.8 1468.5 v-11 M1467.8 844.4 v11 M1555.9 1468.5 v-6 M1555.9 844.4 v6 M1644.1 1468.5 v-11 M1644.1 844.4 v11 M1732.3 1468.5 v-6 M1732.3 844.4 v6 M1820.4 1468.5 v-11 M1820.4 844.4 v11 M1908.6 1468.5 v-6 M1908.6 844.4 v6 M1996.8 1468.5 v-11 M1996.8 844.4 v11 M1290.4 1460.9 h6 M2067.2 1460.9 h-6 M1290.4 1422.3 h11 M2067.2 1422.3 h-11 M1290.4 1383.7 h6 M2067.2 1383.7 h-6 M1290.4 1345.1 h11 M2067.2 1345.1 h-11 M1290.4 1306.5 h6 M2067.2 1306.5 h-6 M1290.4 1267.9 h11 M2067.2 1267.9 h-11 M1290.4 1229.3 h6 M2067.2 1229.3 h-6 M1290.4 1190.7 h11 M2067.2 1190.7 h-11 M1290.4 1152.1 h6 M2067.2 1152.1 h-6 M1290.4 1113.5 h11 M2067.2 1113.5 h-11 M1290.4 1074.9 h6 M2067.2 1074.9 h-6 M1290.4 1036.3 h11 M2067.2 1036.3 h-11 M1290.4 997.7 h6 M2067.2 997.7 h-6 M1290.4 959.1 h11 M2067.2 959.1 h-11 M1290.4 920.5 h6 M2067.2 920.5 h-6 M1290.4 881.9 h11 M2067.2 881.9 h-11" stroke="#1c1c1c" stroke-width="2.8" fill="none"/>
<rect x="1290.4" y="844.4" width="776.8" height="624.1" fill="none" stroke="#1c1c1c" stroke-width="2.8"/>
<text x="1290.9" y="1512.6" font-size="40" text-anchor="middle" class="t">−10</text>
<text x="1467.2" y="1512.6" font-size="40" text-anchor="middle" class="t">−5</text>
<text x="1643.6" y="1512.6" font-size="40" text-anchor="middle" class="t">0</text>
<text x="1819.9" y="1512.6" font-size="40" text-anchor="middle" class="t">5</text>
<text x="1996.3" y="1512.6" font-size="40" text-anchor="middle" class="t">10</text>
<text x="1277" y="1435.3" font-size="40" text-anchor="end">0</text>
<text x="1277" y="1358.1" font-size="40" text-anchor="end">1</text>
<text x="1277" y="1280.9" font-size="40" text-anchor="end">2</text>
<text x="1277" y="1203.7" font-size="40" text-anchor="end">3</text>
<text x="1277" y="1126.5" font-size="40" text-anchor="end">4</text>
<text x="1277" y="1049.3" font-size="40" text-anchor="end">5</text>
<text x="1277" y="972.1" font-size="40" text-anchor="end">6</text>
<text x="1277" y="894.9" font-size="40" text-anchor="end">7</text>
<rect x="1293.5" y="1277.3" width="151" height="190" fill="#fff" stroke="#808080" stroke-width="1.6"/>
<text x="1300.5" y="1314" font-size="35"><tspan class="i">V</tspan><tspan font-size="24" dy="8">ds</tspan><tspan dy="-8"> (mV)</tspan></text>
<path d="M1298.5 1353.6 L1378.8 1353.6" fill="none" stroke="#008000" stroke-width="2.6" stroke-linejoin="miter"/>
<path d="M1338 1342.6 l9.7 16.6 h-19.4 z" fill="#008000"/>
<text x="1388.5" y="1365.3" font-size="35">140</text>
<path d="M1298.5 1398.2 L1378.8 1398.2" fill="none" stroke="#1e78ff" stroke-width="2.6" stroke-linejoin="miter"/>
<circle cx="1338" cy="1398.2" r="7.7" fill="#0000ff"/>
<text x="1388.5" y="1409.9" font-size="35">90</text>
<path d="M1298.5 1442.2 L1378.8 1442.2" fill="none" stroke="#ff2020" stroke-width="2.6" stroke-linejoin="miter"/>
<rect x="1330.7" y="1434.9" width="14.6" height="14.6" fill="#ff0000"/>
<text x="1388.5" y="1453.9" font-size="35">50</text>
<rect x="1523.5" y="857.9" width="325.2" height="261" fill="#fff"/>
<path d="M1524 880.4 C1525 881.3 1527.5 882.8 1530 886 C1532.5 889.2 1536 893.6 1539.3 899.9 C1542.6 906.2 1546.5 916.2 1550 924 C1553.5 931.8 1556.2 937 1560 946.5 C1563.8 956 1568.4 970.5 1572.6 980.8 C1576.8 991.1 1580.8 999.8 1585 1008.4 C1589.2 1017 1593.5 1025.1 1597.7 1032.2 C1601.9 1039.3 1606 1045.1 1610.2 1051 C1614.4 1056.9 1618.6 1062.4 1622.8 1067.4 C1627 1072.4 1631.1 1077 1635.3 1081.2 C1639.5 1085.4 1643.7 1089.7 1647.9 1092.5 C1652.1 1095.3 1656.2 1097 1660.4 1098.3 C1664.6 1099.6 1668.8 1100.1 1673 1100.5 C1677.2 1100.9 1681.3 1100.9 1685.5 1100.5 C1689.7 1100.1 1693.8 1099.3 1698 1098.3 C1702.2 1097.3 1706.4 1095.5 1710.6 1094.3 C1714.8 1093.1 1719 1092.8 1723.2 1091.2 C1727.4 1089.7 1731.5 1088.1 1735.7 1085 C1739.9 1081.9 1744.1 1078.1 1748.3 1072.4 C1752.5 1066.7 1757.6 1057.5 1760.9 1051 C1764.2 1044.5 1765.9 1040.2 1768.4 1033.5 C1770.9 1026.8 1773 1019.3 1775.9 1010.9 C1778.8 1002.5 1782.2 991.7 1786 983.3 C1789.8 974.9 1795.2 966.2 1798.5 960.7 C1801.8 955.2 1803.1 954.4 1806 950.6 C1808.9 946.8 1812.7 943 1816 938 C1819.3 933 1822.6 925.9 1826 920.5 C1829.4 915.1 1832.5 910.2 1836.2 905.4 C1839.9 900.6 1846.2 893.9 1848.2 891.6" fill="none" stroke="#ff1a1a" stroke-width="2.4" stroke-linejoin="round"/>
<path d="M1560.5 1118.9 v-3.5 M1560.5 857.9 v3.5 M1598.8 1118.9 v-6 M1598.8 857.9 v6 M1637.2 1118.9 v-3.5 M1637.2 857.9 v3.5 M1675.5 1118.9 v-6 M1675.5 857.9 v6 M1713.8 1118.9 v-3.5 M1713.8 857.9 v3.5 M1752.2 1118.9 v-6 M1752.2 857.9 v6 M1790.5 1118.9 v-3.5 M1790.5 857.9 v3.5 M1828.9 1118.9 v-6 M1828.9 857.9 v6 M1523.5 1092.8 h3.5 M1848.7 1092.8 h-3.5 M1523.5 1066.7 h6 M1848.7 1066.7 h-6 M1523.5 1040.6 h3.5 M1848.7 1040.6 h-3.5 M1523.5 1014.5 h6 M1848.7 1014.5 h-6 M1523.5 988.4 h3.5 M1848.7 988.4 h-3.5 M1523.5 962.3 h6 M1848.7 962.3 h-6 M1523.5 936.2 h3.5 M1848.7 936.2 h-3.5 M1523.5 910.1 h6 M1848.7 910.1 h-6 M1523.5 884 h3.5 M1848.7 884 h-3.5" stroke="#1c1c1c" stroke-width="2.4" fill="none"/>
<rect x="1523.5" y="857.9" width="325.2" height="261" fill="none" stroke="#1c1c1c" stroke-width="2.4"/>
<text x="1522.1" y="1142" font-size="28.5" text-anchor="middle">−8</text>
<text x="1598.8" y="1142" font-size="28.5" text-anchor="middle">−4</text>
<text x="1675.5" y="1142" font-size="28.5" text-anchor="middle">0</text>
<text x="1752.2" y="1142" font-size="28.5" text-anchor="middle">4</text>
<text x="1828.9" y="1142" font-size="28.5" text-anchor="middle">8</text>
<text x="1516.5" y="1128.4" font-size="28.5" text-anchor="end">0.2</text>
<text x="1516.5" y="1076.2" font-size="28.5" text-anchor="end">0.3</text>
<text x="1516.5" y="1024" font-size="28.5" text-anchor="end">0.4</text>
<text x="1516.5" y="971.8" font-size="28.5" text-anchor="end">0.5</text>
<text x="1516.5" y="919.6" font-size="28.5" text-anchor="end">0.6</text>
<text x="1516.5" y="867.4" font-size="28.5" text-anchor="end">0.7</text>
<text x="1474.5" y="987" font-size="29" text-anchor="middle" transform="rotate(-90 1474.5 987)"><tspan class="i">G</tspan> (mS)</text>
<text x="1693.5" y="1162.8" font-size="29" text-anchor="middle"><tspan class="i">V</tspan><tspan font-size="20" dy="6.5">g</tspan><tspan dy="-6.5"> − </tspan><tspan class="i">V</tspan><tspan font-size="20" dy="6.5">cnp</tspan><tspan dy="-6.5"> (V)</tspan></text>
<text x="1070" y="920" font-size="85">(d)</text>
<text x="1245" y="1159.5" font-size="52.3" text-anchor="middle" transform="rotate(-90 1245 1159.5)">Responsivity (mA/W)</text>
<text x="1681" y="1570" font-size="52" text-anchor="middle"><tspan class="i">V</tspan><tspan font-size="36.5" dy="13.3">g</tspan><tspan dy="-13.3"> − </tspan><tspan class="i">V</tspan><tspan font-size="36.5" dy="13.3">cnp</tspan><tspan dy="-13.3"> (V)</tspan></text>
</g>
</svg></body></html>
